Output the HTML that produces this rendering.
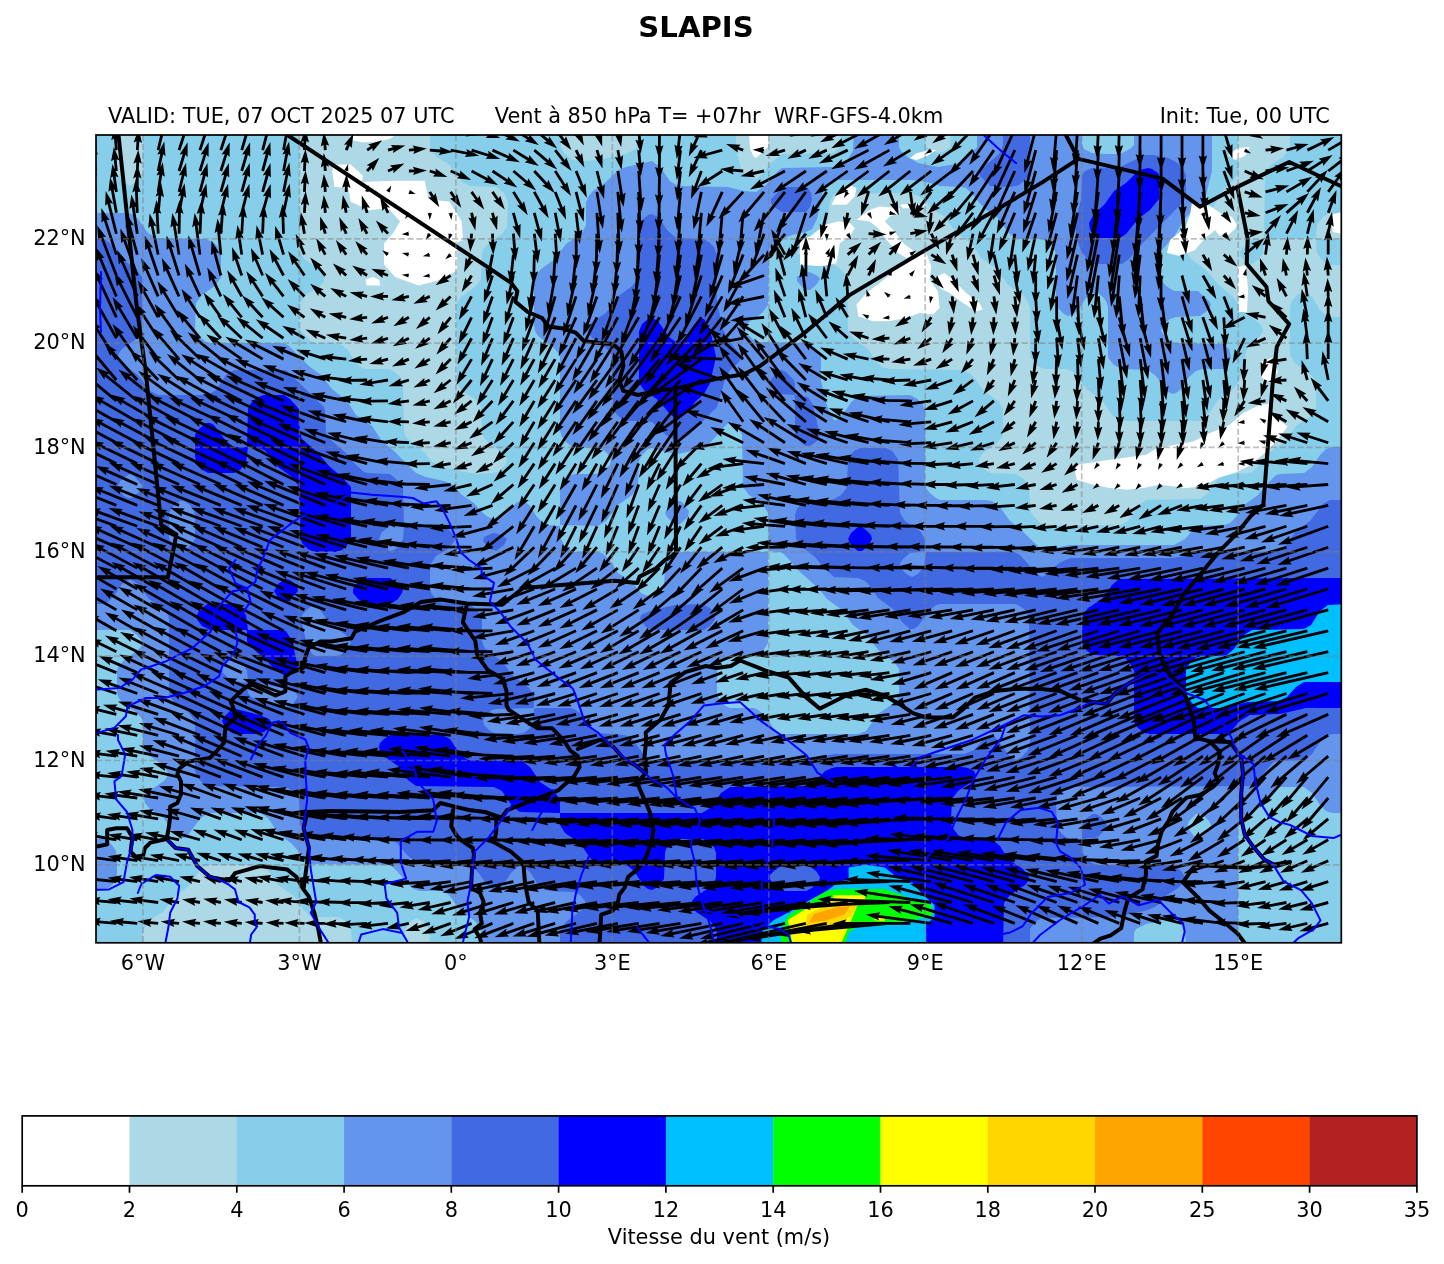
<!DOCTYPE html>
<html><head><meta charset="utf-8"><title>SLAPIS</title>
<style>html,body{margin:0;padding:0;background:#fff;}body{width:1444px;height:1264px;overflow:hidden;}svg{display:block;}</style>
</head><body>
<svg width="1444" height="1264" viewBox="0 0 1444 1264">
<defs><clipPath id="m"><rect x="96.0" y="135.0" width="1245.3" height="807.8"/></clipPath></defs>
<rect width="1444" height="1264" fill="#fff"/>
<g clip-path="url(#m)">
<rect x="96.0" y="135.0" width="1245.3" height="807.8" fill="#fff"/>
<path fill="#add8e6" d="M94 131l655 0 1 18 4 8 2 1 12-11 1-16 577 0 0 816-1254 0 0-816zM1224 215l-10 10-1 2 6 8 5 3 2-1 9-8 2-4-5-8-6-3z"/><path fill="#87ceeb" d="M94 131l23 0 0 42 5 8 8 5 8-5 5-8 0-42 156 0 1 120 4 8 15 10 6 8-1 4-3 4-15 10-6 8-1 22 2 6 9 10 4 2 22 0 6 2 6 5 8 13 8 6 26 0 6 4 4 4 3 6 1 48 2 6 18 15 7 9 5 3 6 3 28 6 8 1 14-1 6-1 7-7 2-6-5-7-12-8-6-6-2-5-1-26-6-8-13-8-5-8-1-78 5-8 14-10 6-8 1-26 2-5 6-6 12-8 5-7 1-26-4-8-8-6-26-1-8-4-12-17-13-8-5-6-2-6 0-14 130 0 1 16 3 6 8 7 10 1 16-1 28-6 6-3 4-2 2-4 0-14 98 0 0 18 5 20 4 6 9 4 4-1 14-16 10-8 52-1 6-6 1-16 84 0 1 16 5 4 7 2 7-2 5-4 1-16 287 0 0 38-1 6-4 6-9 8-11 18-19 18-7 28 5 7 13 9 15 17 13 11 11 15 15 11 3 4 1 4-3 5-10 9-3 4-6 26-5 11-6 6-12 8-10 15-8 6-80 0-8-6-10-15-16-11-8-12-6-6-6-2-22 0-6-3-5-5-3-6 0-48-4-8-4-5-14-9-11-16-15-10-10-15-16-11-11-16-13-8-8-10-8-4-8-2-74 1-4 7-3 24-3 10-8 7-16 7-2 2-1 2 7 4 28 7 6 3 6 6 3 8 1 50 6 8 14 10 8 12 6 6 8 2 74 1 8 5 12 16 14 10 5 8 0 26-6 8-15 11-3 5 0 4 5 6 6 4 26 1 8 5 5 8 2 26 9 10 6 3 74-1 8-4 10-15 8-6 54-1 8-6 8-12 7-6 5-1 20-1 4-1 10-9 8-11 16-11 10-15 16-11 4-7 0-27-6-7-15-11-5-8 0-48 2-6 6-7 6-2 8 5 8 13 6 5 6 2 14 0 0 630-916 0-1-18-6-8-7-3-6 4-5 7-1 18-52 0-1-18-7-9-6-3-24 0-4-1-7-7-9-13-16-11-11-16-7-4-8 0-42 0-6 2-6 6-8 12-16 12-10 14-12 8-6 6-3 6 0 16-51 0 0-816zM1292 131l54 0 0 82-16 0-7 4-6 8-1 14-52 0-1 14-5 7-6 4-4-1-5-4-3-4 0-4 12-12 12 0 1-66 5-7 13-9 5-6 2-6 0-14zM1318 239l28 0 0 26-16 0-7-4-6-8-1-14z"/><path fill="#6495ed" d="M854 131l45 0 0 16 2 4 5 5 12 7 20 4 18-3 10-5 11-12 0-16 105 0 0 14 2 4 8 4 12 1 16 0 10-5 4-4 0-14 78 0 0 40-7 28-3 4-12 10-7 8-9 16-13 14-1 6 0 20 2 4 4 5 8 5 24 0 11 10 2 4-4 6-7 5-24 1-6 2-7 6-2 6 5 7 8 5 50 1 5 5 2 8-3 7-4 5-22 0-6 2-7 6-8 12-5 4-4 1-5-3-11-15-8-6-26-1-8-4-5-6-1-4 0-48-1-4-3-5-6-5-6 0-6 5-7 11-5 5-6 2-4-2-5-5-3-6 0-48-1-4-3-5-6-5-4-2-24 0-6-3-5-5-9-13-14-10-14-16-4-4-4-1-22-1-14-4-14-2-76 0-6 2-4 4-3 5-6 28-5 10-6 3-14 3-10 4-7 4-5 6-1 6-1 50-6 8-14 10-4 6 2 4 10 9 50 1 4 1 6 5 5 8 0 24 7 28 6 11 2 0 5-3 11-16 8-5 50-1 6 3 6 5 3 6 0 74 1 5 4 5 6 5 4 2 46 0 6 1 8 6 10 14 8 6 24 23 28-5 104 0 11-6 7-8 6-5 26-1 6-2 6-6 8-12 14-10 8-10 10-10 4-1 24-1 8-6 8-12 6-6 6-2 14 0 0 366-14 0-6-2-6-6-8-12-8-6-24 0-6 3-16 18-16 12-3 5-1 4 0 118-52 0-1-18-6-8-7-3-26 6-10 5-2 4 0 14-652 0 0-14-2-6-5-6-14-10-12-16-7-4-22 0-6-2-5-4-13-15-6-5-78-1-6-4-14-16-14-11-10-15-6-4-4-1-50 0-8 6-12 16-4 3-4-1-8-6-8-13-14-9-5-6-1-4 2-4 6-6 12-8 3-4 1-4-5-8-12-8-6-6-2-6 0-22-1-4-6-7-10-6-5-5-3-4-1-6 0-20 1-4 6-7 14-10 4-5 0-4-5-6-7-5-38 0 0-417 34 0 6 1 6 5 10 14 8 5 50 1 8 4 4 4 3 6 0 24-5 8-14 10-6 8-1 26 5 8 6 5 4 1 72 0 6 2 22 22 10 7 12 15 15 12 9 14 16 11 10 15 12 10 22 22 10 4 18 4 9 4 9 10 12 8 9 10 5 4 6 2 8-2 5-4 9-10 4-2 4 0 6 5 7 11 6 6 5 2 12 1 1 13 3 6 4 3 6 4 22 0 6 1 7 6 9 14 14 9 9 11 9 4 6-1 7-5 1-4 1-22 3-6 8-6 6-1 86 0 0 91-5 8-7 5-26 0-8 6-4 5-1 4 0 22 1 4 6 8 6 3 24 0 4 2 7 5 9 14 8 5 76 0 8-3 12-17 13-9 6-6 2-6 0-24-5-7-15-11-11-15-15-11-11-15-15-11-8-10-19-17-16-18-4-2-11-1-1-38-5-8-14-10-6-8-1-52-3-6-5-5-4-1-2 0-18 20-6 4-8 3-18 4-12-2-14-4-4 1-6 6-3 6-1 24-1 4-5 6-14 10-12 16-8 5-38-1 0-36 4-8 4-4 6-3 22 0 6-2 8-7 1-6-4-6-7-5-27-1-6-4-5-6-2-6 0-74-2-4-4-5-16-12-3-5-1-6 0-44 2-6 5-6 14-10 11-15 12-8 5-5 3-6 0-22 2-6 5-6 12-8 12-12 9-4 26-6 8 6 10 14 8 5 50 1 16 4 12 1 10-7 12-14 4-3 50-1 6-1 6-3 4-4 5-8 1-20zM1195 815l-6 6-2 6 7 9 4 2 4-1 7-6 2-6-2-4-5-5-4-2-4 0zM804 273l4-1 4 1 7 4 1 2-4 6-6 5-2 0-4-1-7-8 0-4 6-4zM676 501l4 0 3 2 6 8-1 6-8 7-4 1-4-3-5-5-2-4 3-6 7-6zM94 839l10 0 8 6 4 6 1 10 0 16-3 6-4 4-6 3-10 1-2 0 0-52z"/><path fill="#4169e1" d="M1004 131l26 0 0 38-1 6-5 6-5 4-3 1-8 1-18-1-9-9-2-4 7-8 12-10 3-4 2-6 0-14zM1146 155l8 0 14 3 8 4 6 5 4 8 0 22-2 4-47 48-8 10-7 5-28 0-7-5-6-8-4-12-2-14 3-14 3-12 1-24 3-4 7-3 28-1 25-12zM784 187l20 0 4 1 3 5 1 6-2 8-4 5-24 0-8-5-3-4 0-4 12-12zM648 215l4-1 6 3 10 14 8 7 28 1 6 4 4 4 3 8 0 48 6 26 5 11 11 13 3 4-4 6-8 7-4 6-9 31-28 28-9 5-4 0-10-5-14-13-4-1-22 0-8-5-4-5-1-4-1-52-7-8-13-9-5-7 1-4 4-5 14-9 11-16 14-10 6-6 1-6 1-48 2-6 7-6zM94 239l10 0 6 4 12 16 14 10 6 8 0 54-6 8-14 10-3 4-1 4 6 8 14 10 12 16 8 4 50 0 8-5 10-15 8-5 52 0 38 37 1 4 1 22 6 8 14 12 8 10 10 9 4 1 22 1 6 5 7 8 1 38-14 1-8 6-3 7 5 8 6 4 4-1 4-3 5-8 1-13 38 0 6 3 4 4 3 6-2 4-5 6-12 7-6 9 0 22 1 6 5 6 6 4 26 1 8 5 6 8 0 24 2 6 6 6 12 8 10 14 16 12 6 8 0 13-38 1-4 1-6 5-3 6 1 4 6 6 6 3 22 0 6-1 5-4 4-6 1-14 2-1 34 0 4 1 6 4 10 14 8 6 26 2 4 1 6 5 10 14 6 5 4 0 150 0 30-6 130 0 10-4 10-11 6-4 4 1 4 4 9 13 5 5 4 2 6-3 6-7 2-7-1-124-1-4-4-6-6-4-4-1-74 0-4 1-5 4-13 17-4 3-4 0-7-6-10-14-15-11-8-12-5-5-7-3-24-1-11-10-8-10-9-7-10-11-1-24 2-6 5-6 6-3 24 0 4-2 5-3 5-6 1-4 1-26 6-8 6-3 26 0 6 3 6 8 2 54 5 8 15 10 4 6 1 4 0 10-15 2-6 5-4 5 1 4 2 4 5 4 4 2 6-3 6-7 2-15 88 0 6 3 16 18 6 4 6-3 11-11 11-5 102 0 14-2 16-4 74 0 4-2 6-5 10-14 14-10 14-18 6-3 16 0 0 234-14 0-6 2-6 6-8 12-8 6-24 1-6 1-5 5-13 15-6 4-178 1-8 2-7 8-1 6 1 24 4 6 5 4 4 2 12 0 1 14 4 6 5 4 6 2 72 0 6 2 5 4 4 6-2 6-5 5-11 7-7 8-5 4-7 3-30 7-76 1-6 3-6 8 0 18-470 0 0-14 2-6 5-6 15-11 3-5 0-4-5-6-6-3-24-1-6-2-7-6-7-11-6-5-4-1-4 2-5 5-8 12-5 4-4 1-7-5-9-13-8-6-52-2-11-9-10-12-7-4-72 0-6-1-12-13-1-26-4-6-7-5-6-1-72-1-6-2-7-7-2-6 0-50-6-8-15-11-5-7 0-76-2-6-6-6-12-8-11-15-8-5-8 5-8 12-6 6-6 2-10 0 0-365zM128 475l-8 6-2 6 2 4 4 5 4 2 4 0 8-7 2-4 0-2-8-9-4-2-2 1zM180 501l-7 6-4 6 0 24 1 4 5 6 5 3 4 1 6-5 5-7 0-24-1-4-4-6-6-4-4 0zM310 607l-8 8-1 4 6 26 5 9 4 2 20 0 4-1 6-4 5-8-3-6-5-4-12-8-13-18-4-2-4 2zM230 659l-7 8-1 2 1 4 9 8 15 2 1 10 3 4 9 4 26 6 6-2 6-8-2-4-8-4-16-3-12-3-12-1-1-11-2-4-9-9-2-1-4 2zM780 370l2 0 4 2 7 7 2 4 0 12 13 2 5 8 7 30-3 6-7 5-4 0-4-2-7-9 0-38-1-2-14-1-6-4-4-5 1-6 8-8zM494 533l8 2 5 4-3 6-8 6-6-2-7-8 1-4 9-4zM676 605l26-1 8 4 5 7 0 4-4 6-7 5-50 0-8-3-6-8 1-4 9-4 25-6zM1092 814l4 0 4 2 5 5 2 4-3 6-6 6-4 1-12 1 0-14 4-6 5-4z"/><path fill="#0000ff" d="M1144 169l4-1 4 1 6 4 1 2 0 24-9 11-12 9-12 15-6 4-24 0-6-8-1-7 5-9 10-9 10-14 12-8 10-10 7-4zM650 318l4 1 4 2 11 16 7 5 4 0 4-3 10-14 6-6 4 0 6 10 6 28-6 26-6 11-8 7-8 10-10 9-2-1-7-6-11-13-14-10-5-7 0-52 3-7 6-5zM258 397l6-2 20 0 6 4 9 10 1 24 2 6 14 12 14 16 12 10 9 10 0 50-2 6-7 7-6 2-22 0-6-3-6-6-2-6-1-46-1-6-6-8-14-10-8-12-6-5-6-2-10-1-2 16-6 7-6 3-26 0-7-4-4-6-2-6 0-22 4-6 7-6 4 0 4 2 12 16 6 5 4 1 11 0 1-38 3-6 6-6zM858 527l4 0 4 3 5 5 1 4-3 6-7 6-4 0-4-3-4-5-2-4 3-6 7-6zM286 579l4 1 4 3 3 4 1 4-8 9-4 3-7-4-5-8 4-7 7-5zM364 578l26 0 8 5 5 6-1 4-4 6-6 4-26 1-8-5-5-6 0-4 4-6 6-4zM1120 579l226-1 0 130-40 0-26 6-30 1-10 6-8 9-8 4-74 0-6-1-7-6-3-6 0-50-3-6-5-6-6-3-26-1-7-4-5-8 0-22 1-6 5-7 14-9 10-14 7-6zM208 604l24 0 6 2 8 9 2 15 34 0 4 1 6 10 6 26-1 4-5 3-4 1-4 0-10-6-6-7-19-17-2-4 0-10-1-1-36 0-8-4-4-5-2-4 3-6 7-6zM230 711l6-2 24 6 9 4 3 4-2 4-6 5-8 2-20 0-4-1-7-6-3-6 2-4 6-6zM392 735l50 0 8 4 10 15 8 6 54 1 8 6 10 15 12 8 5 5 3 6 0 12-40-1-8-6-10-15-8-4-78-1-8-6-10-14-13-9-5-6-1-4 1-4 4-4 6-4zM838 767l124 0 6 1 6 3 2 4-2 4-4 4-12 8-6 8-1 22 1 6 6 8 6 3 24 1 6 2 6 5 8 13 15 10 6 8-1 4-3 4-15 10-6 8-1 44-286 0 0-14-2-6-5-6-14-9-4-7 0-4 3-4 15-10 5-6 1-4 0-24-2-6-6-6-6-2-22 0-4 1-5 3-5 6-1 4-1 26-6 8-6 3-4-1-4-3-10-15-6-5-6-1-20 0-6-2-6-5-10-15-15-10-5-8 0-12 142 0 8-5 11-15 9-6 78-1 6-3 11-12 7-3 5-1zM783 865l-7 4-6 6 0 4 4 6 8 6 24 0 6-3 7-7 1-4-4-6-8-6-24 0z"/><path fill="#00bfff" d="M1328 605l18-1 0 78-42 0-8 5-9 10-9 4-30 1-26 6-24 0-6-5-6-8 0-26 4-6 6-5 6-2 20 0 5-1 7-6 10-14 8-5 52-1 7-4 9-14 8-6z"/>
<path fill="#fff" d="M349.5 135.0L395.1 135.0L390.2 138.7L377.9 141.8L363.0 142.4L350.7 139.9ZM332.2 172.0L333.4 164.6L350.7 164.6L363.0 175.7L361.8 181.9L392.7 180.7L424.8 180.7L428.5 199.2L449.5 201.7L461.8 221.4L463.0 239.9L456.9 242.4L456.9 270.8L437.1 280.7L418.6 285.6L395.1 277.0L384.0 264.6L384.0 243.6L392.7 233.8L400.1 221.4L390.2 210.3L380.3 209.1L369.2 210.3L350.7 201.7L348.2 188.1L334.6 186.9ZM365.5 279.4L372.9 277.0L379.1 279.4L380.3 285.6L366.7 285.6ZM800.0 239.7L810.0 236.4L824.9 224.8L838.2 221.5L849.9 223.1L854.8 228.1L849.9 236.4L839.9 243.1L838.2 253.0L836.6 263.0L821.6 266.3L800.0 264.7ZM831.6 204.8L838.2 191.5L849.9 184.9L856.5 188.2L854.8 196.5L846.5 204.8ZM856.5 219.8L869.8 209.8L879.8 206.5L899.7 208.2L899.7 213.2L889.7 216.5L884.8 221.5L893.1 229.8L903.0 243.1L916.3 253.0L906.4 258.0L898.1 253.0L886.4 239.7L878.1 228.1L869.8 221.5ZM856.5 304.6L866.5 292.9L879.8 283.0L899.7 266.3L916.3 256.4L926.3 253.0L931.3 266.3L929.6 279.6L937.9 291.3L939.6 307.9L933.0 314.5L919.7 312.9L906.4 317.9L888.1 321.2L873.1 321.2L858.2 316.2ZM937.9 276.3L944.6 273.0L956.2 283.0L966.2 292.9L979.5 302.9L982.8 309.5L976.2 311.2L962.9 302.9L949.6 292.9L939.6 287.9ZM909.7 158.3L916.3 153.3L929.6 150.0L936.3 150.0L926.3 156.6L916.3 160.0ZM899.7 204.8L913.0 203.2L926.3 204.8L916.3 208.2L903.0 208.2ZM1192.0 202.0L1210.0 206.0L1222.0 214.0L1218.0 228.0L1205.0 238.0L1195.0 250.0L1180.0 256.0L1167.0 253.0L1170.0 240.0L1185.0 228.0L1190.0 215.0ZM1238.0 267.0L1246.0 265.0L1248.0 290.0L1247.0 312.0L1239.0 312.0L1238.0 290.0ZM1228.0 155.0L1238.0 148.0L1250.0 147.0L1245.0 156.0L1235.0 160.0ZM1260.0 362.0L1272.0 358.0L1278.0 372.0L1270.0 382.0L1262.0 378.0ZM1330.0 215.0L1342.0 212.0L1342.0 234.0L1333.0 232.0ZM1076.6 464.8L1109.9 459.8L1146.4 454.8L1156.4 448.2L1193.0 441.5L1209.6 433.2L1229.5 424.9L1242.8 413.3L1259.4 405.0L1272.7 403.3L1269.4 413.3L1287.7 426.6L1276.1 441.5L1262.8 454.8L1247.8 466.5L1234.5 473.1L1217.9 478.1L1202.9 486.4L1186.3 488.1L1159.7 484.8L1143.1 488.1L1126.5 489.7L1109.9 488.1L1093.2 484.8L1076.6 479.8L1075.0 471.5Z"/>
<path fill="#00bfff" d="M760.0 952.0L762.8 929.8L773.9 920.1L791.9 910.4L808.5 900.7L826.5 891.0L837.6 882.7L848.6 878.5L848.6 867.5L865.3 864.7L884.7 867.5L898.5 878.5L912.4 882.7L923.4 895.2L934.5 904.9L934.5 917.3L926.2 924.3L926.2 940.9L924.8 952.0 Z"/><path fill="#00ff00" d="M780.8 952.0L780.8 932.6L787.7 915.9L801.6 906.2L826.5 891.0L837.6 888.9L884.7 888.9L905.4 896.6L931.7 904.9L931.7 915.9L912.4 920.1L893.0 924.3L857.0 927.0L848.6 932.6L843.1 952.0 Z"/><path fill="#ffff00" d="M793.2 952.0L790.5 932.6L787.7 920.1L805.7 909.0L822.3 901.4L833.4 899.3L833.4 895.2L865.3 895.2L865.3 900.7L857.0 906.2L851.4 920.1L845.9 932.6L837.6 952.0 Z"/><path fill="#ffff00" d="M873.6 920.1L876.3 915.9L884.7 915.9L884.7 921.5 Z"/><path fill="#ffd700" d="M805.7 925.6L807.1 914.6L822.3 907.6L843.1 904.2L858.3 903.5L851.4 915.9L843.1 920.1L826.5 925.6L815.4 929.8 Z"/><path fill="#ffa500" d="M808.5 922.9L814.0 913.9L837.6 906.9L850.0 906.2L844.5 914.6L825.1 920.8 Z"/>
<path fill="#000" d="M96.9 129.1l-1.5-17.4 2.9 1.2-5.4-13.6-3.0 14.3 2.7-1.6 1.5 17.3zM117.8 129.1l-1.0-11.6 2.9 1.1-5.4-13.6-3.0 14.4 2.7-1.7 1.0 11.6zM138.7 129.3l0.6-8.7 2.7 1.5-3.3-14.2-5.1 13.7 2.9-1.2-0.6 8.7zM159.5 129.5l4.0-16.9 2.4 2.0-0.9-14.6-7.2 12.7 3.0-0.8-4.0 17.0zM180.4 129.6l5.4-16.5 2.2 2.2 0.3-14.6-8.3 12.0 3.1-0.5-5.4 16.6zM201.3 129.6l5.4-16.5 2.2 2.2 0.3-14.6-8.3 12.0 3.1-0.5-5.4 16.6zM222.2 129.6l5.4-16.5 2.2 2.2 0.3-14.6-8.3 12.0 3.1-0.5-5.4 16.6zM243.1 129.6l4.9-16.7 2.3 2.1-0.1-14.6-8.0 12.3 3.1-0.6-4.9 16.7zM264.0 129.6l4.4-16.9 2.4 2.1-0.5-14.6-7.6 12.5 3.0-0.7-4.4 16.8zM284.9 129.5l3.1-17.2 2.5 1.9-1.6-14.5-6.6 13.0 3.0-0.9-3.1 17.1zM305.8 129.3l0.5-9.1 2.7 1.5-3.6-14.2-4.8 13.8 2.9-1.3-0.5 9.1zM326.7 129.1l-0.4-5.4 2.9 1.2-5.4-13.6-3.0 14.3 2.7-1.7 0.4 5.4zM347.5 129.8l2.2-5.0 2.0 2.4 1.7-14.5-9.4 11.2 3.1-0.2-2.2 4.9zM367.9 130.4l4.5-3.0 0.4 3.1 9.4-11.1-14.0 4.1 2.7 1.6-4.5 2.9zM388.4 130.6l5.2-1.5-0.6 3.1 12.4-7.7-14.6-0.4 2.1 2.3-5.3 1.4zM409.0 130.6l5.4-0.5-1.1 2.9 13.5-5.4-14.3-2.9 1.7 2.6-5.4 0.5zM429.7 130.6l11.3 1.0-1.6 2.7 14.3-3.0-13.6-5.4 1.2 2.9-11.4-1.0zM450.4 130.6l17.1 3.3-1.9 2.5 14.5-1.5-12.9-6.8 0.8 3.0-17.0-3.3zM471.2 130.5l16.6 5.1-2.1 2.3 14.6 0.1-12.2-8.1 0.5 3.1-16.6-5.1zM491.9 130.5l15.9 7.1-2.4 1.9 14.5 1.9-11.1-9.5 0.1 3.1-15.9-7.1zM512.6 130.4l14.8 9.2-2.7 1.7 14.1 3.8-9.6-11.0-0.3 3.1-14.8-9.2zM533.4 130.3l13.3 11.2-2.9 1.2 13.4 5.8-8.0-12.2-0.7 3.0-13.3-11.2zM554.1 130.1l8.4 10.8-3.1 0.6 12.0 8.5-5.4-13.7-1.3 2.9-8.4-10.9zM574.8 129.8l2.3 4.9-3.1-0.1 9.9 10.8-2.3-14.4-1.9 2.5-2.4-4.9zM595.6 129.6l1.6 5.2-3.1-0.5 8.1 12.1-0.1-14.6-2.2 2.2-1.6-5.2zM616.5 129.5l1.0 5.3-3.0-0.9 6.7 13.0 1.5-14.6-2.5 1.9-1.0-5.3zM637.3 129.3l1.0 11.5-2.9-1.1 5.4 13.6 3.0-14.4-2.7 1.7-1.0-11.5zM658.2 129.2l-0.3 17.4-2.8-1.5 4.0 14.1 4.4-13.9-2.8 1.3 0.3-17.4zM679.1 129.0l-2.1 17.3-2.6-1.7 2.4 14.4 5.9-13.4-2.9 1.0 2.1-17.2zM700.1 128.6l-7.3 15.8-2.0-2.5-2.1 14.5 9.7-10.9-3.1 0.0 7.4-15.7zM721.9 127.9l-16.7 4.6 0.6-3.1-12.4 7.8 14.6 0.3-2.1-2.3 16.8-4.7zM743.7 127.9l-4.7-1.7 2.3-2.2-14.6-0.7 11.7 8.7-0.3-3.1 4.6 1.6zM764.1 128.2l-1.0 0.0 1.1-1.9-9.9 2.6 9.7 3.2-0.9-1.9 1.0 0.0zM784.6 127.9l-5.2 1.5 0.5-3.1-12.1 8.1 14.6 0.0-2.2-2.3 5.2-1.6zM805.3 127.9l-4.9 2.3 0.1-3.1-10.9 9.7 14.4-2.1-2.4-1.9 4.9-2.3zM826.2 127.9l-4.9 2.3 0.1-3.1-10.9 9.7 14.4-2.1-2.4-1.9 4.9-2.3zM847.1 127.9l-16.3 7.7 0.1-3.2-10.9 9.8 14.4-2.2-2.4-1.9 16.3-7.6zM867.9 128.0l-26.1 13.3-0.1-3.1-10.5 10.1 14.3-2.6-2.5-1.9 26.2-13.4zM888.8 128.0l-24.4 13.5-0.1-3.1-10.2 10.5 14.3-3.2-2.6-1.7 24.3-13.6zM909.6 128.0l-15.6 9.4-0.2-3.1-9.9 10.8 14.2-3.6-2.7-1.7 15.7-9.4zM930.5 128.0l-7.3 4.7-0.3-3.1-9.4 11.2 14.0-4.1-2.7-1.6 7.2-4.7zM951.3 128.1l-9.6 6.8-0.4-3.1-9.0 11.5 13.8-4.7-2.7-1.4 9.6-6.9zM972.0 128.2l-15.0 15.2-1.0-2.9-6.8 12.9 12.8-7.0-3.0-1.0 15.0-15.2zM992.8 128.4l-17.6 25.6-1.5-2.8-4.5 13.9 11.4-9.1-3.1-0.5 17.6-25.5zM1013.6 128.6l-17.0 36.9-1.9-2.4-2.1 14.5 9.7-11.0-3.1 0.1 16.9-36.9zM1034.4 128.8l-8.2 31.6-2.3-2.1 0.5 14.6 7.6-12.5-3.1 0.7 8.2-31.5zM1055.2 129.1l-2.5 29.3-2.7-1.7 3.0 14.3 5.4-13.5-2.9 1.1 2.5-29.3zM1076.1 129.1l-1.6 25.3-2.7-1.6 3.2 14.2 5.1-13.6-2.8 1.2 1.6-25.3zM1097.0 129.1l-0.8 17.4-2.7-1.5 3.6 14.2 4.8-13.8-2.9 1.2 0.8-17.3zM1117.9 129.2l-0.5 17.4-2.7-1.5 3.8 14.1 4.6-13.9-2.9 1.3 0.5-17.4zM1138.8 129.2l-0.4 26.3-2.7-1.4 4.0 14.0 4.4-13.9-2.9 1.3 0.4-26.3zM1159.7 129.2l0.0 29.4-2.8-1.4 4.2 14.0 4.2-14.0-2.8 1.4 0.0-29.4zM1180.6 129.2l0.0 29.4-2.8-1.4 4.2 14.0 4.2-14.0-2.8 1.4 0.0-29.4zM1201.5 129.2l0.0 27.6-2.8-1.4 4.2 14.0 4.2-14.0-2.8 1.4 0.0-27.6zM1222.4 129.6l5.1 17.3-3.1-0.6 8.0 12.3 0.1-14.7-2.3 2.2-5.1-17.3zM1244.0 130.4l7.5 3.9-2.5 1.8 14.3 2.7-10.5-10.1 0.0 3.1-7.5-3.8zM1265.7 130.6l5.4-0.5-1.2 2.9 13.6-5.6-14.4-2.8 1.7 2.7-5.4 0.5zM1286.8 130.5l9.3-2.5-0.6 3.0 12.4-7.8-14.7-0.3 2.1 2.4-9.2 2.6zM1308.0 130.5l15.6-7.6 0.0 3.1 10.8-9.8-14.5 2.3 2.5 1.9-15.7 7.5zM1328.9 130.4l15.1-8.7 0.2 3.1 10.0-10.6-14.2 3.4 2.6 1.7-15.1 8.7zM96.9 150.0l-1.5-17.4 2.9 1.2-5.4-13.6-3.0 14.3 2.7-1.6 1.5 17.3zM117.8 150.0l-1.0-11.6 2.9 1.1-5.4-13.6-3.0 14.4 2.7-1.7 1.0 11.6zM138.7 150.2l0.6-8.7 2.7 1.5-3.3-14.2-5.1 13.7 2.9-1.2-0.6 8.7zM159.5 150.4l4.0-16.9 2.4 2.0-0.9-14.6-7.2 12.7 3.0-0.8-4.0 17.0zM180.4 150.5l5.4-16.5 2.2 2.2 0.3-14.6-8.3 12.0 3.1-0.5-5.4 16.6zM201.3 150.5l5.4-16.5 2.2 2.2 0.3-14.6-8.3 12.0 3.1-0.5-5.4 16.6zM222.2 150.5l5.4-16.5 2.2 2.2 0.3-14.6-8.3 12.0 3.1-0.5-5.4 16.6zM243.1 150.5l4.9-16.7 2.3 2.1-0.1-14.6-8.0 12.3 3.1-0.6-4.9 16.7zM264.0 150.5l4.4-16.9 2.4 2.1-0.5-14.6-7.6 12.5 3.0-0.7-4.4 16.8zM284.9 150.4l3.1-17.2 2.5 1.9-1.6-14.5-6.6 13.0 3.0-0.9-3.1 17.1zM305.8 150.2l0.5-9.1 2.7 1.5-3.6-14.2-4.8 13.8 2.9-1.3-0.5 9.1zM326.7 150.0l-0.4-5.4 2.9 1.2-5.4-13.6-3.0 14.3 2.7-1.7 0.4 5.4zM347.5 150.7l2.2-5.0 2.0 2.4 1.7-14.5-9.4 11.2 3.1-0.2-2.2 4.9zM367.9 151.3l4.5-3.0 0.4 3.1 9.4-11.1-14.0 4.1 2.7 1.6-4.5 2.9zM388.4 151.5l5.2-1.5-0.6 3.1 12.4-7.7-14.6-0.4 2.1 2.3-5.3 1.4zM409.0 151.5l5.4-0.5-1.1 2.9 13.5-5.4-14.3-2.9 1.7 2.6-5.4 0.5zM429.7 151.5l10.7 0.9-1.6 2.7 14.3-3.0-13.6-5.4 1.2 2.9-10.8-0.9zM450.4 151.5l16.3 3.1-1.9 2.5 14.5-1.4-12.9-6.8 0.8 3.0-16.2-3.2zM471.2 151.4l16.6 5.1-2.1 2.3 14.6 0.1-12.2-8.1 0.5 3.1-16.6-5.1zM491.9 151.4l15.9 7.1-2.4 1.9 14.5 1.9-11.1-9.5 0.1 3.1-15.9-7.1zM512.6 151.3l14.8 9.2-2.7 1.7 14.1 3.8-9.6-11.0-0.3 3.1-14.8-9.2zM533.4 151.2l13.3 11.2-2.9 1.2 13.4 5.8-8.0-12.2-0.7 3.0-13.3-11.2zM554.1 151.0l8.6 11.1-3.0 0.6 11.9 8.4-5.3-13.6-1.4 2.8-8.6-11.1zM574.8 150.7l2.9 6.0-3.2-0.1 9.9 10.8-2.3-14.4-1.9 2.4-2.9-5.9zM595.6 150.5l1.9 6.3-3.1-0.5 8.1 12.2 0.0-14.6-2.3 2.1-1.9-6.3zM616.5 150.4l1.4 7.3-3.0-0.8 6.7 12.9 1.5-14.5-2.5 1.9-1.4-7.4zM637.3 150.2l1.2 13.3-2.9-1.1 5.4 13.6 2.9-14.4-2.6 1.7-1.2-13.3zM658.2 150.1l-0.3 18.2-2.8-1.4 3.9 14.0 4.5-13.9-2.8 1.4 0.3-18.3zM679.1 149.9l-2.1 17.3-2.6-1.7 2.4 14.4 5.9-13.4-2.9 1.0 2.1-17.2zM700.1 149.5l-7.3 15.8-2.0-2.5-2.1 14.5 9.7-10.9-3.1 0.0 7.4-15.7zM721.9 148.8l-16.7 4.6 0.6-3.1-12.4 7.8 14.6 0.3-2.1-2.3 16.8-4.7zM743.7 148.8l-5.3-1.9 2.3-2.2-14.6-0.7 11.7 8.6-0.3-3.1 5.2 1.9zM764.1 149.0l-1.1-0.1 1.2-2.2-11.5 3.0 11.3 3.8-1.1-2.3 1.2 0.0zM784.6 148.8l-7.5 2.2 0.5-3.0-12.1 8.0 14.6 0.0-2.2-2.3 7.5-2.3zM805.3 148.8l-7.1 3.3 0.1-3.1-10.9 9.7 14.4-2.1-2.4-1.9 7.1-3.3zM826.2 148.8l-7.1 3.3 0.1-3.1-10.9 9.7 14.4-2.1-2.4-1.9 7.1-3.3zM847.1 148.8l-17.4 8.1 0.1-3.1-10.9 9.7 14.5-2.1-2.5-1.9 17.4-8.1zM867.9 148.9l-26.1 13.3-0.1-3.1-10.5 10.1 14.3-2.6-2.5-1.9 26.2-13.4zM888.8 148.9l-24.5 13.6-0.1-3.1-10.2 10.4 14.2-3.1-2.6-1.8 24.5-13.6zM909.6 148.9l-16.6 10.0-0.2-3.1-9.8 10.8 14.1-3.6-2.6-1.7 16.6-10.0zM930.9 149.5l-0.6 0.4-0.2-1.6-4.9 5.7 7.2-2.1-1.4-0.8 0.6-0.4zM951.3 149.0l-11.0 7.8-0.5-3.1-9.0 11.5 13.9-4.6-2.8-1.5 11.1-7.9zM972.0 149.1l-15.8 16.1-1.0-3.0-6.9 13.0 12.8-7.1-2.9-0.9 15.8-16.1zM992.8 149.3l-18.2 26.4-1.5-2.7-4.5 13.9 11.4-9.2-3.1-0.4 18.2-26.4zM1013.6 149.5l-17.0 37.0-2.0-2.4-2.0 14.5 9.7-11.0-3.2 0.1 17.0-37.0zM1034.4 149.7l-8.2 31.6-2.3-2.1 0.5 14.6 7.6-12.5-3.1 0.7 8.2-31.5zM1055.2 150.0l-2.5 29.3-2.7-1.7 3.0 14.3 5.4-13.5-2.9 1.1 2.5-29.3zM1076.1 150.0l-1.7 26.1-2.7-1.6 3.3 14.3 5.1-13.7-2.9 1.2 1.7-26.1zM1097.0 150.0l-0.9 19.8-2.7-1.5 3.6 14.2 4.8-13.8-2.9 1.3 0.9-19.8zM1117.9 150.1l-0.5 19.8-2.8-1.5 3.8 14.1 4.6-13.9-2.8 1.4 0.5-19.9zM1138.8 150.1l-0.4 28.7-2.8-1.4 4.0 14.0 4.4-13.9-2.8 1.4 0.4-28.8zM1159.7 150.1l0.0 31.2-2.8-1.4 4.2 14.0 4.2-14.0-2.8 1.4 0.0-31.2zM1180.6 150.1l0.0 30.2-2.8-1.4 4.2 14.0 4.2-14.0-2.8 1.4 0.0-30.2zM1201.5 150.1l0.0 27.6-2.8-1.4 4.2 14.0 4.2-14.0-2.8 1.4 0.0-27.6zM1222.4 150.5l5.1 17.3-3.1-0.6 8.0 12.3 0.1-14.7-2.3 2.2-5.1-17.3zM1244.3 150.7l0.7 0.4-1.3 0.9 7.4 1.4-5.5-5.2 0.0 1.6-0.6-0.3zM1265.7 151.5l6.0-0.6-1.1 2.9 13.5-5.5-14.3-2.8 1.7 2.6-6.1 0.6zM1286.8 151.4l10.1-2.8-0.6 3.1 12.3-7.8-14.6-0.3 2.1 2.3-10.0 2.9zM1308.0 151.4l15.6-7.6 0.0 3.1 10.8-9.8-14.5 2.3 2.5 1.9-15.7 7.5zM1328.9 151.3l15.1-8.7 0.2 3.1 10.0-10.6-14.2 3.4 2.6 1.7-15.1 8.7zM96.9 170.9l-1.8-17.4 2.9 1.1-5.6-13.4-2.8 14.3 2.7-1.7 1.8 17.3zM117.8 170.9l-1.2-11.6 2.9 1.1-5.7-13.5-2.7 14.3 2.7-1.6 1.2 11.5zM138.7 171.1l0.4-8.8 2.7 1.5-3.5-14.1-4.9 13.7 2.9-1.2-0.4 8.7zM159.5 171.3l3.6-17.0 2.4 1.9-1.2-14.6-7.0 12.9 3.0-0.8-3.5 17.0zM180.4 171.4l5.0-16.7 2.2 2.2 0.0-14.7-8.0 12.3 3.1-0.6-5.0 16.7zM201.3 171.4l5.0-16.6 2.3 2.1 0.1-14.6-8.1 12.2 3.1-0.6-5.1 16.7zM222.2 171.4l5.1-16.6 2.3 2.2 0.1-14.7-8.1 12.2 3.1-0.5-5.2 16.6zM243.1 171.4l4.8-16.7 2.3 2.1-0.1-14.6-8.0 12.3 3.1-0.6-4.8 16.7zM264.0 171.4l4.5-16.8 2.3 2.0-0.4-14.6-7.7 12.5 3.1-0.7-4.5 16.8zM284.9 171.3l3.2-17.1 2.5 1.9-1.5-14.6-6.7 13.0 3.0-0.9-3.2 17.1zM305.8 171.1l0.5-9.1 2.7 1.5-3.5-14.2-4.9 13.8 2.9-1.3-0.5 9.1zM326.7 170.9l-0.4-5.4 2.9 1.2-5.4-13.6-3.0 14.3 2.7-1.7 0.4 5.4zM346.9 171.2l0.2-0.7 1.2 1.1-0.2-7.5-4.0 6.3 1.6-0.3-0.2 0.7zM368.1 171.9l3.7-3.9 1.1 2.9 6.4-13.1-12.6 7.4 3.0 0.9-3.6 4.0zM388.6 172.3l4.9-2.2-0.1 3.1 11.0-9.6-14.5 1.9 2.5 2.0-5.0 2.2zM408.9 172.4l5.4-0.2-1.3 2.9 13.9-4.7-14.1-3.7 1.5 2.7-5.4 0.2zM429.3 172.3l5.7 2.0-2.2 2.2 14.6 0.5-11.9-8.5 0.4 3.1-5.7-1.9zM450.1 172.3l9.0 3.9-2.4 2.0 14.5 1.8-11.1-9.5 0.1 3.2-9.0-4.0zM470.9 172.2l15.4 8.2-2.6 1.8 14.3 2.9-10.3-10.3-0.1 3.2-15.4-8.2zM491.7 172.2l14.5 9.6-2.7 1.6 13.9 4.2-9.3-11.2-0.4 3.1-14.4-9.7zM512.5 172.1l13.2 11.2-2.9 1.3 13.4 5.8-7.9-12.2-0.8 3.0-13.2-11.3zM533.2 172.0l11.9 12.7-3.0 0.9 12.7 7.3-6.5-13.1-1.1 2.9-11.9-12.7zM554.0 171.8l9.1 14.3-3.1 0.3 11.1 9.6-4.0-14.1-1.6 2.7-9.2-14.4zM574.8 171.5l6.0 15.1-3.1-0.3 9.1 11.4-1.3-14.5-2.1 2.3-6.0-15.0zM595.6 171.3l4.0 15.8-3.1-0.7 7.6 12.5 0.6-14.6-2.4 2.1-4.0-15.7zM616.5 171.2l3.7 23.6-2.9-0.9 6.3 13.2 2.0-14.5-2.6 1.8-3.8-23.6zM637.3 171.1l1.9 27.6-2.9-1.2 5.2 13.7 3.2-14.3-2.7 1.6-1.9-27.6zM658.2 171.0l-0.5 24.8-2.8-1.5 3.9 14.1 4.5-13.9-2.8 1.4 0.5-24.9zM679.1 170.8l-1.9 17.3-2.7-1.7 2.6 14.4 5.8-13.4-3.0 1.0 2.0-17.2zM700.1 170.5l-6.0 16.3-2.2-2.2-0.9 14.5 8.8-11.6-3.1 0.3 6.0-16.3zM721.5 169.8l-14.6 9.5-0.3-3.1-9.5 11.1 14.1-4.1-2.7-1.6 14.6-9.4zM743.3 169.6l-10.5-0.9 1.6-2.7-14.3 3.0 13.6 5.4-1.1-2.9 10.5 0.9zM763.8 169.6l-11.3 2.5 0.8-3.0-12.8 7.1 14.6 1.1-1.9-2.4 11.2-2.5zM784.3 169.8l-23.9 12.5-0.1-3.1-10.4 10.2 14.3-2.8-2.5-1.8 23.9-12.6zM805.1 169.8l-22.4 15.1-0.4-3.1-9.3 11.3 13.9-4.3-2.7-1.5 22.5-15.1zM826.0 169.8l-22.3 15.4-0.4-3.1-9.2 11.4 13.9-4.5-2.7-1.5 22.3-15.3zM846.9 169.9l-23.1 16.3-0.5-3.1-9.0 11.5 13.8-4.7-2.7-1.4 23.1-16.4zM867.7 169.9l-23.6 17.5-0.5-3.1-8.8 11.7 13.8-5.0-2.8-1.4 23.6-17.5zM888.6 169.9l-23.0 18.1-0.6-3.1-8.4 12.0 13.6-5.4-2.9-1.3 23.0-18.1zM909.5 169.9l-22.2 17.6-0.6-3.0-8.4 12.0 13.6-5.5-2.8-1.3 22.1-17.6zM930.4 169.9l-21.7 16.7-0.6-3.1-8.5 11.9 13.6-5.2-2.8-1.4 21.7-16.7zM951.3 169.9l-22.0 16.8-0.6-3.1-8.6 11.8 13.7-5.1-2.8-1.4 22.0-16.8zM972.0 170.0l-22.0 23.6-1.1-2.9-6.4 13.1 12.6-7.4-3.0-0.9 22.0-23.5zM992.8 170.2l-22.2 33.8-1.6-2.7-4.2 14.0 11.2-9.4-3.1-0.4 22.2-33.7zM1013.5 170.4l-16.9 37.7-2.0-2.4-1.9 14.5 9.5-11.1-3.1 0.1 17.0-37.6zM1034.4 170.6l-8.7 31.4-2.3-2.1 0.3 14.6 7.8-12.3-3.1 0.6 8.7-31.4zM1055.2 170.8l-3.5 29.2-2.6-1.7 2.4 14.4 5.9-13.4-2.9 1.1 3.5-29.2zM1076.1 170.9l-3.2 32.5-2.6-1.7 2.8 14.4 5.5-13.6-2.9 1.2 3.2-32.6zM1097.0 170.9l-2.9 38.9-2.7-1.6 3.2 14.3 5.2-13.6-2.9 1.2 2.9-39.0zM1117.9 170.9l-2.1 39.0-2.7-1.5 3.5 14.2 4.9-13.8-2.9 1.3 2.1-39.0zM1138.8 171.0l-1.7 47.9-2.7-1.5 3.7 14.1 4.7-13.8-2.9 1.3 1.7-48.0zM1159.7 171.0l-0.7 45.1-2.8-1.4 4.0 14.1 4.4-14.0-2.8 1.4 0.7-45.2zM1180.6 171.0l0.7 36.5-2.9-1.3 4.5 13.9 3.9-14.1-2.7 1.5-0.7-36.5zM1201.5 171.1l1.5 27.6-2.9-1.3 4.9 13.8 3.5-14.2-2.7 1.5-1.5-27.6zM1222.5 171.5l6.2 16.9-3.1-0.4 8.9 11.7-1.0-14.6-2.1 2.3-6.3-16.9zM1244.1 172.3l7.7 3.4-2.4 2.0 14.5 1.8-11.1-9.5 0.1 3.1-7.7-3.4zM1265.8 172.4l11.2-1.7-1.0 2.9 13.2-6.2-14.4-2.1 1.8 2.6-11.3 1.7zM1286.9 172.3l15.6-5.8-0.3 3.1 11.7-8.8-14.6 1.0 2.3 2.1-15.6 5.8zM1308.1 172.2l14.7-9.4 0.3 3.1 9.5-11.0-14.0 3.9 2.7 1.7-14.7 9.3zM1329.1 172.1l13.8-10.6 0.6 3.0 8.5-11.9-13.7 5.3 2.8 1.3-13.7 10.7zM96.9 191.7l-2.4-17.2 2.9 1.0-6.1-13.3-2.2 14.4 2.6-1.7 2.4 17.2zM117.8 191.7l-2.2-15.5 3.0 1.0-6.2-13.3-2.2 14.4 2.6-1.7 2.2 15.5zM138.7 191.9l0.0-14.8 2.8 1.4-4.1-14.0-4.3 13.9 2.8-1.3 0.0 14.8zM159.6 192.1l2.6-17.2 2.6 1.8-2.0-14.4-6.3 13.1 2.9-0.9-2.6 17.2zM180.4 192.2l4.1-16.9 2.4 2.0-0.8-14.6-7.3 12.7 3.0-0.7-4.1 16.9zM201.3 192.3l4.4-16.9 2.4 2.1-0.6-14.6-7.6 12.5 3.1-0.7-4.4 16.8zM222.2 192.3l4.7-16.8 2.3 2.1-0.3-14.6-7.8 12.4 3.1-0.6-4.7 16.7zM243.1 192.3l4.6-16.8 2.4 2.1-0.4-14.6-7.7 12.4 3.0-0.6-4.6 16.7zM264.0 192.3l4.6-16.8 2.3 2.1-0.4-14.6-7.7 12.4 3.1-0.7-4.6 16.8zM284.9 192.2l3.4-17.1 2.5 1.9-1.4-14.5-6.8 12.9 3.0-0.8-3.4 17.0zM305.8 192.0l0.5-9.1 2.7 1.5-3.4-14.2-4.9 13.8 2.8-1.3-0.5 9.1zM326.7 191.8l-0.4-5.4 2.9 1.2-5.4-13.6-3.0 14.3 2.7-1.7 0.4 5.4zM347.6 191.9l0.1-5.4 2.8 1.5-4.0-14.1-4.4 13.9 2.8-1.3-0.1 5.4zM367.8 192.0l0.1-0.7 1.3 0.9-1.0-7.4-3.2 6.8 1.5-0.5-0.1 0.7zM388.7 192.2l0.3-0.6 0.9 1.2 1.3-7.4-5.1 5.6 1.6-0.1-0.3 0.7zM408.7 192.6l0.7 0.2-1.2 1.2 7.5 0.1-6.1-4.3 0.2 1.6-0.7-0.2zM428.6 192.6l2.9 4.6-3.2 0.3 11.0 9.7-3.8-14.1-1.7 2.6-2.8-4.5zM449.5 192.7l3.6 5.3-3.1 0.4 11.3 9.3-4.3-13.9-1.5 2.7-3.7-5.4zM470.4 192.7l5.3 7.3-3.1 0.5 11.6 8.9-4.8-13.8-1.5 2.8-5.2-7.3zM491.3 192.7l5.1 7.4-3.1 0.4 11.5 9.1-4.6-13.9-1.5 2.8-5.1-7.4zM512.2 192.6l7.8 12.7-3.1 0.3 10.9 9.7-3.8-14.1-1.6 2.6-7.8-12.6zM533.0 192.6l8.4 15.2-3.1 0.1 10.4 10.3-3.1-14.3-1.7 2.6-8.4-15.3zM553.9 192.4l6.3 16.2-3.1-0.3 9.0 11.5-1.2-14.5-2.1 2.3-6.3-16.2zM574.7 192.2l4.5 17.8-3.0-0.7 7.5 12.5 0.6-14.6-2.4 2.1-4.5-17.7zM595.6 192.1l3.9 24.8-2.9-1.0 6.3 13.2 1.9-14.5-2.5 1.8-4.0-24.7zM616.4 192.0l2.8 28.3-2.9-1.2 5.5 13.6 2.8-14.4-2.6 1.7-2.8-28.2zM637.3 191.9l1.0 29.4-2.8-1.3 4.7 13.9 3.7-14.2-2.8 1.5-1.0-29.3zM658.2 191.9l-0.8 28.2-2.7-1.4 3.7 14.1 4.6-13.9-2.8 1.3 0.8-28.3zM679.1 191.8l-2.3 25.7-2.7-1.6 2.9 14.3 5.5-13.6-3.0 1.2 2.4-25.8zM700.0 191.6l-5.3 25.3-2.4-1.9 1.2 14.5 7.0-12.8-3.0 0.8 5.3-25.3zM721.0 191.3l-10.7 23.5-2.0-2.4-2.0 14.4 9.6-10.9-3.1 0.1 10.8-23.5zM742.2 191.0l-16.3 17.6-1.1-2.9-6.4 13.2 12.6-7.5-3.0-0.9 16.2-17.7zM763.0 191.0l-17.5 20.8-1.3-2.8-5.8 13.4 12.2-8.0-3.0-0.8 17.6-20.8zM783.9 191.0l-23.5 29.7-1.3-2.8-5.4 13.6 12.0-8.4-3.1-0.7 23.5-29.6zM804.8 191.1l-22.5 30.4-1.4-2.8-5.0 13.8 11.7-8.8-3.0-0.5 22.4-30.5zM825.6 191.1l-10.9 16.2-1.5-2.7-4.3 13.9 11.3-9.2-3.2-0.4 10.9-16.2zM847.1 191.5l-0.4 0.6-0.9-1.3-1.9 7.3 5.6-5.1-1.6-0.1 0.4-0.6zM867.2 191.5l-3.7 11.9-2.3-2.2-0.2 14.6 8.2-12.0-3.1 0.5 3.8-12.0zM888.2 192.4l4.6 11.6-3.1-0.2 9.1 11.4-1.3-14.6-2.1 2.4-4.6-11.6zM909.0 192.1l1.7 12.4-3.0-1.0 6.1 13.3 2.2-14.5-2.6 1.8-1.7-12.4zM930.1 191.1l-11.3 14.8-1.3-2.8-5.2 13.7 11.8-8.6-3.0-0.6 11.3-14.9zM951.2 190.8l-15.7 13.9-0.8-3.0-7.7 12.4 13.2-6.1-2.9-1.2 15.8-13.8zM972.0 191.0l-16.0 19.2-1.3-2.9-5.7 13.4 12.2-8.0-3.1-0.7 16.0-19.2zM992.7 191.2l-16.9 28.2-1.7-2.6-3.6 14.2 10.8-9.9-3.1-0.2 16.9-28.3zM1013.5 191.3l-13.1 30.3-2.0-2.4-1.8 14.5 9.5-11.2-3.2 0.2 13.2-30.2zM1034.4 191.5l-8.9 29.0-2.3-2.2-0.1 14.6 8.1-12.1-3.1 0.5 9.0-29.0zM1055.2 191.6l-5.5 28.9-2.5-1.9 1.4 14.5 6.8-12.9-3.0 0.8 5.6-28.8zM1076.1 191.7l-5.4 33.0-2.5-1.8 1.9 14.5 6.4-13.2-3.0 1.0 5.4-33.1zM1097.0 191.7l-5.6 42.2-2.6-1.7 2.3 14.4 6.0-13.3-2.9 1.0 5.6-42.2zM1117.9 191.8l-5.1 49.0-2.7-1.6 2.7 14.3 5.7-13.5-2.9 1.1 5.1-49.1zM1138.8 191.8l-4.1 52.3-2.7-1.6 3.1 14.3 5.3-13.6-2.9 1.1 4.1-52.3zM1159.7 191.8l-2.2 46.8-2.7-1.5 3.5 14.2 4.9-13.8-2.9 1.3 2.2-46.8zM1180.6 192.0l2.1 37.2-2.8-1.3 5.0 13.8 3.3-14.3-2.7 1.6-2.1-37.2zM1201.5 192.1l4.3 26.1-3.0-1.0 6.4 13.2 1.9-14.5-2.5 1.8-4.3-26.0zM1222.5 192.6l4.8 8.8-3.1 0.1 10.3 10.3-2.9-14.3-1.8 2.5-4.8-8.8zM1244.2 193.2l6.0 1.9-2.1 2.3 14.6 0.1-12.1-8.2 0.5 3.1-6.0-1.8zM1265.9 193.3l11.6-3.1-0.6 3.0 12.4-7.6-14.6-0.5 2.1 2.4-11.6 3.0zM1287.2 193.1l14.9-8.8 0.3 3.1 9.9-10.7-14.2 3.5 2.6 1.7-15.0 8.8zM1308.4 192.8l11.8-12.7 1.1 2.9 6.4-13.1-12.6 7.4 3.0 0.9-11.8 12.8zM1329.4 192.7l10.1-14.1 1.5 2.8 4.8-13.8-11.6 8.9 3.1 0.5-10.2 14.1zM96.9 212.6l-4.1-23.1 3.0 0.8-6.6-13.0-1.7 14.5 2.5-1.9 4.1 23.1zM117.8 212.6l-4.1-23.1 3.0 0.8-6.6-13.0-1.7 14.5 2.5-1.9 4.1 23.1zM138.7 212.7l-0.9-21.7 2.9 1.3-4.8-13.8-3.6 14.1 2.7-1.5 0.9 21.8zM159.6 212.9l1.7-17.3 2.7 1.7-2.8-14.3-5.6 13.5 2.9-1.2-1.7 17.4zM180.4 213.1l3.3-17.1 2.5 1.9-1.6-14.6-6.7 13.0 3.0-0.9-3.2 17.1zM201.3 213.1l3.7-17.0 2.5 2.0-1.1-14.6-7.1 12.8 3.0-0.8-3.7 17.0zM222.2 213.1l4.2-16.9 2.4 2.1-0.7-14.6-7.5 12.6 3.1-0.7-4.2 16.9zM243.1 213.2l4.4-16.9 2.4 2.1-0.5-14.6-7.6 12.5 3.0-0.7-4.4 16.8zM264.0 213.2l4.6-16.8 2.4 2.1-0.3-14.6-7.8 12.4 3.0-0.6-4.6 16.7zM284.9 213.1l3.6-17.0 2.4 1.9-1.2-14.6-7.0 12.9 3.0-0.8-3.5 17.0zM305.8 212.9l0.6-9.1 2.7 1.6-3.4-14.3-5.0 13.8 2.9-1.3-0.6 9.1zM326.7 212.7l-0.5-5.4 3.0 1.1-5.4-13.5-3.0 14.3 2.7-1.7 0.4 5.4zM347.6 212.5l-1.0-5.3 3.0 0.9-6.8-13.0-1.5 14.6 2.5-1.9 1.0 5.3zM368.5 212.4l-1.6-5.2 3.1 0.5-8.2-12.1 0.1 14.6 2.3-2.2 1.6 5.2zM389.3 212.2l-2.4-4.9 3.1 0.1-10.0-10.7 2.5 14.4 1.9-2.5 2.4 4.8zM408.3 212.4l-0.4 0.6-0.8-1.4-2.0 7.3 5.6-4.9-1.6-0.2 0.4-0.6zM429.1 212.8l0.0 0.7-1.5-0.7 2.2 7.2 2.2-7.2-1.5 0.7 0.0-0.7zM450.0 212.9l0.0 0.7-1.5-0.6 2.9 7.0 1.4-7.4-1.3 0.8-0.1-0.7zM470.2 213.1l1.1 5.3-3.0-0.8 7.0 12.8 1.2-14.6-2.4 2.0-1.1-5.3zM491.1 213.2l1.4 5.2-3.1-0.7 7.7 12.5 0.5-14.6-2.4 2.1-1.4-5.3zM512.0 213.2l3.6 13.3-3.1-0.6 7.7 12.5 0.4-14.7-2.3 2.1-3.6-13.4zM532.9 213.2l4.5 16.8-3.1-0.7 7.7 12.5 0.4-14.6-2.3 2.1-4.5-16.9zM553.8 213.1l3.3 17.0-3.0-0.8 6.7 13.0 1.5-14.6-2.5 1.9-3.3-17.1zM574.7 213.0l2.2 18.5-2.9-1.0 5.8 13.4 2.5-14.4-2.6 1.7-2.3-18.6zM595.5 212.9l2.0 28.2-2.9-1.2 5.2 13.7 3.2-14.2-2.7 1.5-2.0-28.2zM616.4 212.8l1.0 29.4-2.8-1.3 4.7 13.9 3.7-14.2-2.8 1.5-1.0-29.3zM637.3 212.8l0.0 32.5-2.8-1.4 4.2 14.0 4.2-14.0-2.8 1.4 0.0-32.5zM658.2 212.8l-1.2 33.5-2.7-1.5 3.7 14.1 4.7-13.8-2.9 1.3 1.2-33.6zM679.1 212.7l-2.1 29.3-2.6-1.6 3.2 14.3 5.1-13.7-2.9 1.2 2.1-29.3zM700.0 212.7l-2.6 29.3-2.6-1.7 2.9 14.3 5.5-13.5-3.0 1.1 2.6-29.3zM720.9 212.7l-2.6 29.3-2.6-1.7 2.9 14.3 5.4-13.5-2.9 1.1 2.6-29.3zM741.8 212.7l-2.6 29.3-2.7-1.7 2.9 14.3 5.5-13.5-3.0 1.1 2.7-29.3zM762.7 212.5l-6.0 30.7-2.5-1.9 1.4 14.6 6.8-13.0-3.0 0.9 6.1-30.7zM783.7 212.4l-10.5 33.7-2.3-2.1-0.1 14.6 8.2-12.1-3.1 0.5 10.4-33.8zM804.6 212.4l-10.9 33.6-2.3-2.2-0.3 14.6 8.3-12.0-3.1 0.5 10.9-33.7zM825.4 212.5l-3.3 13.2-2.3-2.0 0.7 14.6 7.4-12.6-3.0 0.7 3.2-13.3zM846.3 212.6l-0.9 5.3-2.5-1.8 1.9 14.5 6.4-13.2-3.0 1.0 0.9-5.4zM867.9 213.1l0.4 0.7-1.6 0.0 5.3 5.3-1.5-7.3-1.0 1.3-0.3-0.6zM889.3 213.5l0.7 0.2-1.0 1.2 7.5-0.5-6.6-3.7 0.4 1.6-0.7-0.2zM910.0 214.2l5.3 1.2-2.0 2.4 14.6-0.9-12.7-7.3 0.7 3.1-5.2-1.3zM929.9 212.6l-1.1 9.7-2.7-1.7 2.7 14.4 5.7-13.4-2.9 1.0 1.0-9.6zM951.1 211.8l-10.2 10.4-1.0-3.0-6.8 13.0 12.8-7.1-3.0-0.9 10.2-10.4zM971.9 212.0l-11.5 15.5-1.4-2.8-5.0 13.8 11.7-8.8-3.1-0.5 11.6-15.6zM992.7 212.1l-11.5 21.3-1.8-2.6-3.0 14.3 10.4-10.3-3.2-0.1 11.6-21.2zM1013.5 212.3l-11.2 26.7-2.0-2.4-1.6 14.6 9.3-11.3-3.1 0.2 11.2-26.8zM1034.4 212.3l-9.5 27.9-2.2-2.2-0.5 14.6 8.5-11.9-3.1 0.4 9.4-27.8zM1055.3 212.4l-7.6 28.5-2.3-2.1 0.4 14.6 7.7-12.5-3.1 0.7 7.6-28.4zM1076.1 212.5l-7.9 34.6-2.4-2.0 1.0 14.6 7.2-12.7-3.1 0.7 8.0-34.6zM1097.0 212.5l-9.1 47.5-2.5-1.9 1.5 14.5 6.8-13.0-3.1 0.9 9.2-47.4zM1117.9 212.6l-8.2 52.4-2.5-1.8 1.9 14.5 6.4-13.2-3.0 0.9 8.2-52.4zM1138.8 212.6l-5.9 48.6-2.6-1.7 2.5 14.4 5.9-13.4-3.0 1.0 5.9-48.5zM1159.7 212.7l-3.2 40.7-2.7-1.6 3.1 14.2 5.3-13.6-2.9 1.2 3.2-40.7zM1180.6 212.9l2.8 29.0-2.9-1.1 5.5 13.5 2.8-14.3-2.6 1.6-2.8-28.9zM1202.2 213.0l0.2 0.7-1.6-0.3 4.0 6.3 0.2-7.5-1.2 1.1-0.2-0.7zM1222.7 213.6l0.8 1.0-2.9 0.5 10.8 8.1-4.5-12.7-1.3 2.6-0.8-1.1zM1244.4 214.2l3.8 0.7-1.9 2.5 14.5-1.5-12.9-6.8 0.8 3.1-3.8-0.8zM1266.1 214.1l11.2-4.4-0.3 3.2 11.5-9.0-14.6 1.1 2.3 2.1-11.2 4.4zM1287.4 213.9l13.1-11.5 0.8 3.0 7.7-12.4-13.3 6.1 2.9 1.2-13.1 11.4zM1308.6 213.5l7.7-14.6 1.8 2.6 2.9-14.4-10.3 10.4 3.1 0.1-7.7 14.5zM1329.6 213.3l3.9-10.9 2.2 2.2 0.8-14.6-8.7 11.8 3.1-0.4-4.0 10.9zM96.8 233.4l-8.0-32.1 3.1 0.7-7.5-12.6-0.7 14.6 2.4-2.0 8.0 32.0zM117.7 233.4l-7.5-30.4 3.0 0.7-7.5-12.6-0.6 14.6 2.3-2.0 7.6 30.3zM138.7 233.5l-4.1-26.8 3.0 1.0-6.3-13.2-2.0 14.5 2.5-1.8 4.1 26.7zM159.6 233.6l-1.1-21.0 2.8 1.2-4.9-13.7-3.4 14.2 2.7-1.6 1.1 21.1zM180.5 233.7l0.3-21.1 2.7 1.5-4.0-14.1-4.4 14.0 2.9-1.4-0.3 21.1zM201.4 233.8l0.9-21.1 2.7 1.5-3.5-14.1-4.9 13.8 2.9-1.3-0.9 21.0zM222.3 233.8l1.4-19.2 2.7 1.6-3.1-14.3-5.3 13.6 2.9-1.1-1.4 19.2zM243.1 233.8l1.0-17.4 2.8 1.6-3.4-14.3-5.0 13.8 2.9-1.3-1.0 17.4zM264.0 233.8l0.7-17.4 2.7 1.5-3.6-14.2-4.7 13.9 2.8-1.3-0.7 17.3zM284.9 233.7l-0.6-17.4 2.9 1.3-4.7-13.9-3.7 14.2 2.7-1.5 0.6 17.3zM305.8 233.5l-1.5-9.0 3.0 0.9-6.5-13.1-1.8 14.5 2.5-1.8 1.5 8.9zM326.7 233.3l-1.6-5.2 3.1 0.5-8.1-12.1 0.0 14.6 2.3-2.2 1.6 5.2zM347.5 233.2l-2.1-5.0 3.1 0.2-9.3-11.3 1.6 14.6 2.0-2.4 2.1 4.9zM368.3 233.0l-2.6-4.7 3.1-0.1-10.4-10.2 3.1 14.2 1.8-2.5 2.6 4.7zM389.0 232.8l-3.6-4.0 3.0-0.9-12.5-7.5 6.3 13.2 1.1-2.9 3.7 3.9zM408.9 233.0l-0.8 0.0 0.7-1.5-7.1 2.7 7.3 1.7-0.8-1.4 0.7-0.1zM429.2 233.3l-0.4 0.6-0.8-1.4-2.2 7.2 5.8-4.8-1.6-0.2 0.4-0.6zM450.0 233.5l-0.2 0.7-1.2-1.2-0.1 7.6 4.2-6.2-1.5 0.2 0.2-0.7zM470.2 233.6l-0.5 5.8-2.6-1.7 3.1 14.3 5.2-13.6-2.9 1.2 0.5-5.8zM491.1 233.8l0.3 8.7-2.8-1.3 4.7 13.8 3.7-14.2-2.8 1.6-0.3-8.8zM512.0 233.8l1.2 14.9-2.9-1.2 5.3 13.6 3.0-14.2-2.6 1.6-1.2-14.9zM532.9 233.9l2.1 17.2-3.0-1.0 5.9 13.4 2.5-14.4-2.6 1.7-2.1-17.3zM553.8 233.8l1.2 18.5-2.9-1.2 5.1 13.7 3.3-14.3-2.7 1.6-1.2-18.5zM574.7 233.7l0.2 22.0-2.9-1.4 4.4 14.0 4.0-14.1-2.7 1.5-0.2-22.0zM595.5 233.7l-0.6 28.6-2.7-1.5 3.9 14.1 4.5-13.9-2.9 1.4 0.6-28.7zM616.4 233.7l-0.8 29.3-2.8-1.4 3.8 14.1 4.6-13.9-2.8 1.3 0.8-29.4zM637.3 233.7l-1.2 35.5-2.8-1.5 3.7 14.1 4.7-13.8-2.8 1.3 1.2-35.6zM658.2 233.6l-2.7 38.7-2.7-1.6 3.2 14.3 5.2-13.7-2.9 1.2 2.7-38.7zM679.1 233.6l-3.5 32.8-2.6-1.6 2.7 14.3 5.7-13.5-3.0 1.1 3.5-32.9zM700.0 233.5l-4.7 32.7-2.6-1.8 2.2 14.5 6.1-13.3-2.9 1.0 4.7-32.7zM720.9 233.4l-5.6 30.0-2.5-1.9 1.5 14.5 6.8-13.0-3.0 0.9 5.6-29.9zM741.8 233.4l-6.6 28.6-2.5-2.0 1.0 14.6 7.2-12.7-3.0 0.7 6.7-28.6zM762.8 233.2l-9.6 26.6-2.2-2.3-0.8 14.6 8.7-11.8-3.1 0.4 9.6-26.5zM783.9 232.9l-15.3 20.1-1.4-2.8-5.1 13.7 11.8-8.6-3.1-0.6 15.3-20.2zM804.8 232.8l-14.4 17.1-1.2-2.9-5.9 13.4 12.3-8.0-3.1-0.7 14.5-17.1zM826.1 233.7l0.0 0.7-1.5-0.7 2.2 7.2 2.1-7.2-1.4 0.7 0.0-0.7zM847.1 234.1l0.3 0.6-1.6 0.1 5.6 5.1-1.9-7.3-0.8 1.3-0.4-0.6zM868.5 235.1l5.4 0.3-1.5 2.7 14.1-3.6-13.7-4.8 1.2 2.9-5.4-0.3zM889.7 234.4l0.7-0.3-0.2 1.6 6.1-4.3-7.5 0.3 1.1 1.1-0.7 0.2zM910.6 235.1l5.3-1.0-0.8 3.0 12.9-6.7-14.5-1.6 1.9 2.5-5.3 1.0zM930.0 234.3l2.4 4.9-3.1 0.0 10.1 10.6-2.6-14.4-1.9 2.5-2.4-4.8zM950.8 233.3l-2.7 9.5-2.3-2.1 0.2 14.6 7.9-12.3-3.1 0.5 2.7-9.4zM971.7 233.4l-3.1 14.6-2.5-1.9 1.2 14.6 7.0-12.9-3.0 0.8 3.1-14.6zM992.5 233.5l-2.7 18.3-2.6-1.8 2.1 14.5 6.2-13.3-2.9 1.0 2.7-18.3zM1013.4 233.5l-3.9 24.9-2.5-1.8 2.0 14.4 6.3-13.1-3.0 0.9 3.9-24.9zM1034.4 233.4l-5.5 25.2-2.4-2.0 1.2 14.6 7.0-12.8-3.0 0.7 5.4-25.1zM1055.3 233.3l-7.2 26.8-2.3-2.1 0.4 14.6 7.7-12.4-3.1 0.6 7.2-26.7zM1076.1 233.4l-8.1 35.4-2.4-2.0 1.0 14.6 7.2-12.7-3.0 0.7 8.1-35.4zM1097.0 233.4l-9.4 48.9-2.5-1.9 1.5 14.5 6.8-12.9-3.0 0.8 9.4-48.8zM1117.9 233.5l-7.7 49.1-2.5-1.8 2.0 14.5 6.3-13.2-3.0 0.9 7.7-49.1zM1138.8 233.5l-4.9 40.5-2.6-1.7 2.5 14.4 5.8-13.4-2.9 1.1 4.9-40.5zM1159.7 233.6l-2.4 31.1-2.6-1.6 3.1 14.3 5.2-13.7-2.9 1.2 2.4-31.1zM1181.3 233.8l0.1 0.7-1.6-0.5 3.3 6.8 1.0-7.4-1.3 0.9-0.1-0.7zM1202.2 234.0l0.3 0.6-1.6-0.1 4.7 5.9-0.7-7.5-1.1 1.2-0.3-0.7zM1223.0 234.4l0.7 0.7-2.2 0.6 9.0 5.6-4.5-9.6-0.8 2.1-0.7-0.8zM1244.8 235.1l6.0-0.6-1.1 2.9 13.5-5.6-14.3-2.8 1.7 2.7-6.1 0.6zM1266.6 234.6l7.5-8.9 1.3 2.9 5.7-13.5-12.2 8.1 3.1 0.7-7.5 8.9zM1287.7 234.3l6.1-12.3 1.9 2.5 2.4-14.4-10.0 10.7 3.2 0.0-6.1 12.3zM1308.7 234.0l3.2-12.6 2.4 2.1-0.6-14.6-7.5 12.5 3.0-0.7-3.2 12.7zM1329.6 233.9l1.6-9.1 2.5 1.9-1.7-14.6-6.5 13.1 3.0-0.9-1.6 9.2zM96.8 254.2l-12.8-39.4 3.1 0.5-8.3-12.0 0.3 14.6 2.2-2.2 12.9 39.3zM117.7 254.2l-11.2-34.5 3.1 0.4-8.3-12.0 0.3 14.6 2.2-2.1 11.3 34.4zM138.6 254.2l-7.8-29.3 3.1 0.7-7.7-12.5-0.5 14.6 2.4-2.0 7.8 29.3zM159.5 254.3l-6.0-28.8 3.0 0.8-6.9-12.8-1.3 14.6 2.5-2.0 6.0 28.8zM180.4 254.4l-4.7-29.0 3.0 0.9-6.4-13.2-1.9 14.5 2.6-1.8 4.7 29.0zM201.3 254.4l-3.7-29.1 3.0 1.0-6.0-13.4-2.4 14.5 2.6-1.8 3.8 29.2zM222.2 254.5l-2.2-23.5 3.0 1.1-5.5-13.5-2.9 14.3 2.6-1.6 2.3 23.4zM243.1 254.4l-2.5-17.2 3.0 1.0-6.2-13.3-2.1 14.5 2.5-1.8 2.6 17.2zM264.0 254.3l-3.5-17.0 3.1 0.8-7.0-12.9-1.3 14.6 2.5-2.0 3.5 17.1zM284.9 254.2l-4.9-16.7 3.1 0.6-8.0-12.3-0.1 14.6 2.3-2.1 4.9 16.7zM305.7 254.1l-3.9-9.3 3.2 0.2-9.3-11.2 1.5 14.5 2.1-2.4 3.8 9.2zM326.5 253.9l-2.9-5.3 3.1-0.1-10.5-10.2 3.2 14.3 1.8-2.6 2.9 5.3zM347.4 253.8l-3.1-4.4 3.0-0.5-11.5-9.0 4.7 13.9 1.5-2.8 3.1 4.4zM368.2 253.7l-3.6-4.1 3.0-0.8-12.3-7.7 6.0 13.3 1.2-2.9 3.6 4.0zM388.4 254.0l-0.5-0.4 1.4-0.7-7.1-2.6 4.5 6.0 0.3-1.5 0.6 0.4zM409.1 253.9l-0.8-0.2 1.1-1.2-7.5 0.6 6.5 3.6-0.4-1.5 0.7 0.1zM429.6 253.9l-0.7 0.2 0.4-1.6-6.5 3.8 7.5 0.4-1.0-1.2 0.7-0.2zM450.2 254.1l-0.5 0.4-0.4-1.5-4.1 6.3 6.9-3.1-1.5-0.6 0.6-0.5zM470.3 254.1l-2.6 6.0-2.0-2.4-1.7 14.6 9.4-11.3-3.1 0.2 2.6-6.1zM491.1 254.3l-3.1 16.0-2.4-1.9 1.5 14.5 6.7-12.9-3.0 0.8 3.1-15.9zM512.0 254.5l-1.8 17.3-2.7-1.7 2.8 14.3 5.6-13.5-2.9 1.2 1.8-17.4zM532.9 254.6l-0.4 18.0-2.8-1.4 4.0 14.0 4.4-13.9-2.8 1.4 0.4-18.1zM553.8 254.5l-1.4 21.9-2.7-1.5 3.3 14.2 5.1-13.7-2.9 1.2 1.4-21.9zM574.7 254.5l-3.1 29.2-2.6-1.7 2.7 14.4 5.6-13.5-2.9 1.1 3.0-29.3zM595.6 254.4l-3.3 29.3-2.7-1.7 2.6 14.3 5.8-13.4-3.0 1.1 3.3-29.2zM616.4 254.5l-2.6 29.3-2.7-1.7 2.9 14.3 5.5-13.5-2.9 1.1 2.6-29.3zM637.3 254.5l-2.5 35.5-2.7-1.6 3.2 14.2 5.2-13.6-2.9 1.2 2.5-35.5zM658.2 254.5l-4.3 41.1-2.7-1.7 2.7 14.4 5.7-13.5-2.9 1.1 4.3-41.2zM679.1 254.4l-5.8 41.0-2.5-1.8 2.2 14.5 6.1-13.3-3.0 1.0 5.8-41.0zM700.0 254.3l-8.2 40.6-2.5-1.9 1.3 14.5 7.0-12.9-3.1 0.8 8.3-40.5zM721.0 254.2l-9.3 31.5-2.3-2.2 0.1 14.7 8.0-12.3-3.1 0.6 9.3-31.5zM741.9 254.1l-10.7 27.4-2.1-2.3-1.2 14.5 9.0-11.5-3.1 0.3 10.7-27.4zM763.1 253.7l-17.3 18.9-1.1-3.0-6.3 13.2 12.5-7.5-3.0-0.9 17.2-18.9zM786.2 253.9l-7.8-14.2 3.1-0.1-10.4-10.3 3.0 14.3 1.8-2.6 7.9 14.3zM806.6 254.6l0.0-0.7 1.4 0.7-2.2-7.2-2.1 7.2 1.5-0.7 0.0 0.7zM827.4 254.9l0.3-0.6 1.0 1.2 1.2-7.4-5.1 5.6 1.6-0.1-0.3 0.7zM848.6 255.7l4.5-4.0 0.8 3.0 7.7-12.4-13.2 6.1 2.9 1.2-4.6 3.9zM869.6 255.6l3.8-3.9 1.0 3.0 6.8-12.9-12.8 7.0 3.0 1.0-3.8 3.8zM890.5 255.5l3.6-4.0 1.2 2.9 6.2-13.2-12.5 7.6 3.0 0.8-3.6 4.1zM910.8 255.2l0.6-0.4 0.2 1.6 4.7-5.9-7.2 2.3 1.4 0.8-0.6 0.4zM930.5 255.8l4.6 2.9-2.7 1.6 14.1 3.9-9.6-11.0-0.3 3.1-4.6-2.9zM950.8 255.0l1.6 5.2-3.1-0.5 8.2 12.1-0.2-14.6-2.2 2.1-1.6-5.1zM971.7 255.0l2.3 8.6-3.1-0.6 7.7 12.4 0.4-14.6-2.3 2.1-2.3-8.7zM992.6 254.9l3.5 15.9-3.0-0.8 7.1 12.8 1.1-14.6-2.4 2.0-3.6-15.9zM1013.4 254.7l1.8 17.3-3.0-1.1 5.6 13.5 2.8-14.4-2.7 1.7-1.7-17.2zM1034.3 254.5l-1.6 17.3-2.6-1.6 2.9 14.3 5.5-13.6-3.0 1.2 1.6-17.4zM1055.3 254.2l-6.2 23.1-2.3-2.1 0.4 14.6 7.7-12.4-3.1 0.6 6.2-23.0zM1076.1 254.3l-7.3 32.2-2.4-2.0 0.9 14.6 7.2-12.7-3.0 0.7 7.4-32.2zM1097.0 254.3l-7.6 39.4-2.4-1.9 1.4 14.6 6.8-13.0-3.0 0.9 7.6-39.4zM1117.9 254.4l-6.2 39.6-2.5-1.8 1.9 14.5 6.4-13.2-3.0 0.9 6.2-39.6zM1138.8 254.4l-3.9 32.0-2.6-1.8 2.5 14.4 5.9-13.4-3.0 1.1 3.9-31.9zM1159.7 254.5l-1.7 22.8-2.7-1.6 3.2 14.3 5.2-13.7-2.9 1.2 1.7-22.8zM1181.3 254.8l0.1 0.7-1.5-0.4 3.6 6.5 0.6-7.5-1.3 1.1-0.1-0.8zM1201.6 255.3l3.2 5.7-3.1 0.1 10.5 10.2-3.2-14.3-1.7 2.6-3.2-5.7zM1222.8 255.6l4.1 3.7-2.9 1.1 13.3 6.2-7.7-12.4-0.8 3.0-4.1-3.6zM1245.6 255.7l10.3-8.6 0.7 3.0 8.1-12.2-13.5 5.8 2.9 1.2-10.3 8.6zM1266.9 254.8l1.3-10.1 2.6 1.7-2.3-14.4-6.0 13.3 3.0-1.0-1.3 10.1zM1287.8 254.7l0.4-5.4 2.7 1.6-3.2-14.3-5.2 13.7 2.9-1.2-0.3 5.4zM1308.7 254.6l0.2-7.0 2.7 1.4-3.9-14.0-4.5 13.9 2.9-1.4-0.2 7.1zM1329.6 254.6l0.0-15.6 2.8 1.4-4.2-14.0-4.2 14.0 2.8-1.4 0.0 15.6zM96.8 275.0l-14.9-38.6 3.2 0.3-9.0-11.6 1.1 14.6 2.1-2.3 14.9 38.6zM117.7 275.0l-14.7-38.2 3.1 0.3-8.9-11.5 1.1 14.6 2.1-2.4 14.7 38.2zM138.6 275.0l-12.7-35.0 3.1 0.4-8.7-11.8 0.8 14.6 2.2-2.3 12.7 35.1zM159.5 275.1l-9.4-27.9 3.1 0.4-8.5-11.9 0.5 14.6 2.2-2.2 9.4 27.8zM180.4 275.1l-8.8-28.1 3.1 0.5-8.2-12.1 0.2 14.7 2.2-2.2 8.8 28.0zM201.3 275.1l-8.2-28.2 3.0 0.5-7.9-12.2-0.1 14.6 2.3-2.1 8.2 28.2zM222.2 275.1l-6.1-22.7 3.1 0.6-7.7-12.4-0.5 14.6 2.4-2.1 6.1 22.8zM243.1 275.0l-5.7-16.4 3.1 0.4-8.5-11.9 0.6 14.6 2.2-2.2 5.6 16.5zM263.9 275.0l-6.8-16.1 3.2 0.2-9.4-11.2 1.6 14.5 2.1-2.4 6.8 16.0zM284.8 274.8l-8.2-15.3 3.2-0.1-10.3-10.4 2.8 14.3 1.8-2.5 8.2 15.4zM305.6 274.7l-9.3-13.8 3.1-0.4-11.3-9.3 4.3 14.0 1.6-2.7 9.3 13.8zM326.4 274.6l-7.0-8.4 3.0-0.7-12.2-8.0 5.8 13.4 1.2-2.9 7.1 8.4zM347.2 274.5l-4.0-3.7 2.9-1.1-13.2-6.3 7.5 12.5 0.9-3.0 4.0 3.6zM367.9 274.3l-4.5-3.0 2.7-1.5-13.9-4.3 9.2 11.3 0.4-3.1 4.5 3.0zM388.5 274.2l-5.0-2.0 2.4-2.1-14.6-1.4 11.4 9.2-0.2-3.1 5.0 2.0zM409.0 274.8l-0.7-0.1 0.9-1.3-7.5 1.3 6.9 2.9-0.5-1.5 0.7 0.1zM429.7 274.8l-0.7 0.1 0.5-1.5-6.8 3.1 7.4 1.1-0.9-1.3 0.7-0.1zM449.9 274.3l-4.5 2.9-0.3-3.1-9.6 11.1 14.1-4.0-2.7-1.6 4.5-2.9zM470.4 274.8l-3.4 5.7-1.7-2.7-3.6 14.2 10.8-9.9-3.1-0.2 3.4-5.7zM491.1 275.1l-4.9 15.4-2.2-2.1-0.2 14.6 8.2-12.1-3.1 0.5 4.9-15.5zM512.0 275.2l-3.9 17.0-2.4-2.0 1.0 14.6 7.2-12.8-3.0 0.8 3.8-17.0zM532.9 275.3l-3.2 22.7-2.6-1.8 2.2 14.5 6.1-13.3-3.0 1.0 3.3-22.7zM553.8 275.3l-5.0 28.2-2.5-1.9 1.7 14.5 6.5-13.0-3.0 0.8 5.0-28.2zM574.7 275.2l-6.2 28.8-2.4-2.0 1.2 14.6 7.0-12.8-3.0 0.7 6.1-28.7zM595.6 275.2l-6.4 28.7-2.4-2.0 1.1 14.6 7.1-12.8-3.0 0.8 6.3-28.7zM616.5 275.2l-5.8 28.9-2.4-2.0 1.4 14.6 6.8-12.9-3.0 0.8 5.7-28.8zM637.4 275.3l-6.3 35.0-2.5-1.9 1.7 14.5 6.6-13.0-3.0 0.8 6.2-35.0zM658.3 275.2l-8.7 40.5-2.4-2.0 1.1 14.6 7.1-12.8-3.1 0.8 8.7-40.5zM679.2 275.2l-10.1 40.1-2.4-2.0 0.7 14.6 7.5-12.6-3.1 0.7 10.1-40.2zM700.1 275.1l-12.6 39.4-2.3-2.2-0.2 14.6 8.2-12.0-3.1 0.5 12.6-39.5zM721.0 275.0l-12.8 30.1-2.0-2.3-1.6 14.5 9.3-11.3-3.1 0.2 12.8-30.2zM742.0 274.8l-14.0 25.9-1.8-2.6-2.9 14.4 10.3-10.4-3.1-0.1 13.9-25.8zM763.6 274.2l-24.1 8.4 0.4-3.1-11.9 8.5 14.6-0.6-2.2-2.2 24.2-8.4zM786.3 275.1l-4.8-17.9 3.0 0.6-7.7-12.4-0.4 14.6 2.4-2.1 4.8 18.0zM807.3 275.5l0.1-26.4 2.8 1.4-4.2-14.0-4.2 13.9 2.8-1.3-0.1 26.4zM828.1 275.8l4.6-18.7 2.4 2.0-0.8-14.6-7.4 12.6 3.1-0.7-4.6 18.8zM848.9 276.1l4.9-9.3 1.8 2.5 2.7-14.4-10.1 10.5 3.1 0.1-4.9 9.4zM869.8 276.1l2.3-4.9 1.9 2.4 2.0-14.5-9.6 11.0 3.1-0.1-2.2 4.9zM890.1 275.8l0.3-0.7 1.1 1.2 0.5-7.5-4.6 5.9 1.6-0.1-0.2 0.6zM910.9 276.0l0.5-0.6 0.6 1.5 2.9-7.0-6.2 4.2 1.5 0.4-0.4 0.5zM930.2 276.5l3.8 3.8-3.0 1.0 12.8 7.1-6.8-13.0-1.0 3.0-3.7-3.9zM950.8 276.0l2.1 5.0-3.1-0.2 9.1 11.4-1.4-14.6-2.0 2.4-2.1-5.0zM971.7 276.0l1.9 5.4-3.1-0.4 8.7 11.8-0.7-14.6-2.2 2.3-1.9-5.5zM992.6 275.9l2.3 7.6-3.1-0.5 8.2 12.2-0.1-14.7-2.3 2.2-2.3-7.6zM1013.4 275.8l3.1 16.4-3.0-0.9 6.6 13.0 1.6-14.5-2.5 1.9-3.0-16.5zM1034.3 275.5l0.0 17.4-2.8-1.4 4.2 14.0 4.2-14.0-2.8 1.4 0.0-17.4zM1055.2 275.3l-4.1 23.5-2.5-1.9 1.8 14.5 6.5-13.1-3.0 0.9 4.1-23.5zM1076.1 275.3l-4.1 29.5-2.5-1.8 2.2 14.5 6.1-13.3-3.0 1.0 4.1-29.5zM1097.0 275.4l-3.1 30.3-2.7-1.7 2.8 14.4 5.6-13.5-2.9 1.1 3.1-30.4zM1117.9 275.4l-2.2 30.4-2.7-1.6 3.2 14.3 5.2-13.7-2.9 1.2 2.2-30.4zM1138.8 275.4l-1.3 29.7-2.7-1.5 3.6 14.1 4.8-13.8-2.9 1.3 1.3-29.6zM1159.7 275.5l-0.1 22.9-2.8-1.4 4.2 14.0 4.2-14.0-2.8 1.4 0.1-22.9zM1180.6 275.9l4.3 16.4-3.1-0.6 7.6 12.5 0.6-14.6-2.4 2.0-4.3-16.5zM1201.7 276.2l7.2 12.8-3.1 0.1 10.6 10.1-3.3-14.2-1.7 2.6-7.3-12.8zM1222.7 276.4l4.0 4.5-3.0 0.8 12.4 7.6-6.2-13.2-1.1 2.9-4.0-4.4zM1245.4 275.7l0.1-0.7 1.3 1.0-0.5-7.5-3.7 6.5 1.5-0.4-0.1 0.7zM1266.9 275.1l-1.8-5.6 3.1 0.4-8.3-12.0 0.3 14.6 2.2-2.2 1.8 5.6zM1287.8 275.2l-1.1-5.3 3.1 0.8-7.0-12.8-1.3 14.5 2.5-1.9 1.1 5.3zM1308.7 275.4l-0.6-5.6 3.0 1.1-5.7-13.5-2.7 14.4 2.7-1.7 0.6 5.5zM1329.6 275.4l-0.4-6.4 2.9 1.2-5.2-13.7-3.2 14.3 2.7-1.6 0.4 6.4zM96.8 295.9l-16.2-38.1 3.1 0.1-9.3-11.2 1.6 14.5 2.0-2.4 16.2 38.1zM117.7 295.9l-16.2-38.1 3.1 0.1-9.3-11.2 1.6 14.5 2.0-2.4 16.2 38.1zM138.6 295.8l-15.2-34.9 3.2 0.2-9.5-11.2 1.8 14.6 2.0-2.4 15.1 34.9zM159.5 295.8l-11.9-26.9 3.1 0.2-9.5-11.1 1.8 14.5 2.0-2.4 11.9 26.9zM180.3 295.8l-12.0-26.8 3.1 0.2-9.6-11.1 1.9 14.5 2.0-2.4 12.1 26.8zM201.2 295.8l-9.8-21.4 3.1 0.1-9.7-11.0 2.1 14.5 1.9-2.4 9.9 21.4zM222.1 295.8l-8.1-17.4 3.1 0.1-9.8-10.9 2.2 14.5 1.9-2.5 8.2 17.4zM243.0 295.7l-8.5-15.2 3.1-0.1-10.4-10.2 3.1 14.3 1.8-2.6 8.4 15.2zM263.8 295.6l-9.5-14.5 3.1-0.4-11.1-9.4 4.1 14.0 1.6-2.7 9.5 14.6zM284.6 295.5l-10.7-13.7 3.1-0.6-12.0-8.4 5.4 13.6 1.3-2.8 10.7 13.7zM305.4 295.4l-8.0-8.2 3.0-1.0-12.8-7.1 6.8 13.0 1.0-3.0 8.0 8.3zM326.2 295.3l-5.5-4.6 2.9-1.2-13.4-5.8 8.0 12.2 0.7-3.0 5.5 4.6zM346.9 295.2l-4.8-2.5 2.5-1.9-14.4-2.7 10.5 10.2 0.1-3.1 4.8 2.4zM367.4 295.0l-5.2-1.2 2.0-2.4-14.6 0.8 12.6 7.4-0.7-3.1 5.3 1.3zM388.0 295.0l-5.4 0.0 1.4-2.8-14.0 4.2 14.0 4.2-1.4-2.8 5.4 0.0zM408.6 295.0l-5.3 1.2 0.8-3.0-12.8 7.1 14.6 1.1-2.0-2.5 5.3-1.1zM429.2 295.1l-4.9 2.3 0.1-3.2-11.0 9.6 14.5-1.9-2.4-2.0 4.9-2.2zM449.7 295.4l-5.8 5.4-0.9-3.0-7.3 12.6 13.1-6.5-3.0-1.0 5.8-5.5zM470.3 295.7l-6.7 12.6-1.8-2.5-2.9 14.3 10.3-10.4-3.1-0.1 6.7-12.5zM491.2 295.9l-5.6 16.2-2.2-2.2-0.5 14.6 8.5-11.9-3.1 0.4 5.5-16.1zM512.0 296.0l-4.9 16.7-2.3-2.1 0.1 14.6 8.0-12.3-3.1 0.6 4.9-16.7zM532.9 296.1l-5.7 22.7-2.4-2.0 0.7 14.6 7.5-12.6-3.1 0.7 5.7-22.8zM553.8 296.0l-8.1 28.3-2.3-2.2 0.1 14.7 7.9-12.3-3.0 0.5 8.1-28.2zM574.7 296.0l-9.1 27.9-2.2-2.2-0.4 14.6 8.3-12.0-3.1 0.5 9.2-28.0zM595.6 295.9l-9.7 27.8-2.2-2.3-0.6 14.6 8.6-11.8-3.1 0.4 9.7-27.7zM616.5 295.9l-11.9 33.4-2.2-2.3-0.8 14.6 8.7-11.7-3.1 0.3 12.0-33.3zM637.4 295.9l-13.7 37.3-2.1-2.3-0.9 14.6 8.8-11.7-3.2 0.3 13.7-37.2zM658.3 295.9l-15.6 38.3-2.1-2.4-1.4 14.6 9.2-11.4-3.1 0.3 15.6-38.4zM679.2 295.8l-16.9 37.8-2.0-2.4-1.9 14.5 9.6-11.1-3.2 0.1 17.0-37.7zM700.2 295.8l-18.8 36.8-1.9-2.5-2.6 14.4 10.1-10.6-3.2 0.0 18.9-36.9zM721.1 295.7l-16.7 28.2-1.7-2.6-3.5 14.2 10.7-9.9-3.1-0.3 16.7-28.2zM742.0 295.6l-16.6 24.3-1.5-2.8-4.5 13.9 11.4-9.1-3.1-0.5 16.7-24.2zM763.8 295.0l-25.0 5.2 0.8-3.0-12.9 6.9 14.6 1.3-2.0-2.5 25.1-5.1zM786.3 296.0l-5.7-16.9 3.1 0.4-8.4-11.9 0.5 14.6 2.2-2.2 5.7 16.8zM807.3 296.2l-2.6-20.4 3.0 1.0-6.0-13.4-2.4 14.5 2.6-1.8 2.6 20.5zM828.2 296.3l-1.7-18.3 2.9 1.1-5.5-13.5-2.9 14.3 2.7-1.7 1.7 18.3zM849.1 296.3l-0.7-11.1 2.8 1.2-5.0-13.7-3.3 14.3 2.7-1.6 0.7 11.1zM869.3 296.2l-0.3-0.7 1.6 0.2-4.3-6.1 0.2 7.5 1.2-1.2 0.2 0.7zM889.9 295.9l-0.5-0.5 1.5-0.6-6.9-3.1 4.1 6.3 0.3-1.5 0.6 0.4zM910.1 295.7l-0.7 0.3 0.2-1.6-6.0 4.4 7.5-0.4-1.2-1.1 0.7-0.2zM930.5 296.3l-0.1 0.7-1.3-0.9 1.0 7.4 3.3-6.8-1.6 0.5 0.2-0.7zM950.8 296.5l0.5 5.4-2.9-1.1 5.5 13.5 2.8-14.3-2.6 1.6-0.6-5.3zM971.6 296.6l0.7 5.3-3.0-1.0 5.8 13.4 2.6-14.4-2.7 1.7-0.6-5.4zM992.5 296.6l0.8 5.8-3.0-1.0 6.0 13.3 2.4-14.4-2.6 1.7-0.8-5.8zM1013.4 296.6l1.0 8.6-3.0-1.1 5.7 13.4 2.7-14.3-2.6 1.7-1.0-8.7zM1034.3 296.5l0.8 15.1-2.8-1.2 4.9 13.7 3.5-14.2-2.8 1.6-0.8-15.2zM1055.2 296.4l0.1 23.9-2.8-1.4 4.3 14.0 4.1-14.1-2.8 1.4-0.1-23.8zM1076.1 296.5l1.1 26.4-2.9-1.2 4.8 13.8 3.6-14.2-2.7 1.5-1.1-26.5zM1097.0 296.5l1.6 22.0-2.8-1.2 5.2 13.7 3.1-14.3-2.7 1.6-1.6-22.0zM1117.9 296.5l2.8 28.8-2.9-1.1 5.5 13.5 2.9-14.3-2.7 1.6-2.8-28.7zM1138.8 296.6l3.3 29.2-3.0-1.1 5.8 13.4 2.6-14.3-2.7 1.7-3.2-29.3zM1159.7 296.6l3.6 27.2-2.9-1.0 6.0 13.4 2.3-14.5-2.6 1.8-3.6-27.3zM1180.6 296.8l7.1 24.9-3.1-0.6 7.9 12.3 0.2-14.6-2.3 2.1-7.1-24.9zM1201.6 297.0l9.9 22.0-3.1-0.1 9.6 11.0-2.0-14.5-1.9 2.4-10.0-22.0zM1222.5 296.9l5.2 13.6-3.2-0.3 9.0 11.5-1.1-14.5-2.1 2.3-5.2-13.6zM1244.6 295.7l-0.7 0.0 0.6-1.5-7.0 2.7 7.3 1.7-0.8-1.4 0.7-0.1zM1266.4 295.3l-4.1-3.4 2.9-1.3-13.5-5.7 8.1 12.2 0.7-3.1 4.2 3.5zM1287.7 295.7l-3.9-7.4 3.1-0.1-10.3-10.4 2.9 14.4 1.8-2.6 3.9 7.5zM1308.7 296.2l-1.9-12.5 3.0 1.0-6.2-13.2-2.1 14.4 2.6-1.8 1.9 12.5zM1329.6 296.4l-0.2-5.8 2.9 1.3-4.7-13.9-3.7 14.2 2.7-1.5 0.2 5.7zM96.8 316.7l-17.6-37.5 3.2 0.1-9.8-10.9 2.1 14.4 2.0-2.4 17.5 37.5zM117.7 316.7l-17.6-37.5 3.1 0.1-9.7-10.9 2.1 14.4 2.0-2.4 17.5 37.5zM138.5 316.7l-17.2-33.9 3.1 0.0-10.1-10.6 2.6 14.4 1.9-2.6 17.2 33.9zM159.4 316.6l-14.3-25.7 3.2-0.1-10.5-10.2 3.1 14.2 1.8-2.5 14.2 25.7zM180.3 316.6l-15.2-25.2 3.1-0.3-10.8-9.8 3.6 14.2 1.7-2.7 15.2 25.2zM201.1 316.5l-11.5-17.7 3.1-0.4-11.2-9.4 4.1 14.0 1.6-2.7 11.6 17.8zM222.0 316.5l-10.0-14.2 3.1-0.5-11.5-9.1 4.6 13.9 1.5-2.7 10.0 14.2zM242.8 316.4l-10.9-13.5 3.0-0.7-12.0-8.2 5.5 13.5 1.3-2.8 11.0 13.5zM263.7 316.3l-11.9-12.7 3.0-0.9-12.6-7.3 6.5 13.1 1.0-3.0 11.9 12.8zM284.5 316.3l-13.0-11.7 3.0-1.1-13.3-6.3 7.6 12.5 0.9-3.0 12.9 11.6zM305.3 316.2l-7.4-5.4 2.8-1.4-13.8-4.8 8.8 11.6 0.5-3.1 7.4 5.3zM326.0 316.1l-4.7-2.7 2.7-1.7-14.3-3.4 10.1 10.6 0.1-3.1 4.7 2.7zM346.5 315.9l-5.3-1.1 2.0-2.5-14.6 1.2 12.8 7.0-0.8-3.0 5.3 1.2zM367.0 315.9l-5.4 0.6 1.1-2.9-13.5 5.7 14.4 2.6-1.7-2.6 5.4-0.6zM387.5 316.0l-5.0 1.8 0.3-3.1-11.7 8.7 14.6-0.8-2.3-2.2 5.1-1.8zM408.2 316.1l-4.7 2.7-0.2-3.1-10.0 10.6 14.2-3.4-2.6-1.7 4.7-2.7zM428.9 316.2l-4.1 3.5-0.8-3.1-8.0 12.3 13.4-5.8-2.8-1.3 4.1-3.4zM449.6 316.4l-5.6 7.1-1.3-2.8-5.3 13.6 11.9-8.4-3.1-0.7 5.6-7.0zM470.3 316.7l-7.6 15.6-1.9-2.4-2.3 14.4 9.9-10.8-3.2 0.1 7.6-15.7zM491.2 316.8l-6.0 16.4-2.2-2.3-0.8 14.6 8.7-11.7-3.1 0.3 6.0-16.3zM512.1 316.8l-6.0 16.4-2.2-2.3-0.8 14.6 8.7-11.7-3.1 0.3 6.0-16.3zM532.9 316.8l-8.0 22.1-2.2-2.3-0.8 14.6 8.7-11.7-3.1 0.3 8.1-22.0zM553.9 316.8l-11.1 27.2-2.1-2.3-1.3 14.5 9.1-11.4-3.1 0.3 11.1-27.3zM574.8 316.7l-12.3 27.5-2.0-2.4-1.9 14.5 9.6-11.1-3.1 0.1 12.2-27.4zM595.7 316.7l-15.4 31.4-1.9-2.5-2.4 14.4 10.0-10.7-3.2 0.0 15.4-31.4zM616.6 316.6l-18.7 35.1-1.8-2.6-2.9 14.3 10.3-10.3-3.1-0.1 18.7-35.0zM637.5 316.6l-22.3 38.5-1.7-2.6-3.4 14.2 10.6-10.0-3.1-0.2 22.3-38.5zM658.4 316.6l-24.2 38.6-1.6-2.7-3.9 14.1 11.0-9.6-3.1-0.3 24.2-38.7zM679.4 316.5l-23.6 34.9-1.6-2.7-4.3 13.9 11.3-9.2-3.1-0.4 23.6-34.9zM700.3 316.5l-27.7 37.9-1.5-2.7-4.8 13.7 11.6-8.8-3.1-0.5 27.7-38.0zM721.2 316.4l-21.4 27.2-1.3-2.9-5.4 13.6 12.0-8.4-3.1-0.6 21.4-27.1zM742.1 316.4l-17.1 19.9-1.2-2.9-5.9 13.3 12.3-7.8-3.0-0.8 17.1-19.9zM764.0 315.9l-21.3 2.1 1.1-3.0-13.5 5.6 14.3 2.8-1.7-2.6 21.3-2.1zM786.3 316.8l-6.5-16.2 3.1 0.3-9.1-11.4 1.3 14.5 2.1-2.3 6.5 16.1zM807.2 317.0l-4.3-16.9 3.1 0.7-7.5-12.6-0.6 14.6 2.3-2.0 4.3 16.8zM828.1 316.8l-6.7-16.1 3.2 0.2-9.3-11.3 1.5 14.5 2.0-2.3 6.7 16.0zM848.9 316.6l-5.7-9.5 3.1-0.3-10.8-9.8 3.6 14.1 1.7-2.6 5.7 9.5zM868.9 316.7l-0.6-0.4 1.3-0.9-7.4-1.5 5.3 5.3 0.1-1.6 0.6 0.3zM889.4 316.6l-0.7 0.1 0.5-1.5-6.9 3.1 7.5 1.1-1.0-1.3 0.8-0.1zM909.6 316.1l-4.6 2.8-0.3-3.1-9.7 10.9 14.1-3.7-2.6-1.7 4.6-2.8zM930.1 316.5l-2.9 4.6-1.6-2.7-4.1 14.0 11.1-9.5-3.1-0.3 2.9-4.5zM950.8 317.1l-1.0 5.3-2.5-1.9 1.7 14.5 6.6-13.0-3.0 0.9 0.9-5.4zM971.6 317.2l-0.5 5.3-2.7-1.7 2.7 14.4 5.7-13.5-2.9 1.1 0.5-5.4zM992.5 317.3l-0.2 5.3-2.7-1.4 3.7 14.1 4.7-13.9-2.9 1.3 0.2-5.4zM1013.4 317.4l0.2 5.3-2.8-1.3 4.7 13.9 3.7-14.2-2.8 1.5-0.2-5.4zM1034.3 317.4l1.5 14.2-2.9-1.1 5.7 13.5 2.7-14.4-2.7 1.7-1.5-14.1zM1055.2 317.5l3.6 20.3-3.0-0.9 6.6 13.1 1.7-14.6-2.5 1.9-3.6-20.2zM1076.1 317.6l4.5 20.8-3.1-0.8 7.1 12.8 1.2-14.5-2.5 1.9-4.4-20.8zM1097.0 317.6l4.7 18.6-3.1-0.7 7.5 12.5 0.7-14.6-2.4 2.1-4.6-18.5zM1117.9 317.7l7.4 27.7-3.0-0.6 7.6 12.4 0.5-14.6-2.3 2.1-7.5-27.8zM1138.8 317.7l7.6 28.4-3.0-0.7 7.6 12.5 0.5-14.6-2.4 2.0-7.6-28.4zM1159.7 317.7l6.8 25.1-3.1-0.6 7.7 12.4 0.4-14.6-2.3 2.1-6.8-25.2zM1180.6 317.7l6.9 22.3-3.1-0.6 8.1 12.2-0.1-14.6-2.3 2.1-6.8-22.2zM1201.5 317.8l7.4 21.1-3.1-0.4 8.5 11.9-0.6-14.6-2.2 2.2-7.3-21.2zM1222.4 317.4l1.1 17.7-2.9-1.3 5.1 13.7 3.3-14.2-2.7 1.6-1.1-17.7zM1244.0 316.1l-11.5 5.9-0.1-3.1-10.5 10.1 14.4-2.7-2.6-1.8 11.6-6.0zM1265.8 315.9l-8.0-1.6 1.9-2.4-14.5 1.4 12.9 6.8-0.8-3.0 8.0 1.6zM1287.4 316.3l-7.1-6.6 3.0-1.1-13.1-6.4 7.4 12.6 0.8-3.0 7.1 6.5zM1308.7 317.0l-3.2-16.2 3.0 0.9-6.8-12.9-1.4 14.5 2.5-1.9 3.2 16.2zM1329.6 317.3l0.0-11.8 2.8 1.4-4.2-14.0-4.2 14.0 2.8-1.4 0.0 11.8zM96.7 337.5l-20.1-36.2 3.1-0.1-10.4-10.2 3.1 14.3 1.8-2.6 20.1 36.2zM117.6 337.5l-19.2-34.6 3.1-0.1-10.5-10.2 3.2 14.2 1.7-2.5 19.3 34.6zM138.5 337.5l-18.2-30.3 3.1-0.3-10.8-9.8 3.6 14.2 1.7-2.7 18.2 30.3zM159.3 337.4l-16.0-24.6 3.1-0.4-11.1-9.4 4.1 14.0 1.6-2.7 16.0 24.7zM180.2 337.4l-17.2-23.9 3.1-0.5-11.6-8.9 4.8 13.8 1.4-2.7 17.2 23.8zM201.0 337.3l-15.0-18.3 3.0-0.7-12.1-8.2 5.6 13.5 1.3-2.9 15.1 18.4zM221.9 337.2l-14.5-15.4 3.0-0.9-12.6-7.4 6.5 13.1 1.1-2.9 14.4 15.5zM242.7 337.2l-15.5-14.4 3.0-1.1-13.1-6.5 7.3 12.6 0.9-3.0 15.5 14.4zM263.5 337.1l-16.4-13.3 2.8-1.3-13.5-5.5 8.2 12.1 0.7-3.1 16.5 13.3zM284.3 337.0l-17.4-11.9 2.7-1.5-13.9-4.4 9.2 11.3 0.4-3.1 17.4 12.0zM305.1 337.0l-11.2-6.3 2.6-1.7-14.3-3.2 10.2 10.5 0.1-3.1 11.2 6.2zM325.9 336.9l-8.4-3.7 2.5-2.0-14.5-1.8 11.0 9.5-0.1-3.1 8.4 3.7zM346.4 336.8l-7.9-1.3 1.8-2.5-14.5 1.8 13.2 6.5-0.9-3.0 7.9 1.3zM367.0 336.8l-5.4 0.6 1.1-3.0-13.5 5.6 14.4 2.8-1.7-2.7 5.4-0.5zM387.6 336.9l-5.2 1.6 0.5-3.1-12.1 8.2 14.6-0.2-2.1-2.2 5.1-1.7zM408.3 336.9l-4.9 2.5 0.0-3.2-10.6 10.1 14.4-2.5-2.5-1.9 4.8-2.4zM429.0 337.1l-4.4 3.1-0.5-3.1-8.9 11.7 13.8-4.9-2.8-1.4 4.4-3.2zM449.6 337.3l-5.9 6.7-1.2-2.9-6.1 13.3 12.4-7.7-3.0-0.8 5.9-6.8zM470.3 337.5l-8.2 15.4-1.8-2.6-2.9 14.3 10.3-10.3-3.1-0.1 8.2-15.3zM491.2 337.7l-6.7 16.0-2.0-2.3-1.5 14.5 9.3-11.3-3.2 0.2 6.7-16.1zM512.1 337.6l-6.9 16.0-2.0-2.4-1.7 14.6 9.4-11.2-3.1 0.1 6.9-15.9zM533.0 337.6l-8.8 19.7-2.0-2.4-1.9 14.5 9.6-11.1-3.2 0.2 8.8-19.7zM553.9 337.6l-11.8 24.1-1.9-2.5-2.4 14.4 10.0-10.7-3.2 0.0 11.8-24.1zM574.8 337.5l-14.2 26.8-1.9-2.6-2.8 14.3 10.3-10.3-3.2-0.1 14.3-26.7zM595.7 337.5l-18.5 31.9-1.7-2.6-3.4 14.2 10.7-10.0-3.1-0.2 18.5-31.9zM616.7 337.5l-21.5 34.1-1.6-2.7-3.9 14.1 11.0-9.6-3.1-0.3 21.4-34.2zM637.6 337.4l-26.7 39.4-1.5-2.7-4.4 13.9 11.4-9.2-3.2-0.4 26.7-39.4zM658.5 337.4l-29.9 41.0-1.5-2.7-4.8 13.7 11.6-8.8-3.1-0.5 30.0-41.1zM679.4 337.3l-28.4 36.3-1.4-2.8-5.3 13.6 12.0-8.4-3.1-0.7 28.4-36.2zM700.4 337.2l-36.9 37.7-1.0-3.0-6.8 13.0 12.8-7.1-3.0-1.0 36.9-37.6zM721.6 337.0l-33.2 20.2-0.3-3.1-9.8 10.9 14.2-3.7-2.7-1.7 33.2-20.2zM743.0 336.8l-26.5 4.9 0.8-3.0-13.0 6.7 14.6 1.6-1.9-2.5 26.5-4.9zM764.8 337.0l-18.1-11.0 2.7-1.6-14.1-3.7 9.7 10.8 0.3-3.1 18.1 11.0zM786.2 337.5l-10.0-18.6 3.1-0.1-10.3-10.3 2.9 14.3 1.8-2.5 10.1 18.6zM807.1 337.6l-9.1-19.1 3.1 0.1-9.8-10.8 2.2 14.4 2.0-2.5 9.1 19.1zM827.9 337.4l-11.1-14.8 3.1-0.5-11.8-8.7 5.1 13.7 1.4-2.8 11.1 14.7zM848.6 337.1l-9.8-8.6 2.9-1.2-13.3-6.1 7.7 12.4 0.8-3.0 9.8 8.7zM869.0 336.9l-7.5-2.6 2.3-2.2-14.6-0.7 11.8 8.6-0.4-3.1 7.5 2.6zM889.4 336.8l-5.4 0.3 1.2-2.9-13.7 5.0 14.2 3.4-1.6-2.7 5.4-0.3zM909.9 336.9l-5.1 1.8 0.4-3.1-11.8 8.8 14.6-0.9-2.2-2.1 5.0-1.9zM930.4 337.1l-4.3 3.3-0.6-3.0-8.4 11.9 13.6-5.3-2.8-1.4 4.2-3.3zM951.0 337.4l-3.0 4.5-1.6-2.7-4.2 14.0 11.3-9.3-3.2-0.4 3.0-4.5zM971.7 337.7l-2.0 5.0-2.1-2.4-1.4 14.5 9.2-11.3-3.1 0.2 2.0-5.0zM992.6 337.9l-1.2 5.3-2.4-2.0 1.1 14.6 7.1-12.8-3.0 0.8 1.1-5.3zM1013.4 338.1l-0.5 5.3-2.6-1.6 2.8 14.3 5.5-13.5-2.9 1.1 0.5-5.4zM1034.3 338.2l-0.1 14.2-2.8-1.4 4.0 14.0 4.4-13.9-2.8 1.4 0.1-14.3zM1055.2 338.3l1.2 17.4-2.8-1.2 5.1 13.6 3.2-14.2-2.7 1.6-1.2-17.4zM1076.1 338.4l2.1 17.2-2.9-1.0 5.8 13.4 2.5-14.4-2.6 1.7-2.1-17.3zM1097.0 338.4l3.2 18.8-3.0-0.9 6.5 13.1 1.8-14.5-2.5 1.9-3.2-18.8zM1117.9 338.5l5.5 28.1-3.0-0.8 6.7 13.0 1.5-14.6-2.5 1.9-5.4-28.2zM1138.8 338.5l5.6 28.8-3.0-0.8 6.8 12.9 1.4-14.5-2.5 1.9-5.5-28.9zM1159.7 338.5l4.8 24.4-3.0-0.8 6.8 12.9 1.4-14.5-2.5 1.9-4.7-24.5zM1180.6 338.5l4.8 20.6-3.1-0.7 7.3 12.7 0.9-14.6-2.4 2.0-4.8-20.6zM1201.5 338.6l5.5 20.4-3.1-0.6 7.7 12.4 0.5-14.6-2.4 2.1-5.5-20.5zM1222.4 338.3l2.1 21.1-2.9-1.1 5.5 13.5 2.8-14.4-2.6 1.7-2.1-21.0zM1243.4 337.6l-6.7 14.0-1.9-2.5-2.3 14.5 9.8-10.8-3.1 0.0 6.7-14.0zM1265.0 336.9l-8.3 3.9 0.1-3.1-10.9 9.8 14.5-2.2-2.5-1.9 8.3-3.9zM1287.3 337.1l-7.7-5.8 2.8-1.4-13.7-5.1 8.6 11.8 0.6-3.1 7.7 5.8zM1308.7 338.0l-2.2-17.2 2.9 1.0-6.0-13.3-2.3 14.4 2.6-1.8 2.3 17.3zM1329.6 338.2l0.0-17.4 2.8 1.4-4.2-14.0-4.2 14.0 2.8-1.4 0.0 17.4zM96.7 358.3l-22.6-34.7 3.1-0.3-11.2-9.5 4.1 14.1 1.6-2.7 22.6 34.7zM117.6 358.3l-19.9-30.4 3.2-0.3-11.2-9.5 4.1 14.0 1.6-2.7 19.8 30.5zM138.4 358.3l-17.4-24.9 3.1-0.4-11.5-9.1 4.6 13.9 1.5-2.8 17.4 24.9zM159.3 358.3l-17.7-23.5 3.1-0.6-11.8-8.6 5.1 13.7 1.3-2.8 17.8 23.4zM180.1 358.2l-19.1-22.3 3.1-0.8-12.3-7.9 5.9 13.4 1.2-2.9 19.1 22.3zM200.9 358.1l-21.0-20.5 2.9-1.0-13.0-6.8 7.2 12.8 0.9-3.0 21.1 20.5zM221.7 358.0l-23.4-18.9 2.9-1.3-13.5-5.5 8.2 12.1 0.7-3.1 23.4 18.9zM242.5 358.0l-25.2-17.6 2.8-1.5-13.9-4.6 9.1 11.4 0.4-3.0 25.2 17.5zM263.4 357.9l-26.4-15.8 2.6-1.7-14.2-3.6 9.9 10.8 0.2-3.1 26.4 15.8zM284.2 357.8l-27.5-13.8 2.5-1.8-14.4-2.6 10.6 10.1 0.0-3.2 27.5 13.9zM305.0 357.8l-20.8-8.5 2.3-2.1-14.5-1.4 11.3 9.2-0.2-3.1 20.8 8.5zM325.8 357.8l-17.3-5.6 2.2-2.2-14.6-0.3 12.1 8.3-0.5-3.1 17.2 5.5zM346.4 357.7l-14.2-1.6 1.7-2.6-14.4 2.6 13.5 5.7-1.1-2.9 14.2 1.6zM367.0 357.7l-6.7 0.6 1.1-2.9-13.6 5.5 14.4 2.9-1.7-2.7 6.7-0.6zM387.6 357.7l-6.5 1.8 0.6-3.1-12.4 7.7 14.6 0.4-2.1-2.3 6.6-1.7zM408.3 357.8l-5.3 2.3 0.2-3.1-11.2 9.5 14.5-1.8-2.4-2.0 5.4-2.3zM429.1 357.9l-4.6 2.9-0.3-3.2-9.7 11.0 14.1-3.8-2.6-1.7 4.5-2.8zM449.7 358.1l-6.3 6.4-1.0-2.9-6.9 12.9 12.9-7.0-3.0-1.0 6.3-6.4zM470.4 358.4l-8.9 15.0-1.7-2.7-3.5 14.2 10.7-9.9-3.1-0.2 8.9-15.0zM491.2 358.5l-7.3 15.8-2.0-2.4-2.0 14.4 9.7-10.9-3.2 0.1 7.3-15.8zM512.1 358.5l-7.7 15.6-1.9-2.5-2.5 14.4 10.0-10.7-3.1 0.0 7.7-15.6zM533.0 358.4l-8.2 15.4-1.8-2.6-2.9 14.4 10.3-10.4-3.1-0.1 8.2-15.3zM553.9 358.4l-10.5 18.2-1.7-2.6-3.4 14.2 10.6-10.0-3.1-0.2 10.6-18.2zM574.9 358.4l-15.7 24.9-1.6-2.7-3.9 14.1 11.0-9.6-3.1-0.3 15.6-25.0zM595.8 358.3l-16.5 24.4-1.5-2.8-4.4 14.0 11.3-9.3-3.1-0.4 16.5-24.3zM616.7 358.3l-22.3 30.6-1.5-2.8-4.8 13.8 11.6-8.8-3.1-0.5 22.4-30.7zM637.6 358.2l-29.3 37.4-1.3-2.8-5.4 13.6 12.0-8.4-3.1-0.6 29.3-37.4zM658.6 358.2l-34.4 40.8-1.3-2.8-5.8 13.4 12.2-8.0-3.0-0.8 34.4-40.8zM679.5 358.2l-35.8 39.6-1.2-2.9-6.2 13.2 12.5-7.6-3.0-0.8 35.8-39.7zM700.6 358.0l-43.5 30.9-0.5-3.1-9.0 11.6 13.9-4.7-2.8-1.5 43.5-31.0zM722.4 357.7l-43.8-1.9 1.5-2.7-14.2 3.6 13.8 4.8-1.2-2.9 43.8 1.9zM744.1 358.0l-25.9-22.8 2.9-1.1-13.3-6.1 7.8 12.4 0.8-3.1 25.9 22.9zM765.2 358.2l-19.3-22.8 3.1-0.7-12.3-8.0 5.8 13.4 1.3-2.9 19.2 22.8zM786.2 358.3l-16.8-25.6 3.2-0.3-11.2-9.5 4.1 14.0 1.6-2.7 16.7 25.7zM807.0 358.2l-18.0-23.4 3.1-0.6-11.9-8.5 5.2 13.7 1.4-2.9 18.0 23.5zM827.6 358.0l-16.4-12.6 2.8-1.4-13.6-5.2 8.5 11.8 0.6-3.0 16.4 12.6zM848.2 357.8l-16.0-6.8 2.4-2.0-14.6-1.6 11.3 9.3-0.2-3.1 16.0 6.8zM868.9 357.7l-13.7-2.8 2.0-2.5-14.6 1.3 12.8 6.9-0.8-3.0 13.7 2.9zM889.5 357.7l-6.8-0.1 1.5-2.8-14.1 4.0 13.9 4.4-1.3-2.8 6.7 0.1zM910.1 357.7l-6.6 1.1 0.9-3.0-13.2 6.4 14.5 1.9-1.8-2.5 6.7-1.1zM930.8 357.8l-6.4 2.3 0.4-3.1-11.8 8.7 14.6-0.8-2.2-2.2 6.3-2.3zM951.4 357.9l-5.8 3.5-0.2-3.1-9.8 10.8 14.1-3.6-2.6-1.7 5.8-3.5zM972.0 358.2l-4.1 4.8-1.2-2.9-6.0 13.3 12.3-7.8-3.0-0.8 4.1-4.8zM992.6 358.5l-2.1 5.0-2.0-2.4-1.7 14.5 9.4-11.2-3.1 0.2 2.1-4.9zM1013.5 358.8l-1.3 5.2-2.4-2.0 0.9 14.6 7.3-12.7-3.0 0.8 1.2-5.3zM1034.3 358.9l-1.7 13.1-2.6-1.7 2.4 14.4 5.9-13.3-2.9 1.0 1.7-13.1zM1055.2 359.1l-0.5 16.0-2.8-1.5 3.7 14.1 4.7-13.8-2.8 1.3 0.5-16.1zM1076.1 359.1l0.5 16.5-2.8-1.3 4.6 13.9 3.7-14.1-2.7 1.5-0.5-16.5zM1097.0 359.2l1.8 18.8-3.0-1.1 5.5 13.6 2.9-14.4-2.7 1.7-1.7-18.8zM1117.9 359.3l3.3 27.2-2.9-1.1 5.8 13.4 2.5-14.4-2.6 1.8-3.3-27.3zM1138.8 359.3l3.4 27.8-3.0-1.0 5.9 13.3 2.5-14.4-2.6 1.8-3.4-27.9zM1159.7 359.3l3.5 28.5-2.9-1.0 5.9 13.4 2.4-14.4-2.6 1.7-3.5-28.6zM1180.6 359.3l4.5 28.6-2.9-1.0 6.3 13.2 2.0-14.5-2.6 1.9-4.5-28.6zM1201.5 359.4l5.4 27.5-3.0-0.8 6.8 12.9 1.4-14.6-2.5 2.0-5.4-27.6zM1222.4 359.3l3.5 27.8-3.0-1.0 5.9 13.3 2.5-14.4-2.6 1.7-3.5-27.8zM1243.3 359.0l-0.6 11.1-2.7-1.5 3.5 14.1 4.9-13.7-2.9 1.2 0.6-11.0zM1264.2 358.8l-1.3 5.2-2.4-2.1 0.6 14.6 7.5-12.5-3.0 0.7 1.3-5.3zM1286.2 357.7l-9.0 1.5 0.9-3.0-13.1 6.3 14.5 2.0-1.9-2.6 9.1-1.4zM1308.7 359.0l-0.7-16.2 2.8 1.3-4.8-13.8-3.6 14.2 2.8-1.6 0.7 16.3zM1329.6 359.1l0.0-17.3 2.8 1.4-4.2-14.0-4.2 14.0 2.8-1.4 0.0 17.3zM96.6 379.1l-26.7-31.7 3.0-0.7-12.2-8.0 5.8 13.4 1.2-2.9 26.7 31.7zM117.5 379.1l-26.4-31.3 3.0-0.7-12.2-8.0 5.8 13.4 1.3-2.9 26.3 31.3zM138.3 379.1l-24.8-27.9 3.0-0.8-12.4-7.7 6.2 13.3 1.1-2.9 24.8 27.8zM159.2 379.0l-20.2-21.4 3.0-0.9-12.6-7.3 6.5 13.1 1.1-2.9 20.2 21.4zM180.0 379.0l-21.3-20.2 2.9-1.1-13.0-6.6 7.2 12.7 0.9-3.0 21.4 20.2zM200.8 378.9l-23.1-18.2 2.8-1.3-13.6-5.4 8.5 12.0 0.6-3.1 23.1 18.2zM221.6 378.8l-29.1-18.9 2.7-1.6-14.0-4.1 9.4 11.2 0.4-3.2 29.1 19.0zM242.4 378.8l-35.0-20.1 2.6-1.7-14.2-3.3 10.0 10.6 0.2-3.2 35.1 20.1zM263.3 378.7l-36.1-18.0 2.5-1.9-14.4-2.5 10.6 10.0 0.0-3.1 36.1 18.1zM284.1 378.7l-37.1-15.9 2.4-2.0-14.5-1.7 11.2 9.4-0.2-3.2 37.1 16.0zM304.9 378.7l-30.2-10.8 2.2-2.2-14.5-0.7 11.7 8.6-0.4-3.1 30.3 10.8zM325.7 378.7l-22.1-6.4 2.2-2.3-14.7 0.2 12.3 7.9-0.5-3.1 22.0 6.3zM346.4 378.6l-17.0-2.2 1.8-2.6-14.4 2.4 13.3 5.9-1.0-2.9 16.9 2.2zM367.1 378.6l-16.4 0.4 1.3-2.8-13.9 4.5 14.1 3.9-1.4-2.8 16.3-0.4zM387.8 378.6l-16.2 2.8 0.9-3.0-13.1 6.4 14.5 1.8-1.8-2.5 16.1-2.7zM408.5 378.7l-8.3 2.6 0.5-3.1-12.2 8.1 14.7-0.1-2.2-2.3 8.3-2.6zM429.2 378.7l-4.9 2.3 0.1-3.1-10.9 9.7 14.4-2.1-2.4-2.0 4.9-2.2zM449.8 378.9l-7.1 5.5-0.6-3.0-8.5 11.9 13.7-5.3-2.9-1.4 7.1-5.5zM470.5 379.1l-10.9 13.6-1.3-2.8-5.4 13.6 12.0-8.4-3.1-0.6 10.9-13.6zM491.3 379.3l-9.1 14.8-1.7-2.7-3.8 14.1 11.0-9.7-3.2-0.2 9.2-14.9zM512.2 379.3l-8.9 14.9-1.7-2.6-3.6 14.2 10.8-9.9-3.1-0.2 8.9-15.0zM533.1 379.3l-8.8 15.1-1.7-2.6-3.3 14.2 10.6-10.0-3.1-0.2 8.7-15.1zM554.0 379.3l-11.2 17.8-1.6-2.6-3.9 14.1 11.0-9.7-3.1-0.3 11.1-17.9zM574.9 379.2l-16.5 24.4-1.5-2.7-4.3 13.9 11.3-9.2-3.1-0.4 16.4-24.4zM595.8 379.2l-17.2 23.8-1.4-2.8-4.8 13.9 11.6-8.9-3.1-0.5 17.2-23.9zM616.7 379.1l-23.0 30.2-1.4-2.8-5.1 13.6 11.8-8.5-3.1-0.6 23.1-30.1zM637.6 379.1l-29.9 37.0-1.3-2.9-5.5 13.5 12.1-8.2-3.1-0.7 29.9-36.9zM658.6 379.1l-34.8 40.5-1.2-2.8-5.9 13.3 12.3-7.9-3.0-0.7 34.7-40.6zM679.5 379.1l-35.9 39.5-1.1-2.9-6.3 13.2 12.5-7.5-3.0-0.9 35.9-39.6zM700.7 378.8l-45.4 28.2-0.3-3.1-9.7 10.9 14.2-3.8-2.7-1.6 45.4-28.2zM722.8 378.7l-34.9-12.1 2.2-2.2-14.6-0.6 11.9 8.6-0.4-3.1 34.9 12.0zM744.4 379.2l-17.2-24.5 3.1-0.4-11.5-9.1 4.6 13.9 1.5-2.8 17.2 24.5zM765.2 379.2l-19.2-26.7 3.1-0.5-11.7-8.9 4.8 13.8 1.5-2.8 19.3 26.7zM786.1 379.2l-23.3-31.4 3.1-0.5-11.8-8.7 5.0 13.7 1.4-2.8 23.4 31.3zM806.9 379.0l-21.2-21.6 3.0-1.0-12.8-7.0 6.8 12.9 1.0-2.9 21.2 21.6zM827.5 378.8l-17.8-10.6 2.7-1.7-14.2-3.6 9.8 10.8 0.3-3.1 17.8 10.6zM848.1 378.7l-16.7-5.1 2.2-2.3-14.6 0.0 12.1 8.1-0.5-3.1 16.7 5.0zM868.8 378.6l-16.7-3.2 1.9-2.5-14.6 1.5 13.0 6.8-0.9-3.0 16.8 3.2zM889.6 378.6l-16.3-1.4 1.6-2.6-14.3 3.0 13.6 5.3-1.2-2.9 16.3 1.4zM910.3 378.6l-16.4 0.7 1.3-2.9-13.8 4.8 14.2 3.6-1.5-2.7 16.3-0.7zM931.0 378.6l-16.1 3.1 0.9-3.0-13.0 6.8 14.5 1.5-1.9-2.5 16.1-3.1zM951.7 378.7l-15.5 5.5 0.4-3.1-11.8 8.6 14.6-0.7-2.2-2.2 15.4-5.5zM972.2 378.9l-10.2 7.5-0.6-3.1-8.8 11.7 13.8-4.9-2.8-1.4 10.3-7.6zM992.8 379.2l-3.2 4.4-1.4-2.8-4.8 13.8 11.6-8.9-3.1-0.5 3.2-4.4zM1013.5 379.5l-2.1 4.9-2.0-2.4-1.6 14.6 9.3-11.3-3.1 0.2 2.1-5.0zM1034.4 379.7l-1.5 5.9-2.4-2.0 0.6 14.6 7.5-12.6-3.0 0.7 1.5-6.0zM1055.2 379.9l-0.6 6.3-2.7-1.6 2.8 14.3 5.6-13.5-2.9 1.1 0.6-6.4zM1076.1 380.0l-0.3 10.1-2.8-1.5 3.8 14.1 4.6-13.8-2.8 1.3 0.3-10.2zM1097.0 380.1l0.7 17.5-2.9-1.3 4.7 13.8 3.7-14.1-2.7 1.5-0.7-17.6zM1117.9 380.1l1.3 18.3-2.9-1.2 5.2 13.7 3.2-14.3-2.7 1.6-1.3-18.3zM1138.8 380.1l1.4 18.4-2.9-1.2 5.2 13.6 3.1-14.2-2.7 1.6-1.3-18.4zM1159.7 380.1l1.9 24.3-2.9-1.1 5.3 13.6 3.1-14.3-2.7 1.6-1.9-24.3zM1180.6 380.2l2.8 25.4-2.9-1.1 5.7 13.5 2.6-14.4-2.6 1.7-2.8-25.5zM1201.5 380.2l2.6 18.2-3.0-1.0 6.2 13.3 2.1-14.4-2.5 1.7-2.6-18.2zM1222.4 380.1l1.6 18.4-2.9-1.2 5.4 13.6 2.9-14.3-2.6 1.6-1.6-18.3zM1243.3 379.9l-0.6 8.6-2.7-1.5 3.2 14.2 5.2-13.7-2.9 1.2 0.6-8.6zM1264.2 379.6l-1.4 5.2-2.4-2.1 0.4 14.6 7.7-12.3-3.0 0.6 1.4-5.2zM1286.3 378.6l-5.7 0.4 1.2-2.9-13.7 5.3 14.3 3.1-1.6-2.7 5.8-0.4zM1308.7 379.6l-2.3-7.8 3.1 0.6-7.9-12.3-0.2 14.6 2.3-2.1 2.3 7.8zM1329.6 379.7l-3.3-16.6 3.0 0.9-6.9-12.9-1.3 14.5 2.4-1.9 3.4 16.6zM96.4 399.8l-31.8-26.5 2.8-1.2-13.4-5.7 8.1 12.1 0.7-3.0 31.8 26.5zM117.3 399.8l-31.8-26.5 2.8-1.2-13.4-5.7 8.0 12.1 0.8-3.0 31.8 26.5zM138.2 399.8l-31.5-25.4 2.9-1.3-13.5-5.6 8.2 12.1 0.7-3.1 31.4 25.5zM159.0 399.8l-29.8-23.5 2.8-1.3-13.6-5.4 8.4 12.0 0.7-3.1 29.8 23.5zM179.9 399.8l-30.7-22.4 2.8-1.5-13.8-4.8 8.8 11.6 0.5-3.1 30.7 22.4zM200.7 399.7l-32.0-20.4 2.7-1.6-14.1-4.0 9.6 11.1 0.3-3.1 32.0 20.4zM221.5 399.7l-34.6-19.2 2.5-1.8-14.3-3.1 10.3 10.4 0.1-3.1 34.7 19.2zM242.4 399.7l-39.0-20.2 2.6-1.9-14.4-2.7 10.5 10.2 0.0-3.1 39.0 20.1zM263.3 399.6l-45.1-21.7 2.5-1.9-14.4-2.3 10.8 9.8-0.1-3.1 45.0 21.8zM284.1 399.6l-45.8-20.0 2.4-2.0-14.5-1.8 11.1 9.5-0.1-3.2 45.8 20.1zM304.9 399.6l-38.9-14.9 2.3-2.1-14.6-1.0 11.6 8.9-0.3-3.1 38.9 14.8zM325.8 399.6l-30.5-10.0 2.2-2.2-14.7-0.4 12.1 8.4-0.5-3.1 30.5 9.9zM346.5 399.5l-23.0-4.8 2.0-2.4-14.6 1.2 12.9 7.0-0.8-3.0 22.9 4.8zM367.2 399.5l-17.3-1.6 1.7-2.7-14.4 2.9 13.6 5.5-1.1-2.9 17.3 1.6zM388.0 399.5l-17.4 0.3 1.3-2.8-13.9 4.5 14.1 3.9-1.5-2.8 17.4-0.3zM408.7 399.5l-8.9 1.3 1.0-3.0-13.3 6.1 14.4 2.2-1.7-2.6 8.9-1.2zM429.4 399.5l-5.2 1.4 0.7-3.0-12.5 7.6 14.6 0.5-2.1-2.4 5.3-1.3zM450.1 399.6l-5.8 2.9 0.0-3.2-10.7 10.0 14.4-2.4-2.5-1.9 5.8-2.8zM470.7 399.8l-7.6 5.9-0.6-3.0-8.5 11.9 13.6-5.3-2.8-1.4 7.6-5.9zM491.5 399.9l-11.3 12.2-1.1-3.0-6.5 13.1 12.6-7.3-3.0-0.9 11.3-12.1zM512.2 400.1l-10.3 14.0-1.4-2.8-4.9 13.8 11.7-8.8-3.1-0.6 10.3-14.0zM533.1 400.2l-8.8 15.1-1.7-2.6-3.3 14.2 10.6-10.0-3.1-0.2 8.7-15.1zM554.0 400.2l-11.2 17.8-1.6-2.6-3.9 14.1 11.0-9.7-3.1-0.3 11.1-17.9zM574.9 400.1l-16.5 24.4-1.5-2.7-4.3 13.9 11.3-9.2-3.1-0.4 16.4-24.4zM595.8 400.1l-17.0 24.0-1.5-2.8-4.7 13.8 11.5-8.9-3.0-0.5 17.0-24.0zM616.7 400.1l-22.4 30.6-1.4-2.8-4.9 13.8 11.7-8.8-3.1-0.6 22.4-30.6zM637.6 400.1l-25.9 34.4-1.4-2.8-5.1 13.7 11.8-8.6-3.1-0.6 26.0-34.5zM658.5 400.0l-29.1 37.6-1.3-2.8-5.3 13.6 11.9-8.5-3.0-0.6 29.0-37.5zM679.4 400.0l-32.6 41.0-1.3-2.8-5.5 13.6 12.0-8.4-3.0-0.6 32.6-41.0zM700.6 399.8l-36.9 26.6-0.5-3.1-8.9 11.6 13.8-4.8-2.8-1.4 36.9-26.7zM722.7 399.6l-32.0-10.6 2.2-2.2-14.6-0.4 12.0 8.4-0.5-3.1 32.1 10.5zM744.4 400.1l-16.9-24.1 3.1-0.4-11.5-9.1 4.6 13.9 1.5-2.8 16.9 24.1zM765.2 400.0l-18.5-24.1 3.0-0.6-11.8-8.6 5.2 13.7 1.3-2.8 18.6 24.2zM786.1 400.0l-21.5-25.6 3.1-0.8-12.3-8.0 5.8 13.4 1.3-2.8 21.4 25.6zM806.8 399.9l-27.4-25.7 3.0-1.1-13.1-6.5 7.3 12.6 0.9-3.0 27.4 25.7zM827.5 399.7l-19.6-12.2 2.7-1.6-14.1-3.8 9.6 10.9 0.3-3.1 19.6 12.2zM848.2 399.6l-20.5-7.8 2.3-2.1-14.6-1.1 11.6 8.9-0.3-3.1 20.5 7.8zM868.9 399.5l-25.1-6.6 2.1-2.4-14.6 0.5 12.4 7.6-0.6-3.0 25.1 6.7zM889.7 399.5l-25.7-4.0 1.8-2.5-14.5 2.0 13.2 6.3-0.9-3.0 25.6 4.0zM910.4 399.5l-26.0-0.5 1.5-2.8-14.1 3.9 13.9 4.5-1.4-2.8 26.0 0.5zM931.1 399.5l-19.6 2.8 1.0-3.0-13.2 6.2 14.4 2.2-1.8-2.6 19.5-2.8zM951.7 399.6l-16.6 5.2 0.5-3.1-12.1 8.2 14.6-0.2-2.1-2.3 16.6-5.2zM972.4 399.7l-14.3 7.7-0.1-3.1-10.4 10.3 14.4-2.9-2.6-1.8 14.3-7.8zM993.0 399.8l-9.8 8.3-0.7-3.0-8.0 12.2 13.4-5.8-2.9-1.3 9.8-8.2zM1013.7 400.1l-3.5 4.8-1.5-2.8-4.9 13.7 11.7-8.7-3.1-0.6 3.6-4.8zM1034.4 400.4l-1.9 5.0-2.1-2.3-1.2 14.6 9.0-11.5-3.1 0.2 1.9-5.0zM1055.2 400.7l-0.7 5.4-2.6-1.8 2.3 14.4 6.0-13.3-2.9 1.0 0.7-5.3zM1076.1 400.8l-0.4 6.5-2.7-1.5 3.2 14.2 5.2-13.7-2.9 1.2 0.4-6.5zM1097.0 400.9l0.0 10.0-2.8-1.4 4.3 14.0 4.1-14.0-2.8 1.4 0.0-10.0zM1117.9 401.0l0.7 16.8-2.9-1.2 4.7 13.8 3.7-14.2-2.7 1.5-0.7-16.9zM1138.8 401.0l0.8 17.3-2.8-1.2 4.8 13.8 3.5-14.2-2.7 1.5-0.8-17.4zM1159.7 401.0l1.1 19.2-2.9-1.2 5.0 13.7 3.4-14.2-2.7 1.5-1.1-19.2zM1180.6 401.0l1.6 19.6-2.9-1.2 5.4 13.6 3.0-14.3-2.7 1.6-1.6-19.5zM1201.5 401.1l1.7 16.0-2.9-1.1 5.7 13.5 2.7-14.4-2.7 1.7-1.7-16.1zM1222.4 400.9l-0.3 9.2-2.8-1.5 3.8 14.1 4.6-13.8-2.8 1.3 0.3-9.3zM1243.5 400.1l-3.5 5.2-1.5-2.7-4.3 14.0 11.3-9.3-3.1-0.4 3.4-5.2zM1265.4 399.5l-5.4 0.7 1.0-3.0-13.3 6.0 14.4 2.4-1.7-2.6 5.3-0.7zM1287.0 399.6l-4.9-2.3 2.5-1.9-14.5-2.1 10.9 9.7 0.0-3.1 4.9 2.3zM1308.4 399.9l-5.0-5.2 3.0-0.9-12.6-7.4 6.5 13.1 1.1-2.9 4.9 5.3zM1329.4 400.1l-10.2-13.5 3.1-0.6-11.8-8.6 5.1 13.7 1.3-2.8 10.2 13.4zM96.2 420.6l-35.9-20.7 2.6-1.7-14.2-3.4 10.0 10.7 0.2-3.2 35.9 20.7zM117.1 420.6l-35.9-20.7 2.6-1.7-14.2-3.4 10.0 10.7 0.2-3.2 35.9 20.7zM138.0 420.6l-35.9-20.7 2.6-1.7-14.2-3.4 10.0 10.7 0.2-3.2 35.9 20.7zM158.9 420.6l-35.9-20.7 2.6-1.7-14.2-3.4 10.0 10.7 0.2-3.2 35.9 20.7zM179.7 420.6l-36.2-20.1 2.6-1.8-14.3-3.1 10.2 10.5 0.2-3.2 36.2 20.1zM200.6 420.6l-40.7-20.8 2.6-1.8-14.4-2.7 10.5 10.1 0.1-3.1 40.6 20.7zM221.4 420.5l-40.4-18.8 2.5-2.0-14.5-2.1 10.9 9.7 0.0-3.1 40.4 18.9zM242.3 420.5l-40.6-18.9 2.5-2.0-14.5-2.1 10.9 9.7-0.1-3.1 40.7 19.0zM263.2 420.5l-48.3-22.6 2.4-1.9-14.5-2.1 10.9 9.7 0.0-3.1 48.3 22.6zM284.1 420.5l-48.8-21.8 2.5-1.9-14.5-1.9 11.0 9.5-0.1-3.1 48.8 21.8zM305.0 420.5l-41.8-16.9 2.3-2.1-14.6-1.4 11.4 9.2-0.2-3.1 41.8 16.9zM325.8 420.5l-33.3-12.2 2.2-2.1-14.6-0.9 11.8 8.8-0.4-3.2 33.3 12.2zM346.6 420.5l-26.6-7.7 2.1-2.3-14.6 0.1 12.3 8.0-0.6-3.1 26.6 7.6zM367.4 420.4l-22.5-4.8 2.0-2.4-14.6 1.2 12.8 7.0-0.8-3.0 22.5 4.8zM388.2 420.4l-17.9-2.2 1.7-2.6-14.4 2.4 13.4 5.9-1.1-2.9 17.9 2.2zM408.9 420.4l-9.0-0.2 1.4-2.7-14.0 3.9 13.9 4.5-1.4-2.9 9.1 0.2zM429.7 420.4l-5.4 0.5 1.1-2.9-13.5 5.4 14.3 2.9-1.7-2.6 5.4-0.5zM450.3 420.4l-5.2 1.4 0.6-3.0-12.4 7.6 14.6 0.5-2.1-2.4 5.2-1.3zM471.0 420.5l-6.0 2.8 0.1-3.1-10.9 9.7 14.4-2.1-2.4-1.9 6.0-2.8zM491.7 420.7l-13.2 9.5-0.5-3.1-8.9 11.6 13.8-4.8-2.8-1.5 13.2-9.5zM512.3 420.9l-11.6 12.9-1.1-2.9-6.3 13.2 12.5-7.6-3.0-0.8 11.6-13.0zM533.1 421.1l-8.8 15.1-1.7-2.7-3.4 14.3 10.7-10.0-3.1-0.2 8.7-15.1zM554.0 421.1l-11.2 17.8-1.6-2.6-3.9 14.1 11.0-9.7-3.1-0.3 11.1-17.9zM574.9 421.0l-16.4 24.4-1.6-2.7-4.3 13.9 11.3-9.2-3.1-0.4 16.4-24.4zM595.8 421.0l-16.8 24.1-1.5-2.8-4.6 13.9 11.5-9.0-3.1-0.5 16.8-24.1zM616.7 421.0l-19.2 27.5-1.5-2.8-4.6 13.9 11.5-9.1-3.1-0.4 19.2-27.5zM637.6 421.0l-20.1 28.9-1.5-2.8-4.6 13.9 11.5-9.1-3.1-0.4 20.1-28.9zM658.5 421.0l-22.3 31.9-1.5-2.7-4.6 13.9 11.5-9.1-3.1-0.5 22.3-31.9zM679.4 421.0l-26.3 37.6-1.5-2.8-4.5 13.9 11.4-9.1-3.1-0.4 26.3-37.6zM700.5 420.7l-27.7 23.3-0.8-3.1-8.0 12.3 13.4-5.8-2.8-1.3 27.7-23.2zM722.7 420.5l-25.5-7.6 2.2-2.3-14.6 0.0 12.2 8.0-0.6-3.1 25.5 7.6zM744.3 421.0l-15.3-21.5 3.1-0.5-11.6-8.9 4.7 13.8 1.5-2.8 15.4 21.5zM765.2 420.9l-18.7-22.7 3.0-0.7-12.1-8.1 5.7 13.5 1.2-2.9 18.7 22.7zM786.0 420.8l-21.2-22.4 3.0-0.9-12.6-7.3 6.5 13.1 1.1-3.0 21.2 22.5zM806.8 420.7l-30.7-26.3 2.9-1.2-13.4-6.0 7.9 12.4 0.8-3.1 30.7 26.4zM827.5 420.6l-24.0-15.3 2.7-1.6-14.1-4.0 9.6 11.0 0.3-3.1 24.0 15.4zM848.3 420.5l-24.3-11.1 2.5-2.0-14.5-2.0 11.0 9.7-0.1-3.2 24.2 11.2zM869.0 420.5l-27.8-9.5 2.2-2.2-14.6-0.5 11.9 8.5-0.4-3.1 27.8 9.4zM889.8 420.4l-28.7-6.4 2.0-2.5-14.6 1.1 12.7 7.1-0.7-3.0 28.7 6.5zM910.5 420.4l-29.3-2.4 1.6-2.7-14.3 3.1 13.6 5.3-1.2-2.9 29.3 2.4zM931.1 420.4l-20.5 1.9 1.1-2.9-13.5 5.5 14.3 2.9-1.7-2.7 20.6-1.9zM951.8 420.4l-16.8 4.6 0.6-3.1-12.4 7.7 14.6 0.4-2.1-2.3 16.8-4.5zM972.5 420.5l-16.2 6.3 0.3-3.2-11.6 9.0 14.6-1.1-2.3-2.1 16.2-6.3zM993.3 420.6l-14.1 7.1 0.0-3.1-10.5 10.1 14.3-2.6-2.5-1.9 14.1-7.2zM1013.9 420.7l-4.7 4.0-0.7-3.1-8.1 12.3 13.5-5.8-2.9-1.3 4.7-3.9zM1034.5 421.1l-2.6 4.7-1.8-2.5-3.1 14.2 10.4-10.2-3.1-0.1 2.6-4.7zM1055.2 421.6l-0.9 5.3-2.5-1.9 1.6 14.5 6.6-13.0-3.0 0.9 1.0-5.4zM1076.1 421.6l-0.6 5.4-2.6-1.7 2.7 14.4 5.7-13.5-3.0 1.1 0.6-5.3zM1097.0 421.7l-0.2 6.3-2.8-1.5 3.7 14.1 4.7-13.8-2.8 1.3 0.2-6.2zM1117.9 421.8l0.0 10.9-2.8-1.4 4.3 14.0 4.1-14.1-2.8 1.5 0.0-10.9zM1138.8 421.8l0.2 11.2-2.8-1.3 4.4 13.9 4.0-14.1-2.8 1.5-0.2-11.2zM1159.7 421.8l0.3 11.2-2.8-1.3 4.6 13.9 3.8-14.1-2.8 1.4-0.3-11.1zM1180.6 421.9l0.5 11.2-2.8-1.3 4.9 13.8 3.5-14.2-2.8 1.5-0.5-11.2zM1201.5 421.9l0.7 10.3-2.9-1.2 5.2 13.7 3.2-14.3-2.7 1.6-0.7-10.3zM1222.4 421.5l-1.1 5.6-2.5-1.9 1.3 14.5 6.9-12.8-3.0 0.8 1.1-5.6zM1244.6 421.1l-0.7 0.1 0.5-1.5-6.9 3.0 7.4 1.2-0.9-1.3 0.7-0.1zM1265.9 421.2l-0.6-0.4 1.3-0.9-7.3-1.7 5.2 5.5 0.1-1.6 0.6 0.3zM1287.1 420.6l-6.5-3.8 2.6-1.7-14.3-3.3 10.1 10.6 0.2-3.1 6.6 3.7zM1308.0 420.6l-10.8-6.2 2.6-1.8-14.2-3.3 10.0 10.6 0.2-3.1 10.8 6.2zM1328.9 420.6l-14.8-8.5 2.6-1.8-14.3-3.3 10.1 10.6 0.2-3.1 14.8 8.5zM96.1 441.5l-36.5-19.4 2.5-1.9-14.3-2.8 10.4 10.3 0.1-3.2 36.5 19.4zM117.0 441.5l-36.5-19.4 2.5-1.9-14.3-2.8 10.4 10.3 0.1-3.2 36.5 19.4zM137.9 441.5l-36.5-19.4 2.5-1.9-14.3-2.8 10.4 10.3 0.1-3.2 36.5 19.4zM158.8 441.5l-36.5-19.4 2.5-1.9-14.3-2.8 10.4 10.3 0.0-3.2 36.6 19.4zM179.7 441.5l-36.7-19.1 2.5-1.8-14.4-2.7 10.5 10.1 0.1-3.1 36.7 19.0zM200.6 441.4l-44.5-21.9 2.5-1.9-14.5-2.4 10.7 10.0 0.0-3.2 44.5 22.0zM221.4 441.4l-44.7-20.9 2.4-1.9-14.5-2.1 11.0 9.7-0.1-3.1 44.8 20.9zM242.4 441.4l-41.9-20.2 2.5-1.9-14.4-2.3 10.7 9.9 0.0-3.2 41.8 20.3zM263.3 441.4l-44.7-22.3 2.6-1.9-14.4-2.5 10.6 10.0 0.0-3.1 44.6 22.4zM284.2 441.4l-47.6-23.2 2.5-1.9-14.5-2.4 10.8 9.9-0.1-3.1 47.6 23.3zM305.0 441.4l-43.6-19.5 2.4-1.9-14.5-1.9 11.1 9.5-0.1-3.1 43.6 19.5zM325.8 441.4l-36.4-14.8 2.4-2.0-14.6-1.4 11.4 9.2-0.2-3.2 36.4 14.8zM346.7 441.4l-30.6-10.0 2.2-2.2-14.6-0.4 12.0 8.4-0.4-3.1 30.5 9.9zM367.5 441.3l-27.8-6.9 2.0-2.4-14.6 0.7 12.6 7.5-0.7-3.1 27.8 7.0zM388.2 441.3l-21.8-3.5 1.9-2.5-14.5 1.9 13.1 6.4-0.9-3.0 21.8 3.5zM409.0 441.3l-12.9-0.7 1.6-2.7-14.2 3.4 13.7 5.0-1.2-2.9 12.8 0.7zM429.7 441.3l-7.3 0.4 1.3-2.9-13.8 4.9 14.2 3.5-1.5-2.7 7.3-0.4zM450.4 441.3l-5.3 1.2 0.8-3.1-12.8 7.1 14.6 1.1-2.0-2.4 5.3-1.1zM471.1 441.4l-5.8 2.3 0.3-3.1-11.6 9.0 14.6-1.2-2.3-2.1 5.8-2.3zM491.7 441.5l-10.8 6.8-0.3-3.1-9.6 11.0 14.1-3.9-2.7-1.6 10.8-6.8zM512.4 441.7l-11.5 11.6-1.0-3.0-6.8 12.9 12.8-7.0-3.0-0.9 11.5-11.6zM533.1 442.0l-9.3 14.7-1.6-2.7-3.9 14.1 11.0-9.6-3.1-0.3 9.3-14.8zM554.0 441.9l-10.7 16.9-1.6-2.7-4.0 14.0 11.1-9.5-3.1-0.3 10.6-16.8zM574.9 441.9l-13.9 21.5-1.6-2.6-4.0 14.0 11.1-9.5-3.1-0.3 13.8-21.5zM595.8 442.0l-13.6 21.6-1.7-2.7-3.9 14.1 11.0-9.6-3.1-0.3 13.6-21.7zM616.6 442.0l-14.3 24.4-1.7-2.7-3.5 14.2 10.7-9.9-3.1-0.2 14.3-24.4zM637.5 442.0l-13.3 24.1-1.7-2.6-3.1 14.3 10.4-10.3-3.1-0.1 13.3-24.0zM658.4 442.0l-14.3 24.2-1.7-2.6-3.5 14.2 10.8-9.9-3.2-0.2 14.3-24.3zM679.3 442.0l-17.4 27.7-1.7-2.6-3.9 14.0 11.0-9.6-3.1-0.3 17.5-27.8zM700.4 441.7l-18.4 18.8-1.0-3.0-6.8 13.0 12.8-7.1-3.0-1.0 18.4-18.7zM722.1 441.3l-19.4 3.6 0.8-3.1-13.0 6.7 14.5 1.6-1.8-2.5 19.4-3.5zM743.8 441.4l-21.3-10.1 2.5-2.0-14.5-2.2 10.8 9.8 0.0-3.1 21.3 10.2zM764.8 441.5l-25.5-14.6 2.6-1.7-14.3-3.3 10.1 10.6 0.2-3.2 25.5 14.6zM785.8 441.5l-25.4-16.7 2.7-1.5-14.0-4.2 9.4 11.2 0.3-3.1 25.4 16.7zM806.6 441.5l-31.5-19.3 2.6-1.6-14.1-3.7 9.8 10.9 0.2-3.2 31.6 19.3zM827.4 441.4l-28.7-13.3 2.4-2.0-14.4-2.1 10.9 9.7-0.1-3.1 28.7 13.4zM848.1 441.4l-29.7-10.1 2.2-2.2-14.6-0.5 11.9 8.4-0.4-3.1 29.7 10.1zM868.9 441.3l-32.2-8.2 2.1-2.4-14.6 0.6 12.5 7.6-0.7-3.1 32.2 8.3zM889.7 441.3l-32.2-5.6 1.8-2.6-14.5 1.8 13.1 6.5-0.9-3.0 32.2 5.7zM910.5 441.3l-29.6-2.3 1.6-2.7-14.3 3.2 13.6 5.2-1.1-2.9 29.5 2.3zM931.2 441.3l-20.6 0.9 1.3-2.9-13.9 4.8 14.2 3.6-1.5-2.7 20.6-0.9zM951.9 441.3l-17.2 2.8 1.0-3.0-13.2 6.3 14.5 2.0-1.8-2.6 17.2-2.7zM972.7 441.3l-15.7 3.8 0.7-3.1-12.6 7.3 14.6 0.9-2.0-2.4 15.7-3.7zM993.5 441.4l-11.9 3.8 0.5-3.1-12.1 8.3 14.7-0.3-2.2-2.3 11.9-3.8zM1014.2 441.4l-5.3 2.7 0.0-3.1-10.6 10.0 14.4-2.5-2.5-1.9 5.3-2.6zM1034.8 441.6l-4.1 3.6-0.8-3.0-7.7 12.4 13.3-6.1-2.9-1.2 4.0-3.5zM1055.4 441.9l-2.9 4.5-1.6-2.7-4.3 14.0 11.3-9.3-3.1-0.4 3.0-4.5zM1076.3 442.1l-2.4 4.8-1.9-2.5-2.4 14.4 9.9-10.7-3.1 0.1 2.4-4.9zM1097.1 442.2l-1.8 5.1-2.2-2.2-0.6 14.6 8.6-11.8-3.2 0.4 1.8-5.1zM1117.9 442.3l-1.4 5.3-2.3-2.1 0.4 14.6 7.7-12.4-3.1 0.6 1.4-5.2zM1138.8 442.4l-1.2 5.2-2.4-1.9 1.0 14.5 7.2-12.7-3.1 0.8 1.3-5.3zM1159.7 442.4l-1.0 5.3-2.5-1.9 1.4 14.6 6.8-13.0-3.0 0.9 1.1-5.3zM1180.6 442.3l-1.6 5.1-2.2-2.1-0.1 14.6 8.1-12.1-3.1 0.5 1.6-5.2zM1202.2 442.4l-0.3 0.7-1.0-1.3-1.0 7.5 4.9-5.7-1.6 0.1 0.3-0.7zM1223.3 442.2l-0.6 0.5-0.4-1.6-3.8 6.5 6.7-3.3-1.5-0.6 0.6-0.5zM1244.6 442.0l-0.7 0.0 0.6-1.5-7.0 2.8 7.4 1.6-0.9-1.4 0.7-0.1zM1265.8 442.0l-0.7-0.2 1.1-1.2-7.5-0.1 6.2 4.3-0.3-1.6 0.7 0.2zM1286.9 441.4l-11.5-3.7 2.1-2.3-14.6-0.2 12.1 8.2-0.5-3.1 11.5 3.7zM1307.8 441.4l-17.2-5.5 2.2-2.3-14.6-0.2 12.1 8.2-0.5-3.1 17.1 5.5zM1328.7 441.4l-20.1-6.5 2.2-2.2-14.6-0.3 12.0 8.3-0.4-3.1 20.0 6.4zM96.1 462.3l-37.2-18.1 2.5-1.9-14.5-2.3 10.8 9.9 0.0-3.2 37.2 18.2zM117.0 462.3l-36.6-17.8 2.5-1.9-14.5-2.3 10.8 9.9 0.0-3.2 36.6 17.9zM137.9 462.3l-36.3-17.6 2.5-1.9-14.4-2.4 10.7 9.9 0.0-3.1 36.3 17.7zM158.8 462.3l-37.2-18.1 2.4-1.9-14.4-2.3 10.8 9.9-0.1-3.2 37.3 18.2zM179.7 462.3l-37.3-18.0 2.5-1.9-14.5-2.3 10.8 9.9 0.0-3.1 37.3 18.0zM200.6 462.3l-44.0-20.8 2.5-1.9-14.5-2.3 10.9 9.8-0.1-3.1 44.0 20.9zM221.4 462.3l-47.0-21.9 2.4-2.0-14.5-2.1 11.0 9.7-0.1-3.1 47.1 22.0zM242.4 462.3l-43.8-21.9 2.5-1.8-14.4-2.5 10.7 10.0 0.0-3.2 43.7 22.0zM263.3 462.4l-37.3-20.0 2.6-1.9-14.4-2.9 10.4 10.3 0.1-3.1 37.3 20.0zM284.2 462.4l-44.8-23.9 2.5-1.9-14.3-2.8 10.4 10.3 0.1-3.2 44.8 23.9zM305.0 462.3l-47.5-23.2 2.5-1.9-14.5-2.4 10.8 9.9-0.1-3.1 47.6 23.3zM325.9 462.3l-44.0-19.6 2.4-2.0-14.5-1.9 11.1 9.5-0.2-3.1 44.1 19.7zM346.7 462.3l-36.9-13.5 2.3-2.2-14.6-0.8 11.7 8.7-0.4-3.1 36.9 13.5zM367.5 462.3l-29.6-8.6 2.1-2.3-14.6 0.2 12.3 7.9-0.6-3.1 29.6 8.5zM388.3 462.2l-30.3-5.9 1.9-2.5-14.5 1.4 12.9 6.9-0.8-3.1 30.2 6.0zM409.0 462.2l-22.4-2.0 1.7-2.6-14.3 2.9 13.5 5.4-1.1-2.9 22.4 2.0zM429.8 462.2l-13.6 0.2 1.4-2.8-14.0 4.4 14.1 4.0-1.4-2.8 13.5-0.2zM450.5 462.2l-7.8 1.3 1.0-3.0-13.2 6.4 14.5 1.9-1.8-2.6 7.7-1.2zM471.2 462.3l-6.6 2.1 0.5-3.1-12.0 8.2 14.6-0.2-2.2-2.3 6.5-2.1zM491.8 462.4l-6.0 3.2-0.1-3.1-10.3 10.4 14.3-3.0-2.6-1.8 6.0-3.3zM512.4 462.6l-10.5 9.6-0.9-3.0-7.4 12.6 13.1-6.4-2.9-1.1 10.5-9.7zM533.1 462.8l-9.7 14.4-1.6-2.7-4.3 14.0 11.3-9.3-3.1-0.4 9.7-14.4zM554.0 462.8l-9.7 15.0-1.6-2.7-4.0 14.1 11.1-9.5-3.1-0.3 9.6-15.0zM574.9 462.9l-9.9 16.0-1.7-2.6-3.7 14.1 10.9-9.7-3.1-0.3 9.8-16.1zM595.7 462.9l-9.2 16.4-1.7-2.6-3.2 14.3 10.5-10.1-3.1-0.2 9.2-16.4zM616.6 463.0l-11.6 23.7-1.9-2.5-2.4 14.4 10.0-10.7-3.2 0.0 11.6-23.7zM637.4 463.1l-9.0 21.4-2.0-2.4-1.6 14.5 9.3-11.2-3.1 0.2 9.0-21.5zM658.4 463.0l-7.7 15.6-1.9-2.5-2.4 14.4 9.9-10.7-3.1 0.0 7.7-15.6zM679.3 462.9l-8.5 15.2-1.8-2.6-3.2 14.2 10.5-10.1-3.1-0.2 8.5-15.1zM700.3 462.7l-11.1 13.4-1.3-2.9-5.7 13.4 12.2-8.0-3.1-0.7 11.2-13.4zM721.6 462.4l-15.2 8.5-0.1-3.1-10.2 10.5 14.3-3.2-2.6-1.8 15.2-8.5zM743.0 462.2l-23.4 3.1 1.0-2.9-13.3 6.0 14.4 2.3-1.7-2.6 23.4-3.1zM764.3 462.2l-29.3-3.2 1.7-2.6-14.3 2.6 13.4 5.7-1.1-2.9 29.2 3.2zM785.5 462.3l-27.8-9.7 2.2-2.2-14.6-0.6 11.9 8.5-0.4-3.1 27.7 9.7zM806.4 462.3l-27.2-11.1 2.3-2.1-14.5-1.3 11.4 9.1-0.3-3.1 27.3 11.1zM827.2 462.3l-28.1-8.8 2.2-2.3-14.6-0.2 12.1 8.2-0.5-3.1 28.1 8.8zM848.0 462.2l-34.8-7.8 1.9-2.5-14.5 1.0 12.7 7.2-0.8-3.0 34.9 7.9zM868.8 462.2l-40.8-7.2 1.9-2.5-14.5 1.7 13.0 6.6-0.8-3.0 40.7 7.2zM889.6 462.2l-39.5-5.0 1.7-2.6-14.4 2.4 13.4 5.9-1.1-2.9 39.6 5.0zM910.5 462.2l-30.2-2.1 1.6-2.7-14.3 3.2 13.7 5.1-1.2-2.9 30.2 2.2zM931.3 462.2l-20.7-0.2 1.5-2.8-14.1 4.1 14.0 4.3-1.4-2.8 20.6 0.2zM952.1 462.2l-17.4 0.9 1.2-2.9-13.7 4.9 14.2 3.5-1.6-2.7 17.4-0.9zM972.9 462.2l-13.8 1.4 1.1-2.9-13.5 5.5 14.3 2.8-1.6-2.6 13.8-1.4zM993.7 462.2l-6.7 1.0 0.9-3.0-13.2 6.2 14.5 2.2-1.8-2.6 6.7-1.0zM1014.5 462.2l-6.6 1.7 0.6-3.1-12.5 7.5 14.6 0.7-2.1-2.4 6.7-1.6zM1035.2 462.3l-5.4 2.2 0.3-3.1-11.4 9.1 14.5-1.4-2.3-2.0 5.3-2.2zM1055.9 462.4l-4.6 2.8-0.3-3.2-9.8 10.8 14.1-3.5-2.6-1.7 4.6-2.8zM1076.6 462.6l-4.0 3.6-0.9-3.1-7.6 12.5 13.2-6.2-2.9-1.2 4.0-3.6zM1097.8 463.2l-0.4 0.5-0.7-1.4-2.7 7.0 6.1-4.4-1.6-0.3 0.5-0.6zM1118.7 463.2l-0.4 0.7-0.9-1.4-1.8 7.3 5.6-5.1-1.7-0.1 0.4-0.6zM1139.6 463.3l-0.4 0.6-0.9-1.3-1.4 7.4 5.2-5.4-1.6 0.0 0.3-0.7zM1160.4 463.3l-0.3 0.7-1.0-1.3-1.0 7.4 4.9-5.6-1.6 0.1 0.3-0.7zM1181.4 463.1l-0.4 0.6-0.7-1.5-3.0 6.9 6.3-4.1-1.5-0.4 0.4-0.5zM1202.5 463.0l-0.6 0.4-0.1-1.7-5.1 5.6 7.3-1.8-1.4-0.9 0.6-0.4zM1223.6 462.9l-0.7 0.2 0.3-1.6-6.4 4.1 7.6 0.1-1.1-1.2 0.7-0.2zM1244.6 462.9l-0.7 0.0 0.6-1.5-7.0 2.7 7.3 1.7-0.8-1.4 0.7-0.1zM1265.7 462.2l-13.4-1.3 1.7-2.7-14.4 2.9 13.6 5.5-1.2-2.9 13.4 1.3zM1286.6 462.2l-18.8-1.8 1.7-2.7-14.3 2.8 13.5 5.6-1.1-2.9 18.7 1.8zM1307.5 462.2l-20.4-2.0 1.7-2.6-14.4 2.8 13.6 5.5-1.2-2.9 20.4 2.0zM1328.4 462.2l-28.8-2.8 1.7-2.7-14.4 2.9 13.5 5.5-1.1-2.9 28.8 2.8zM96.1 483.2l-37.9-16.8 2.4-2.0-14.5-1.8 11.1 9.5-0.1-3.1 37.8 16.8zM117.0 483.2l-33.0-14.6 2.4-2.0-14.5-1.9 11.1 9.6-0.2-3.2 33.0 14.7zM137.8 483.2l-30.5-13.6 2.4-1.9-14.5-1.9 11.1 9.5-0.2-3.1 30.6 13.6zM158.7 483.2l-37.8-16.8 2.4-2.0-14.5-1.8 11.1 9.5-0.1-3.1 37.8 16.8zM179.6 483.2l-37.8-16.8 2.4-2.0-14.5-1.8 11.1 9.5-0.1-3.1 37.8 16.8zM200.5 483.2l-38.4-17.0 2.4-2.0-14.5-1.9 11.1 9.5-0.1-3.1 38.4 17.1zM221.4 483.2l-38.7-17.2 2.4-2.0-14.5-1.8 11.1 9.5-0.1-3.1 38.7 17.2zM242.4 483.2l-38.0-18.1 2.4-1.9-14.4-2.2 10.8 9.8 0.0-3.2 37.9 18.2zM263.3 483.3l-37.0-18.9 2.6-1.9-14.4-2.6 10.5 10.1 0.1-3.1 36.9 18.8zM284.2 483.3l-37.6-19.3 2.5-1.9-14.4-2.6 10.6 10.1 0.0-3.1 37.6 19.2zM305.0 483.2l-45.1-21.5 2.5-1.9-14.4-2.3 10.8 9.8-0.1-3.1 45.1 21.6zM325.9 483.2l-48.4-21.5 2.4-2.0-14.5-1.8 11.1 9.5-0.1-3.1 48.4 21.5zM346.7 483.2l-46.0-16.7 2.3-2.2-14.6-0.8 11.7 8.7-0.3-3.1 45.9 16.7zM367.5 483.2l-38.9-11.2 2.1-2.3-14.6 0.2 12.3 7.9-0.6-3.1 38.9 11.1zM388.3 483.1l-39.7-8.0 2.0-2.4-14.6 1.3 12.9 6.9-0.8-3.0 39.6 8.0zM409.1 483.1l-31.9-3.5 1.7-2.6-14.4 2.7 13.4 5.7-1.0-3.0 31.8 3.5zM429.8 483.1l-27.9-0.5 1.4-2.8-14.1 4.0 13.9 4.4-1.3-2.8 28.0 0.5zM450.5 483.1l-24.0 2.6 1.1-3.0-13.5 5.7 14.4 2.7-1.7-2.6 24.0-2.6zM471.3 483.1l-16.0 3.8 0.7-3.0-12.7 7.3 14.6 0.9-2.0-2.5 16.0-3.7zM491.9 483.2l-15.0 6.8 0.1-3.1-11.0 9.6 14.5-1.9-2.4-2.0 15.0-6.8zM512.5 483.4l-13.0 11.2-0.8-3.0-7.9 12.3 13.4-6.0-2.9-1.2 13.0-11.1zM533.1 483.7l-9.7 14.5-1.6-2.8-4.3 14.0 11.3-9.3-3.1-0.4 9.7-14.4zM554.0 483.8l-11.0 17.6-1.7-2.7-3.8 14.1 11.0-9.6-3.1-0.3 10.9-17.7zM574.8 483.8l-14.2 24.7-1.7-2.7-3.3 14.3 10.6-10.1-3.1-0.1 14.2-24.7zM595.7 483.9l-13.0 25.3-1.8-2.5-2.7 14.3 10.2-10.5-3.2 0.0 13.0-25.4zM616.6 483.9l-11.7 26.7-2.0-2.4-1.7 14.6 9.4-11.2-3.1 0.2 11.6-26.7zM637.4 484.0l-8.0 21.9-2.1-2.3-0.9 14.6 8.8-11.7-3.1 0.3 7.9-21.8zM658.3 483.9l-6.9 16.0-2.0-2.4-1.8 14.5 9.5-11.2-3.2 0.2 7.0-15.9zM679.3 483.9l-8.0 15.4-1.8-2.5-2.7 14.4 10.1-10.6-3.1 0.0 8.0-15.5zM700.3 483.7l-10.5 13.8-1.4-2.8-5.1 13.7 11.8-8.6-3.1-0.6 10.5-13.9zM721.5 483.4l-14.1 10.2-0.5-3.1-8.9 11.6 13.8-4.8-2.8-1.5 14.1-10.2zM742.7 483.2l-22.2 7.9 0.4-3.1-11.8 8.7 14.6-0.8-2.3-2.1 22.3-8.0zM764.0 483.1l-29.3 2.4 1.2-2.9-13.7 5.3 14.3 3.0-1.6-2.6 29.3-2.4zM785.3 483.1l-28.9-5.6 1.9-2.5-14.5 1.5 12.9 6.8-0.8-3.0 28.8 5.6zM806.3 483.2l-28.3-8.2 2.1-2.3-14.6 0.2 12.3 7.9-0.6-3.1 28.3 8.1zM827.1 483.1l-28.7-6.3 1.9-2.4-14.5 1.1 12.7 7.1-0.7-3.1 28.7 6.4zM847.9 483.1l-35.3-5.5 1.8-2.6-14.4 2.0 13.1 6.3-0.9-2.9 35.3 5.5zM868.7 483.1l-41.0-5.1 1.7-2.6-14.4 2.5 13.4 5.9-1.1-3.0 41.1 5.1zM889.6 483.1l-39.7-3.6 1.6-2.7-14.3 2.9 13.6 5.5-1.2-2.9 39.7 3.6zM910.4 483.1l-30.2-1.8 1.6-2.7-14.2 3.3 13.7 5.1-1.2-2.9 30.2 1.8zM931.3 483.1l-20.6-0.6 1.4-2.8-14.1 3.8 13.9 4.6-1.3-2.8 20.6 0.6zM952.1 483.1l-17.4 0.0 1.4-2.8-14.0 4.2 14.0 4.2-1.4-2.8 17.4 0.0zM973.0 483.1l-17.1 0.5 1.3-2.8-13.8 4.6 14.1 3.7-1.5-2.7 17.1-0.5zM993.9 483.1l-16.5 0.9 1.3-2.8-13.8 4.9 14.2 3.4-1.5-2.7 16.4-0.9zM1014.7 483.1l-16.4 1.9 1.1-2.9-13.4 5.8 14.4 2.5-1.7-2.6 16.3-1.9zM1035.4 483.1l-8.1 1.7 0.8-3.0-12.8 7.0 14.5 1.2-1.9-2.4 8.1-1.7zM1056.2 483.2l-5.2 1.6 0.5-3.1-12.1 8.2 14.6-0.2-2.1-2.3 5.1-1.6zM1076.9 483.3l-4.8 2.5-0.1-3.2-10.4 10.2 14.3-2.7-2.5-1.9 4.8-2.5zM1098.0 483.9l-0.6 0.5-0.3-1.6-4.4 6.1 7.0-2.7-1.4-0.7 0.5-0.4zM1118.8 484.0l-0.5 0.5-0.5-1.5-3.6 6.6 6.6-3.6-1.5-0.5 0.5-0.5zM1139.7 484.0l-0.5 0.6-0.6-1.5-3.2 6.7 6.4-3.9-1.6-0.4 0.5-0.5zM1160.5 484.0l-0.4 0.6-0.7-1.5-2.9 6.9 6.2-4.1-1.5-0.4 0.4-0.5zM1181.6 483.9l-0.6 0.4-0.2-1.6-4.9 5.7 7.2-2.1-1.3-0.8 0.6-0.4zM1202.7 483.8l-0.7 0.2 0.3-1.6-6.4 4.0 7.6 0.2-1.1-1.2 0.7-0.2zM1223.6 483.1l-15.8 2.1 1.1-2.9-13.4 6.0 14.5 2.3-1.8-2.6 15.8-2.1zM1244.5 483.1l-16.3 1.5 1.1-2.9-13.6 5.5 14.4 2.9-1.7-2.7 16.4-1.5zM1265.5 483.1l-23.0 1.3 1.2-2.9-13.8 5.0 14.3 3.4-1.6-2.7 23.0-1.3zM1286.4 483.1l-28.4 1.8 1.2-2.9-13.7 5.1 14.2 3.3-1.6-2.7 28.4-1.8zM1307.2 483.1l-28.5 2.0 1.2-2.9-13.7 5.2 14.3 3.2-1.6-2.7 28.5-2.0zM1328.1 483.1l-29.2 2.1 1.1-2.9-13.6 5.2 14.3 3.2-1.6-2.7 29.2-2.1zM96.0 504.1l-38.4-15.5 2.4-2.0-14.6-1.4 11.4 9.1-0.2-3.1 38.4 15.5zM116.9 504.1l-36.9-14.9 2.3-2.0-14.5-1.4 11.4 9.1-0.3-3.1 37.0 14.9zM137.8 504.1l-36.2-14.6 2.4-2.0-14.6-1.4 11.4 9.1-0.2-3.1 36.2 14.6zM158.7 504.1l-37.7-15.2 2.3-2.1-14.6-1.3 11.5 9.1-0.3-3.1 37.7 15.2zM179.6 504.1l-31.3-12.6 2.3-2.1-14.5-1.3 11.4 9.1-0.3-3.1 31.3 12.6zM200.5 504.1l-35.9-14.4 2.4-2.1-14.6-1.4 11.4 9.2-0.2-3.2 35.8 14.5zM221.4 504.1l-38.4-15.5 2.3-2.0-14.5-1.4 11.4 9.1-0.3-3.1 38.4 15.5zM242.3 504.1l-38.2-16.0 2.4-2.0-14.6-1.5 11.3 9.2-0.2-3.1 38.2 16.0zM263.2 504.1l-38.0-16.5 2.4-2.0-14.5-1.7 11.2 9.4-0.2-3.1 38.0 16.5zM284.1 504.1l-38.0-16.5 2.4-2.0-14.5-1.7 11.2 9.4-0.2-3.1 38.0 16.5zM305.0 504.1l-45.9-19.2 2.4-2.0-14.5-1.6 11.3 9.3-0.2-3.1 45.8 19.2zM325.8 504.1l-49.5-20.0 2.4-2.0-14.6-1.4 11.4 9.2-0.2-3.2 49.5 20.0zM346.7 504.1l-47.5-15.4 2.2-2.3-14.6-0.3 12.0 8.3-0.5-3.1 47.5 15.4zM367.4 504.0l-40.1-9.9 2.0-2.4-14.6 0.7 12.6 7.4-0.7-3.0 40.2 10.0zM388.3 504.0l-40.8-7.3 1.9-2.5-14.5 1.6 13.0 6.7-0.9-3.0 40.8 7.3zM409.1 504.0l-32.8-3.8 1.7-2.6-14.4 2.5 13.4 5.8-1.1-2.9 32.8 3.8zM429.9 504.0l-29.4-1.6 1.6-2.7-14.2 3.5 13.7 4.9-1.2-2.9 29.3 1.6zM450.6 504.0l-28.3 1.2 1.2-2.8-13.8 4.8 14.2 3.6-1.5-2.8 28.3-1.2zM471.4 504.0l-25.0 3.5 1.0-2.9-13.2 6.1 14.4 2.2-1.8-2.6 25.0-3.5zM492.0 504.1l-17.2 6.2 0.4-3.1-11.7 8.7 14.6-0.8-2.3-2.2 17.2-6.2zM512.5 504.3l-18.1 15.0-0.7-3.0-8.1 12.1 13.4-5.7-2.8-1.2 18.1-15.0zM533.1 504.7l-11.5 18.4-1.6-2.7-3.9 14.1 11.0-9.7-3.1-0.3 11.5-18.4zM553.9 504.7l-10.5 18.3-1.7-2.6-3.3 14.2 10.6-10.0-3.1-0.2 10.5-18.3zM574.8 504.7l-13.8 26.0-1.8-2.5-2.8 14.3 10.3-10.4-3.2-0.1 13.8-25.9zM595.7 504.8l-12.7 26.5-1.9-2.4-2.3 14.4 9.9-10.8-3.2 0.0 12.7-26.5zM616.5 504.9l-8.9 21.4-2.1-2.4-1.5 14.6 9.3-11.3-3.2 0.2 9.0-21.5zM637.4 504.9l-6.5 17.9-2.2-2.3-0.8 14.6 8.7-11.7-3.1 0.4 6.5-17.9zM658.3 504.9l-7.8 18.5-2.0-2.4-1.6 14.6 9.3-11.3-3.1 0.2 7.8-18.6zM679.3 504.8l-10.9 22.6-1.9-2.5-2.3 14.5 9.9-10.8-3.2 0.0 10.9-22.6zM700.3 504.6l-10.6 14.7-1.4-2.7-4.7 13.8 11.5-8.9-3.1-0.5 10.6-14.8zM721.5 504.3l-14.0 10.4-0.5-3.1-8.8 11.7 13.8-5.0-2.8-1.4 13.9-10.4zM742.7 504.1l-18.0 6.4 0.4-3.1-11.8 8.7 14.6-0.8-2.2-2.1 18.0-6.5zM763.9 504.0l-23.3 2.6 1.1-3.0-13.5 5.7 14.4 2.7-1.7-2.7 23.3-2.5zM785.2 504.0l-30.2-4.0 1.8-2.6-14.5 2.3 13.3 6.0-1.0-3.0 30.2 4.1zM806.2 504.0l-36.5-8.0 1.9-2.4-14.5 1.0 12.7 7.2-0.7-3.1 36.5 8.1zM827.0 504.0l-37.5-6.4 1.8-2.5-14.5 1.8 13.1 6.5-0.9-3.0 37.5 6.4zM847.8 504.0l-39.5-4.8 1.7-2.6-14.4 2.5 13.4 5.9-1.0-3.0 39.5 4.8zM868.7 504.0l-41.2-3.9 1.6-2.6-14.3 2.8 13.6 5.5-1.2-2.9 41.2 3.9zM889.6 504.0l-39.8-2.7 1.6-2.7-14.3 3.3 13.7 5.1-1.2-2.9 39.8 2.7zM910.4 504.0l-30.2-1.3 1.5-2.7-14.2 3.5 13.8 4.8-1.2-2.8 30.2 1.3zM931.3 504.0l-27.0-0.6 1.5-2.7-14.1 3.9 13.9 4.5-1.3-2.9 26.9 0.6zM952.1 504.0l-26.0 0.0 1.4-2.8-14.0 4.2 14.0 4.2-1.4-2.8 26.0 0.0zM973.0 504.0l-26.0 0.4 1.3-2.9-13.9 4.4 14.0 4.0-1.4-2.7 26.1-0.4zM993.9 504.0l-24.9 0.7 1.3-2.8-13.9 4.5 14.2 3.8-1.5-2.7 24.9-0.7zM1014.7 504.0l-17.9 1.2 1.2-2.9-13.7 5.2 14.3 3.2-1.6-2.7 17.9-1.2zM1035.5 504.0l-8.4 1.1 1.0-2.9-13.4 5.9 14.5 2.4-1.8-2.6 8.5-1.1zM1056.3 504.0l-5.3 1.1 0.9-3.0-12.9 6.8 14.5 1.4-1.9-2.5 5.3-1.0zM1077.1 504.1l-5.2 1.6 0.5-3.1-12.0 8.4 14.6-0.4-2.2-2.2 5.1-1.7zM1097.8 504.1l-4.9 2.3 0.1-3.1-10.9 9.8 14.5-2.2-2.5-1.9 4.9-2.3zM1118.6 504.2l-4.7 2.6-0.1-3.1-10.2 10.5 14.3-3.2-2.6-1.7 4.7-2.7zM1139.5 504.2l-10.2 6.1-0.2-3.2-9.9 10.8 14.2-3.5-2.7-1.7 10.2-6.1zM1160.3 504.2l-11.9 7.4-0.3-3.1-9.7 10.9 14.1-3.8-2.7-1.6 12.0-7.4zM1181.5 504.1l-13.1 5.1 0.3-3.2-11.6 9.0 14.6-1.1-2.3-2.1 13.1-5.1zM1202.6 504.0l-14.3 2.8 0.9-3.0-13.0 6.8 14.6 1.4-1.9-2.4 14.2-2.8zM1223.6 504.0l-17.1 2.2 1.0-2.9-13.3 6.0 14.4 2.3-1.7-2.6 17.0-2.2zM1244.5 504.0l-23.7 3.5 1.0-3.0-13.2 6.2 14.4 2.1-1.8-2.6 23.7-3.4zM1265.3 504.0l-27.5 4.5 0.9-3.0-13.1 6.4 14.5 1.9-1.9-2.5 27.6-4.5zM1286.2 504.0l-28.9 5.4 0.9-3.0-13.1 6.6 14.6 1.6-1.9-2.5 28.9-5.3zM1307.1 504.0l-30.1 6.3 0.8-3.1-12.9 7.0 14.6 1.3-2.0-2.5 30.1-6.2zM1327.9 504.0l-36.8 8.0 0.8-3.0-12.8 7.1 14.6 1.1-2.0-2.4 36.8-8.0zM96.0 525.0l-38.9-14.3 2.3-2.1-14.6-0.9 11.7 8.8-0.4-3.1 38.9 14.2zM116.9 525.0l-38.9-14.3 2.3-2.1-14.6-0.9 11.7 8.8-0.4-3.1 38.9 14.2zM137.8 525.0l-38.9-14.3 2.3-2.1-14.6-0.9 11.7 8.8-0.4-3.1 38.9 14.2zM158.7 525.0l-38.0-13.9 2.3-2.2-14.6-0.8 11.7 8.7-0.4-3.1 38.0 13.9zM179.5 525.0l-28.9-10.6 2.3-2.2-14.6-0.8 11.7 8.7-0.3-3.1 28.9 10.6zM200.4 525.0l-35.3-13.0 2.3-2.1-14.6-0.9 11.7 8.8-0.3-3.1 35.3 12.9zM221.3 525.0l-38.8-14.3 2.2-2.1-14.6-0.9 11.7 8.8-0.3-3.1 38.9 14.2zM242.2 525.0l-38.9-14.2 2.3-2.2-14.6-0.9 11.7 8.8-0.3-3.1 38.9 14.2zM263.1 525.0l-38.9-14.2 2.3-2.2-14.6-0.8 11.7 8.7-0.3-3.1 38.9 14.2zM284.0 525.0l-38.9-14.2 2.3-2.2-14.6-0.8 11.7 8.7-0.3-3.1 38.9 14.2zM304.9 525.0l-46.7-17.0 2.3-2.2-14.6-0.8 11.7 8.7-0.3-3.1 46.7 17.0zM325.8 525.0l-50.2-18.3 2.3-2.1-14.6-0.9 11.7 8.8-0.3-3.1 50.1 18.2zM346.6 525.0l-47.9-13.8 2.1-2.3-14.6 0.1 12.3 7.9-0.6-3.1 47.9 13.8zM367.4 524.9l-39.9-8.5 2.0-2.4-14.6 1.1 12.8 7.1-0.8-3.1 39.9 8.6zM388.2 524.9l-35.3-5.6 1.8-2.6-14.5 2.0 13.2 6.3-0.9-3.0 35.3 5.7zM409.1 524.9l-35.3-4.4 1.8-2.6-14.4 2.5 13.3 5.9-1.0-3.0 35.2 4.4zM429.9 524.9l-35.5-3.1 1.6-2.7-14.3 2.9 13.6 5.5-1.2-3.0 35.6 3.2zM450.7 524.9l-33.8-0.6 1.5-2.8-14.1 3.9 13.9 4.5-1.3-2.8 33.8 0.6zM471.5 524.9l-29.4 1.5 1.2-2.9-13.7 4.9 14.2 3.5-1.6-2.7 29.5-1.5zM492.1 524.9l-28.9 7.8 0.7-3.1-12.5 7.7 14.6 0.5-2.0-2.4 28.8-7.7zM512.5 525.2l-23.2 18.3-0.7-3.1-8.4 12.0 13.6-5.4-2.8-1.3 23.2-18.3zM533.1 525.6l-13.5 22.9-1.7-2.7-3.4 14.2 10.7-9.9-3.1-0.2 13.4-22.9zM553.9 525.6l-11.2 20.7-1.8-2.6-2.9 14.4 10.3-10.4-3.1-0.1 11.2-20.6zM574.8 525.7l-10.3 20.7-1.9-2.5-2.4 14.4 10.0-10.7-3.2 0.0 10.3-20.7zM595.7 525.7l-9.6 21.1-2.0-2.5-1.9 14.5 9.6-11.0-3.1 0.1 9.5-21.0zM616.5 525.8l-7.2 17.6-2.1-2.4-1.4 14.6 9.2-11.4-3.1 0.3 7.2-17.7zM637.4 525.8l-6.0 16.3-2.2-2.3-0.9 14.6 8.8-11.6-3.1 0.3 6.0-16.3zM658.3 525.8l-7.3 17.7-2.0-2.3-1.5 14.5 9.2-11.3-3.1 0.2 7.3-17.8zM679.2 525.7l-9.2 20.5-2.0-2.4-1.9 14.5 9.6-11.1-3.1 0.2 9.2-20.5zM700.3 525.5l-10.1 14.8-1.5-2.7-4.3 14.0 11.3-9.3-3.1-0.4 10.0-14.8zM721.5 525.2l-13.9 10.6-0.5-3.1-8.6 11.8 13.7-5.1-2.9-1.4 13.9-10.6zM742.7 525.0l-16.3 5.9 0.3-3.1-11.7 8.7 14.6-0.8-2.3-2.1 16.4-6.0zM763.9 524.9l-21.0 2.9 1.0-2.9-13.3 6.1 14.4 2.2-1.7-2.6 21.0-2.9zM785.1 524.9l-30.8-2.3 1.6-2.7-14.2 3.1 13.6 5.3-1.2-2.9 30.8 2.3zM806.1 524.9l-40.0-6.2 1.8-2.6-14.5 2.0 13.2 6.3-0.9-2.9 40.0 6.2zM826.9 524.9l-41.1-4.9 1.8-2.7-14.4 2.5 13.4 5.9-1.1-3.0 41.1 5.0zM847.8 524.9l-44.5-3.8 1.6-2.7-14.3 3.0 13.6 5.4-1.2-2.9 44.6 3.8zM868.7 524.9l-45.6-3.0 1.6-2.7-14.2 3.3 13.7 5.1-1.3-2.9 45.6 3.0zM889.5 524.9l-40.6-1.8 1.5-2.7-14.2 3.5 13.8 4.9-1.2-2.9 40.6 1.8zM910.4 524.9l-36.1-1.0 1.5-2.7-14.1 3.8 13.9 4.6-1.4-2.9 36.1 1.0zM931.3 524.9l-31.1-0.4 1.4-2.8-14.0 4.0 13.9 4.4-1.4-2.8 31.1 0.4zM952.1 524.9l-29.4 0.0 1.4-2.8-14.0 4.2 14.0 4.2-1.4-2.8 29.4 0.0zM973.0 524.9l-29.4 0.0 1.4-2.8-14.0 4.2 14.0 4.2-1.4-2.8 29.4 0.0zM993.9 524.9l-28.6 0.0 1.4-2.8-14.0 4.2 14.0 4.2-1.4-2.8 28.6 0.0zM1014.8 524.9l-24.0 0.5 1.3-2.9-13.9 4.5 14.1 3.9-1.5-2.7 24.1-0.5zM1035.6 524.9l-14.8 0.8 1.3-2.9-13.8 5.0 14.2 3.4-1.5-2.7 14.8-0.8zM1056.5 524.9l-11.6 1.1 1.1-3.0-13.6 5.5 14.4 2.9-1.7-2.7 11.6-1.0zM1077.3 524.9l-11.5 1.9 0.9-3.0-13.2 6.4 14.5 1.9-1.8-2.6 11.5-1.8zM1098.1 524.9l-11.4 2.7 0.7-3.1-12.6 7.3 14.5 0.9-2.0-2.4 11.4-2.6zM1118.9 524.9l-11.2 3.0 0.6-3.0-12.5 7.6 14.6 0.5-2.0-2.3 11.3-3.0zM1139.8 524.9l-15.4 4.1 0.7-3.0-12.5 7.6 14.6 0.5-2.0-2.3 15.4-4.1zM1160.7 524.9l-16.8 4.5 0.6-3.1-12.4 7.6 14.6 0.5-2.1-2.3 16.8-4.4zM1181.7 524.9l-19.2 3.7 0.8-3.0-12.9 6.7 14.5 1.5-1.9-2.5 19.2-3.6zM1202.7 524.9l-23.5 2.8 1.1-2.9-13.4 5.8 14.4 2.5-1.8-2.6 23.5-2.8zM1223.6 524.9l-23.5 3.0 1.0-2.9-13.3 5.9 14.4 2.4-1.7-2.6 23.4-3.0zM1244.4 524.9l-27.4 5.5 0.8-3.0-12.9 6.8 14.5 1.4-1.9-2.4 27.4-5.5zM1265.2 524.9l-28.4 7.7 0.6-3.0-12.4 7.7 14.6 0.4-2.1-2.4 28.4-7.6zM1286.0 525.0l-30.2 9.3 0.5-3.1-12.1 8.1 14.6-0.1-2.2-2.3 30.3-9.3zM1306.9 525.0l-34.6 11.9 0.4-3.1-11.8 8.6 14.6-0.6-2.2-2.2 34.5-12.0zM1327.8 525.0l-38.7 14.0 0.4-3.1-11.8 8.8 14.6-0.9-2.3-2.1 38.7-14.1zM96.1 545.9l-37.8-16.9 2.4-2.0-14.5-1.9 11.1 9.6-0.2-3.1 37.8 16.9zM117.0 545.9l-37.8-16.9 2.4-2.0-14.5-1.9 11.1 9.6-0.2-3.1 37.8 16.9zM137.9 545.9l-37.8-16.9 2.4-2.0-14.5-1.9 11.1 9.6-0.2-3.1 37.8 16.9zM158.7 545.9l-37.1-16.6 2.4-2.0-14.5-1.9 11.1 9.6-0.2-3.2 37.2 16.7zM179.6 545.9l-31.2-14.0 2.4-2.0-14.5-1.8 11.1 9.5-0.2-3.1 31.3 14.0zM200.5 545.9l-35.4-15.9 2.4-1.9-14.5-1.9 11.1 9.5-0.2-3.1 35.5 15.9zM221.4 545.9l-37.8-16.9 2.5-2.0-14.5-1.9 11.0 9.6-0.1-3.1 37.8 16.9zM242.3 545.9l-38.0-16.4 2.4-2.0-14.5-1.7 11.2 9.4-0.2-3.1 38.0 16.4zM263.2 545.9l-38.3-15.8 2.4-2.1-14.6-1.5 11.4 9.3-0.2-3.1 38.2 15.8zM284.1 545.9l-38.5-15.3 2.3-2.1-14.6-1.2 11.5 9.0-0.3-3.1 38.5 15.3zM304.9 545.9l-43.9-16.7 2.3-2.1-14.6-1.1 11.6 8.9-0.3-3.1 43.9 16.7zM325.8 545.9l-46.5-17.0 2.3-2.1-14.6-0.8 11.7 8.7-0.4-3.1 46.5 16.9zM346.6 545.9l-45.1-13.7 2.2-2.3-14.6 0.0 12.1 8.1-0.5-3.1 45.1 13.6zM367.4 545.8l-39.4-9.6 2.0-2.4-14.6 0.8 12.6 7.4-0.7-3.0 39.5 9.6zM388.3 545.8l-33.5-6.5 1.9-2.5-14.6 1.4 13.0 6.8-0.9-3.0 33.5 6.6zM409.1 545.8l-38.4-6.1 1.8-2.6-14.5 2.0 13.2 6.3-1.0-3.0 38.5 6.2zM430.0 545.8l-39.2-4.8 1.7-2.6-14.4 2.4 13.4 5.9-1.0-3.0 39.1 4.9zM450.8 545.8l-35.0-2.4 1.6-2.7-14.3 3.3 13.7 5.1-1.2-2.9 35.0 2.4zM471.6 545.8l-30.2-0.4 1.4-2.8-14.0 4.1 13.9 4.3-1.4-2.8 30.3 0.4zM492.3 545.8l-36.3 5.6 0.9-3.0-13.2 6.3 14.5 2.0-1.8-2.5 36.3-5.6zM512.8 545.9l-28.6 14.1 0.0-3.1-10.7 9.9 14.5-2.4-2.5-1.9 28.5-14.0zM533.3 546.2l-21.3 20.3-0.9-3.0-7.2 12.7 13.0-6.6-2.9-1.1 21.2-20.3zM554.2 546.2l-18.8 19.3-1.1-3.0-6.8 13.0 12.8-7.1-2.9-1.0 18.8-19.2zM575.0 546.3l-14.3 15.7-1.1-2.9-6.4 13.2 12.6-7.6-3.0-0.8 14.3-15.8zM595.9 546.3l-13.7 16.3-1.2-2.8-5.8 13.4 12.2-8.0-3.0-0.8 13.6-16.3zM616.7 546.4l-11.1 14.7-1.4-2.8-5.1 13.7 11.8-8.6-3.1-0.6 11.2-14.8zM637.6 546.4l-9.8 14.4-1.6-2.8-4.4 14.0 11.4-9.2-3.1-0.4 9.8-14.4zM658.5 546.4l-10.4 15.5-1.6-2.7-4.3 13.9 11.3-9.3-3.1-0.4 10.4-15.4zM679.4 546.4l-11.8 17.8-1.5-2.7-4.3 14.0 11.3-9.4-3.1-0.4 11.7-17.7zM700.3 546.3l-13.4 16.6-1.3-2.9-5.5 13.5 12.0-8.2-3.0-0.7 13.4-16.5zM721.4 546.1l-16.4 13.5-0.7-3.0-8.2 12.1 13.5-5.6-2.9-1.3 16.5-13.5zM742.5 546.0l-18.8 9.9 0.0-3.1-10.4 10.3 14.3-2.9-2.6-1.8 18.9-10.0zM763.8 545.8l-22.0 5.6 0.7-3.0-12.6 7.5 14.6 0.6-2.0-2.4 21.9-5.5zM785.0 545.8l-27.0 0.2 1.4-2.9-14.0 4.3 14.1 4.1-1.5-2.7 27.0-0.2zM806.0 545.8l-36.4-3.5 1.7-2.6-14.4 2.8 13.6 5.6-1.2-3.0 36.5 3.5zM826.9 545.8l-40.2-3.2 1.6-2.7-14.3 3.1 13.6 5.3-1.1-2.9 40.2 3.2zM847.8 545.8l-45.6-3.0 1.6-2.7-14.3 3.3 13.7 5.1-1.2-2.9 45.6 3.0zM868.6 545.8l-46.8-2.2 1.6-2.7-14.2 3.5 13.8 4.9-1.3-2.9 46.8 2.2zM889.5 545.8l-40.9-1.2 1.5-2.7-14.1 3.8 13.9 4.6-1.4-2.9 40.9 1.2zM910.4 545.8l-37.8-0.7 1.5-2.8-14.1 3.9 13.9 4.5-1.3-2.8 37.7 0.7zM931.3 545.8l-34.5-0.6 1.5-2.8-14.1 4.0 14.0 4.4-1.4-2.8 34.4 0.6zM952.2 545.8l-33.3-0.5 1.4-2.8-14.0 4.1 13.9 4.3-1.4-2.8 33.3 0.5zM973.0 545.8l-33.2-0.3 1.4-2.8-14.1 4.1 14.0 4.3-1.4-2.8 33.3 0.3zM993.9 545.8l-33.3-0.1 1.5-2.8-14.1 4.2 14.0 4.2-1.4-2.8 33.3 0.1zM1014.8 545.8l-33.3 0.5 1.4-2.8-14.0 4.4 14.1 4.0-1.4-2.8 33.2-0.5zM1035.7 545.8l-24.5 1.1 1.3-2.9-13.8 4.9 14.2 3.5-1.5-2.7 24.4-1.1zM1056.5 545.8l-23.3 1.8 1.2-2.9-13.7 5.2 14.3 3.1-1.6-2.6 23.3-1.8zM1077.3 545.8l-25.0 3.1 1.1-3.0-13.4 5.9 14.4 2.5-1.7-2.6 25.0-3.1zM1098.2 545.8l-24.9 4.3 0.9-3.0-13.0 6.4 14.5 1.8-1.9-2.5 24.8-4.2zM1119.0 545.8l-24.7 5.0 0.8-3.0-12.9 6.8 14.6 1.4-1.9-2.5 24.7-4.9zM1139.9 545.8l-24.6 5.3 0.8-3.0-12.8 7.1 14.5 1.1-1.9-2.4 24.6-5.3zM1160.8 545.8l-24.6 5.6 0.8-3.0-12.8 7.2 14.6 1.0-2.0-2.4 24.6-5.6zM1181.7 545.8l-27.4 5.5 0.8-3.0-12.9 6.9 14.5 1.3-1.9-2.4 27.5-5.5zM1202.6 545.8l-32.8 5.7 0.9-3.0-13.1 6.5 14.6 1.8-1.9-2.6 32.8-5.6zM1223.5 545.8l-32.7 6.1 0.8-3.1-13.0 6.7 14.6 1.6-1.9-2.5 32.7-6.0zM1244.3 545.8l-32.4 7.4 0.7-3.0-12.7 7.2 14.6 1.0-2.0-2.5 32.5-7.3zM1265.2 545.8l-32.2 8.7 0.7-3.0-12.5 7.7 14.7 0.4-2.1-2.4 32.1-8.6zM1286.0 545.9l-34.6 10.4 0.6-3.1-12.2 8.1 14.6 0.0-2.2-2.3 34.7-10.5zM1306.9 545.9l-39.3 13.1 0.5-3.1-12.0 8.4 14.6-0.5-2.2-2.2 39.3-13.1zM1327.8 545.9l-39.1 13.6 0.4-3.1-11.9 8.5 14.6-0.6-2.2-2.2 39.1-13.6zM96.2 566.9l-36.6-19.6 2.6-1.8-14.3-2.9 10.3 10.3 0.1-3.1 36.5 19.5zM117.0 566.9l-35.8-19.2 2.5-1.8-14.3-2.9 10.4 10.3 0.1-3.1 35.8 19.1zM137.9 566.9l-35.5-19.0 2.5-1.9-14.3-2.9 10.4 10.4 0.1-3.2 35.5 19.0zM158.8 566.9l-36.5-19.6 2.6-1.8-14.3-2.9 10.3 10.3 0.1-3.1 36.5 19.5zM179.7 566.9l-36.5-19.6 2.6-1.8-14.4-2.9 10.4 10.3 0.1-3.1 36.5 19.5zM200.6 566.9l-36.5-19.6 2.6-1.8-14.4-2.9 10.4 10.3 0.1-3.1 36.5 19.5zM221.5 566.9l-36.5-19.6 2.6-1.8-14.4-2.9 10.4 10.3 0.1-3.1 36.5 19.5zM242.4 566.8l-37.1-18.4 2.5-1.9-14.4-2.5 10.7 10.0 0.0-3.1 37.0 18.5zM263.2 566.8l-37.6-17.5 2.4-1.9-14.5-2.1 11.0 9.7-0.1-3.1 37.7 17.5zM284.1 566.8l-39.3-16.9 2.4-2.0-14.5-1.7 11.2 9.4-0.2-3.1 39.3 16.9zM304.9 566.8l-38.9-15.4 2.4-2.1-14.6-1.3 11.5 9.1-0.3-3.1 38.9 15.4zM325.8 566.8l-38.9-14.2 2.3-2.1-14.6-0.9 11.7 8.8-0.4-3.2 38.9 14.2zM346.6 566.8l-39.8-12.7 2.2-2.3-14.7-0.2 12.1 8.2-0.5-3.1 39.9 12.7zM367.5 566.7l-41.4-11.2 2.1-2.4-14.6 0.4 12.4 7.7-0.7-3.0 41.4 11.3zM388.3 566.7l-41.8-9.7 2.0-2.4-14.6 0.9 12.7 7.3-0.7-3.0 41.8 9.7zM409.2 566.7l-41.1-8.0 1.9-2.5-14.5 1.4 12.9 6.9-0.8-3.1 41.0 8.1zM430.0 566.7l-35.0-5.6 1.9-2.5-14.5 1.9 13.1 6.4-0.9-3.0 35.0 5.6zM450.9 566.7l-29.2-3.4 1.7-2.6-14.4 2.5 13.4 5.8-1.1-2.9 29.2 3.4zM471.7 566.7l-29.3-2.2 1.6-2.7-14.3 3.1 13.6 5.3-1.1-2.9 29.3 2.2zM492.4 566.7l-29.4 1.4 1.3-2.9-13.8 4.9 14.2 3.5-1.5-2.7 29.3-1.4zM513.0 566.7l-28.4 7.6 0.6-3.0-12.4 7.6 14.6 0.5-2.1-2.4 28.4-7.5zM533.6 566.9l-26.1 13.4-0.1-3.1-10.5 10.1 14.4-2.7-2.5-1.8 26.1-13.5zM554.5 566.9l-25.7 14.3-0.1-3.1-10.2 10.5 14.3-3.2-2.6-1.7 25.6-14.4zM575.3 566.9l-25.1 15.2-0.3-3.1-9.8 10.9 14.2-3.7-2.7-1.7 25.2-15.2zM596.2 566.9l-24.4 16.5-0.4-3.1-9.3 11.3 14.0-4.3-2.7-1.6 24.3-16.4zM617.0 567.0l-17.4 13.4-0.6-3.0-8.5 11.8 13.7-5.2-2.9-1.4 17.4-13.4zM637.8 567.0l-13.6 12.0-0.8-3.0-7.7 12.4 13.3-6.1-2.9-1.2 13.6-11.9zM658.6 567.1l-15.1 14.8-0.9-3.0-7.1 12.8 12.9-6.8-2.9-1.0 15.1-14.8zM679.5 567.2l-19.9 21.6-1.2-3.0-6.4 13.2 12.6-7.5-3.0-0.8 20.0-21.7zM700.4 567.1l-20.4 21.2-1.0-2.9-6.7 13.0 12.7-7.2-2.9-0.9 20.3-21.2zM721.4 567.0l-22.1 19.4-0.8-3.0-7.8 12.3 13.3-6.0-2.9-1.2 22.1-19.3zM742.4 567.0l-23.8 17.2-0.5-3.1-8.9 11.7 13.8-4.9-2.8-1.4 23.8-17.3zM763.6 566.8l-23.9 9.0 0.3-3.1-11.6 8.9 14.6-1.0-2.3-2.1 23.9-9.1zM784.9 566.7l-18.6 1.6 1.1-2.9-13.6 5.5 14.4 2.9-1.7-2.7 18.6-1.6zM805.9 566.7l-27.0-1.0 1.5-2.7-14.2 3.7 13.9 4.7-1.3-2.9 27.0 1.0zM826.8 566.7l-36.5-1.5 1.5-2.7-14.2 3.6 13.9 4.8-1.3-2.9 36.5 1.5zM847.7 566.7l-39.8-1.8 1.5-2.7-14.2 3.6 13.8 4.8-1.2-2.9 39.8 1.8zM868.6 566.7l-40.4-1.2 1.5-2.7-14.1 3.8 13.9 4.6-1.3-2.9 40.3 1.2zM889.5 566.7l-40.1-0.5 1.5-2.8-14.1 4.0 13.9 4.4-1.3-2.8 40.0 0.5zM910.4 566.7l-31.7-0.4 1.5-2.7-14.1 4.0 14.0 4.4-1.4-2.9 31.6 0.4zM931.3 566.7l-38.6-0.8 1.5-2.7-14.1 3.9 13.9 4.5-1.3-2.9 38.5 0.8zM952.2 566.7l-41.4-1.2 1.5-2.7-14.1 3.8 13.8 4.6-1.3-2.9 41.4 1.2zM973.1 566.7l-41.4-0.7 1.4-2.8-14.1 4.0 14.0 4.4-1.4-2.8 41.4 0.7zM993.9 566.7l-41.4-0.2 1.5-2.8-14.1 4.1 14.0 4.3-1.4-2.8 41.4 0.2zM1014.8 566.7l-41.4 0.5 1.4-2.8-14.0 4.4 14.1 4.0-1.5-2.8 41.4-0.5zM1035.7 566.7l-33.7 1.2 1.3-2.8-13.8 4.7 14.1 3.7-1.5-2.8 33.7-1.2zM1056.5 566.7l-36.5 2.2 1.3-2.9-13.7 5.0 14.2 3.4-1.6-2.7 36.5-2.2zM1077.4 566.7l-41.3 3.5 1.2-2.9-13.6 5.4 14.3 3.0-1.6-2.7 41.2-3.5zM1098.2 566.7l-41.3 4.5 1.1-2.9-13.5 5.7 14.4 2.6-1.7-2.6 41.4-4.5zM1119.1 566.7l-42.4 5.8 1.0-3.0-13.3 6.1 14.4 2.3-1.7-2.6 42.4-5.8zM1140.0 566.7l-42.4 7.0 1.0-3.0-13.2 6.5 14.5 1.8-1.8-2.5 42.3-7.0zM1160.8 566.7l-42.1 8.2 0.8-3.0-12.9 6.8 14.5 1.4-1.9-2.5 42.2-8.1zM1181.7 566.7l-42.0 8.9 0.8-3.1-12.8 7.0 14.5 1.2-1.9-2.4 42.0-8.8zM1202.6 566.7l-41.9 9.5 0.8-3.0-12.8 7.1 14.6 1.1-2.0-2.5 41.9-9.4zM1223.4 566.7l-41.7 10.1 0.7-3.1-12.6 7.4 14.6 0.8-2.0-2.4 41.7-10.0zM1244.3 566.7l-41.6 10.6 0.7-3.0-12.5 7.5 14.6 0.6-2.1-2.3 41.6-10.6zM1265.2 566.7l-41.4 11.2 0.6-3.1-12.4 7.7 14.6 0.5-2.1-2.4 41.4-11.1zM1286.1 566.8l-41.2 12.1 0.5-3.1-12.2 8.0 14.6 0.1-2.1-2.3 41.1-12.2zM1306.9 566.8l-40.8 13.1 0.4-3.1-12.0 8.3 14.6-0.3-2.2-2.3 40.9-13.1zM1327.8 566.8l-40.7 13.5 0.4-3.1-11.9 8.4 14.6-0.4-2.2-2.2 40.7-13.6zM96.2 587.8l-35.9-20.7 2.6-1.7-14.2-3.4 10.0 10.6 0.2-3.1 35.9 20.7zM117.1 587.8l-31.3-18.0 2.7-1.8-14.3-3.3 10.1 10.6 0.1-3.1 31.3 18.0zM138.0 587.8l-28.9-16.7 2.6-1.7-14.3-3.4 10.1 10.6 0.2-3.1 28.9 16.7zM158.9 587.8l-35.9-20.7 2.6-1.7-14.2-3.4 10.0 10.6 0.2-3.1 35.9 20.7zM179.8 587.8l-35.9-20.7 2.6-1.7-14.2-3.4 10.0 10.6 0.2-3.1 35.9 20.7zM200.7 587.8l-35.9-20.7 2.6-1.7-14.2-3.4 10.0 10.6 0.2-3.1 35.9 20.7zM221.6 587.8l-35.9-20.7 2.6-1.7-14.2-3.4 10.0 10.6 0.2-3.1 35.9 20.7zM242.4 587.8l-36.4-19.8 2.6-1.8-14.3-2.9 10.3 10.3 0.1-3.1 36.4 19.7zM263.3 587.8l-37.8-19.2 2.5-1.9-14.4-2.6 10.6 10.1 0.0-3.1 37.8 19.1zM284.1 587.7l-46.5-21.6 2.4-1.9-14.4-2.1 10.9 9.7-0.1-3.1 46.5 21.6zM305.0 587.7l-41.5-17.1 2.4-2.1-14.6-1.4 11.4 9.2-0.2-3.1 41.4 17.1zM325.8 587.7l-38.9-14.2 2.3-2.1-14.6-0.9 11.7 8.8-0.4-3.2 38.9 14.2zM346.6 587.7l-42.5-13.5 2.1-2.3-14.6-0.2 12.1 8.2-0.5-3.1 42.6 13.5zM367.5 587.6l-50.7-13.7 2.1-2.3-14.6 0.4 12.4 7.7-0.6-3.1 50.6 13.8zM388.3 587.6l-51.2-11.7 2.0-2.4-14.6 0.9 12.7 7.2-0.7-3.0 51.2 11.8zM409.2 587.6l-44.0-8.5 1.9-2.5-14.5 1.5 12.9 6.8-0.8-3.0 43.9 8.5zM430.0 587.6l-35.0-5.5 1.8-2.5-14.4 1.9 13.1 6.4-0.9-3.0 35.0 5.5zM450.9 587.6l-29.2-3.8 1.8-2.6-14.5 2.4 13.4 6.0-1.0-3.0 29.1 3.8zM471.7 587.6l-29.2-3.0 1.6-2.6-14.3 2.8 13.5 5.6-1.1-3.0 29.2 3.0zM492.5 587.6l-29.4 0.0 1.4-2.8-14.0 4.2 14.0 4.2-1.4-2.8 29.4 0.0zM513.1 587.6l-28.9 5.2 0.9-3.0-13.1 6.6 14.5 1.6-1.8-2.5 28.9-5.1zM533.8 587.7l-27.6 10.0 0.3-3.1-11.7 8.8 14.6-0.9-2.3-2.1 27.6-10.1zM554.6 587.7l-27.2 11.0 0.2-3.1-11.4 9.1 14.6-1.3-2.4-2.1 27.3-11.0zM575.5 587.7l-26.9 12.0 0.2-3.1-11.1 9.5 14.5-1.9-2.4-2.0 26.8-11.9zM596.3 587.8l-26.2 13.2 0.0-3.1-10.6 10.1 14.4-2.6-2.6-1.9 26.3-13.3zM617.1 587.8l-24.8 14.6-0.2-3.2-9.9 10.7 14.2-3.4-2.7-1.7 24.8-14.6zM638.0 587.8l-19.0 12.8-0.4-3.1-9.2 11.3 13.9-4.3-2.7-1.6 18.9-12.7zM658.8 587.9l-16.9 12.8-0.6-3.1-8.6 11.8 13.7-5.1-2.8-1.4 16.9-12.8zM679.6 587.9l-22.4 19.0-0.8-3.0-7.9 12.3 13.4-5.9-2.9-1.2 22.4-19.0zM700.5 587.9l-22.3 19.2-0.7-3.0-7.9 12.3 13.4-5.9-2.9-1.2 22.2-19.2zM721.4 587.9l-22.9 18.4-0.7-3.0-8.2 12.0 13.5-5.5-2.8-1.3 22.9-18.4zM742.4 587.9l-23.7 17.5-0.5-3.1-8.8 11.7 13.8-5.0-2.8-1.4 23.6-17.5zM763.6 587.7l-23.7 9.7 0.2-3.1-11.3 9.1 14.5-1.4-2.3-2.0 23.6-9.7zM784.8 587.6l-17.3 2.3 1.0-2.9-13.4 6.0 14.5 2.3-1.8-2.6 17.4-2.3zM805.9 587.6l-18.2 0.3 1.3-2.8-13.9 4.4 14.0 4.0-1.4-2.8 18.2-0.3zM826.8 587.6l-27.0 0.4 1.4-2.9-14.0 4.4 14.1 4.0-1.5-2.7 27.0-0.4zM847.7 587.6l-30.3 0.3 1.4-2.8-14.0 4.3 14.0 4.1-1.4-2.8 30.3-0.3zM868.5 587.6l-33.9 1.0 1.4-2.9-13.9 4.6 14.1 3.8-1.5-2.7 33.9-1.0zM889.4 587.6l-41.2 1.9 1.2-2.8-13.8 4.8 14.2 3.6-1.5-2.8 41.2-1.9zM910.3 587.6l-40.5 2.0 1.2-2.8-13.8 4.8 14.2 3.5-1.5-2.7 40.5-2.0zM931.2 587.6l-41.1 1.6 1.3-2.9-13.9 4.8 14.2 3.6-1.5-2.7 41.1-1.6zM952.1 587.6l-41.4 1.2 1.3-2.8-13.8 4.6 14.1 3.7-1.5-2.7 41.4-1.2zM973.0 587.6l-41.4 1.9 1.3-2.8-13.8 4.8 14.2 3.6-1.6-2.8 41.4-1.9zM993.8 587.6l-41.3 2.7 1.2-2.9-13.7 5.1 14.3 3.3-1.6-2.7 41.3-2.7zM1014.7 587.6l-41.2 3.4 1.1-2.9-13.6 5.4 14.3 3.0-1.6-2.7 41.2-3.4zM1035.6 587.6l-40.6 4.1 1.1-3.0-13.5 5.6 14.4 2.8-1.7-2.7 40.6-4.0zM1056.5 587.6l-40.8 4.7 1.1-2.9-13.4 5.8 14.4 2.5-1.7-2.6 40.7-4.7zM1077.3 587.6l-41.0 5.1 1.0-2.9-13.4 5.9 14.4 2.4-1.7-2.6 41.1-5.1zM1098.2 587.6l-42.6 5.7 1.0-3.0-13.3 6.0 14.5 2.3-1.8-2.6 42.6-5.6zM1119.1 587.6l-51.3 7.7 1.0-3.0-13.3 6.2 14.5 2.1-1.8-2.6 51.3-7.6zM1140.0 587.6l-51.8 9.0 0.9-3.0-13.1 6.5 14.5 1.8-1.8-2.6 51.7-8.9zM1160.8 587.6l-51.5 10.2 0.8-3.0-12.9 6.8 14.5 1.4-1.9-2.5 51.6-10.1zM1181.7 587.6l-51.3 11.6 0.8-3.0-12.7 7.2 14.5 1.0-1.9-2.5 51.2-11.5zM1202.5 587.6l-50.9 13.0 0.7-3.0-12.5 7.5 14.6 0.6-2.1-2.4 50.9-12.9zM1223.4 587.6l-50.7 13.6 0.6-3.0-12.4 7.7 14.6 0.4-2.1-2.4 50.7-13.5zM1244.3 587.6l-50.7 13.6 0.6-3.0-12.4 7.7 14.6 0.4-2.1-2.4 50.7-13.5zM1265.2 587.6l-50.7 13.7 0.6-3.1-12.4 7.7 14.6 0.4-2.1-2.3 50.7-13.6zM1286.1 587.7l-50.6 14.3 0.6-3.1-12.3 7.9 14.6 0.2-2.1-2.3 50.5-14.4zM1306.9 587.7l-50.3 15.0 0.5-3.1-12.2 8.0 14.6 0.0-2.1-2.3 50.3-15.0zM1327.8 587.7l-50.2 15.3 0.5-3.1-12.2 8.1 14.7-0.1-2.2-2.3 50.2-15.3zM96.2 608.7l-28.3-16.3 2.6-1.8-14.2-3.3 10.0 10.6 0.2-3.1 28.3 16.3zM117.1 608.7l-26.9-15.6 2.6-1.7-14.3-3.3 10.1 10.6 0.2-3.1 26.9 15.5zM138.0 608.7l-26.3-15.2 2.6-1.7-14.2-3.4 10.0 10.7 0.2-3.1 26.3 15.1zM158.9 608.7l-28.9-16.7 2.6-1.7-14.2-3.4 10.0 10.6 0.2-3.1 28.9 16.7zM179.8 608.7l-35.0-20.2 2.6-1.7-14.2-3.4 10.0 10.6 0.2-3.1 35.0 20.2zM200.7 608.7l-41.1-23.7 2.6-1.7-14.2-3.4 10.0 10.6 0.2-3.1 41.1 23.7zM221.6 608.7l-43.5-25.1 2.6-1.7-14.2-3.4 10.0 10.7 0.2-3.2 43.5 25.1zM242.4 608.7l-41.5-23.3 2.6-1.7-14.3-3.2 10.2 10.5 0.1-3.1 41.6 23.2zM263.3 608.7l-36.6-19.9 2.5-1.8-14.3-3.0 10.3 10.4 0.1-3.1 36.7 19.8zM284.2 608.6l-39.7-19.7 2.5-1.9-14.4-2.5 10.7 10.0 0.0-3.1 39.6 19.8zM305.0 608.6l-33.4-14.4 2.4-2.0-14.6-1.6 11.2 9.3-0.1-3.1 33.4 14.4zM325.8 608.6l-34.7-12.7 2.2-2.1-14.5-0.9 11.7 8.8-0.4-3.1 34.7 12.6zM346.6 608.6l-40.5-12.3 2.1-2.3-14.6 0.0 12.2 8.1-0.5-3.1 40.5 12.2zM367.4 608.5l-43.4-10.4 2.0-2.4-14.6 0.8 12.7 7.3-0.7-3.0 43.4 10.5zM388.3 608.5l-43.9-8.5 1.9-2.4-14.5 1.4 12.9 6.8-0.8-3.0 43.8 8.5zM409.1 608.5l-41.9-6.6 1.9-2.5-14.5 2.0 13.2 6.3-1.0-3.0 41.9 6.6zM430.0 608.5l-39.5-4.8 1.7-2.6-14.4 2.5 13.4 5.8-1.1-2.9 39.5 4.8zM450.8 608.5l-37.9-4.1 1.7-2.6-14.4 2.7 13.5 5.6-1.1-2.9 37.9 4.1zM471.7 608.5l-37.1-3.5 1.7-2.6-14.3 2.8 13.5 5.5-1.1-2.9 37.1 3.5zM492.5 608.5l-30.3 0.0 1.4-2.8-14.0 4.2 14.0 4.2-1.4-2.8 30.3 0.0zM513.1 608.5l-28.9 5.2 0.9-3.0-13.1 6.6 14.5 1.6-1.8-2.5 28.9-5.1zM533.8 608.6l-27.6 10.0 0.3-3.1-11.7 8.8 14.6-0.9-2.3-2.1 27.6-10.1zM554.6 608.6l-27.2 11.0 0.2-3.1-11.4 9.1 14.6-1.3-2.4-2.1 27.3-11.0zM575.5 608.6l-26.9 12.0 0.2-3.1-11.1 9.5 14.5-1.9-2.4-2.0 26.8-11.9zM596.3 608.6l-26.3 13.1 0.0-3.1-10.7 10.0 14.4-2.5-2.5-1.9 26.4-13.0zM617.2 608.7l-25.7 14.3-0.2-3.1-10.1 10.5 14.2-3.2-2.5-1.7 25.6-14.4zM638.0 608.7l-27.3 17.1-0.3-3.2-9.7 11.0 14.1-3.8-2.6-1.7 27.3-17.0zM658.9 608.7l-30.0 19.8-0.4-3.1-9.3 11.3 14.0-4.3-2.7-1.5 29.9-19.8zM679.7 608.8l-31.2 21.8-0.5-3.0-9.0 11.4 13.9-4.6-2.8-1.5 31.2-21.9zM700.6 608.7l-31.3 21.8-0.5-3.1-9.1 11.4 13.9-4.5-2.7-1.5 31.3-21.7zM721.6 608.7l-26.9 17.3-0.3-3.2-9.5 11.1 14.0-4.0-2.6-1.6 26.8-17.2zM742.5 608.7l-25.3 14.9-0.2-3.1-10.0 10.7 14.2-3.5-2.6-1.7 25.3-14.9zM763.6 608.6l-24.1 8.5 0.4-3.1-11.8 8.6 14.6-0.7-2.2-2.2 24.1-8.5zM784.8 608.5l-17.2 2.5 1.0-3.0-13.3 6.2 14.5 2.1-1.8-2.5 17.2-2.5zM805.8 608.5l-17.4 1.1 1.3-2.9-13.8 5.1 14.3 3.3-1.6-2.7 17.4-1.1zM826.7 608.5l-19.7 1.5 1.1-2.9-13.6 5.3 14.3 3.1-1.6-2.7 19.7-1.5zM847.5 608.5l-25.1 2.4 1.1-2.9-13.5 5.5 14.3 2.8-1.6-2.6 25.1-2.4zM868.4 608.5l-30.2 3.7 1.0-2.9-13.4 5.8 14.4 2.5-1.7-2.6 30.2-3.7zM889.3 608.5l-33.5 5.0 1.0-3.0-13.2 6.3 14.5 2.0-1.8-2.5 33.4-5.0zM910.1 608.5l-40.2 6.4 0.9-2.9-13.2 6.3 14.5 1.9-1.8-2.5 40.3-6.4zM931.0 608.5l-34.6 5.3 1.0-2.9-13.2 6.2 14.5 2.1-1.9-2.6 34.7-5.3zM951.9 608.5l-32.3 4.9 1.0-3.0-13.2 6.2 14.4 2.1-1.8-2.6 32.4-4.8zM972.8 608.5l-32.2 5.7 0.9-3.0-13.0 6.6 14.5 1.7-1.9-2.5 32.2-5.7zM993.7 608.5l-32.0 6.6 0.8-3.0-12.9 6.9 14.6 1.3-2.0-2.5 32.0-6.5zM1014.5 608.5l-31.9 7.1 0.8-3.0-12.8 7.1 14.6 1.1-2.0-2.4 31.9-7.1zM1035.4 608.5l-38.1 8.8 0.7-3.0-12.7 7.2 14.6 1.0-2.0-2.4 38.1-8.8zM1056.3 608.5l-40.3 9.7 0.7-3.1-12.6 7.4 14.6 0.8-2.0-2.4 40.2-9.6zM1077.2 608.5l-43.2 10.2 0.7-3.0-12.6 7.3 14.6 0.8-2.1-2.4 43.2-10.1zM1098.1 608.5l-49.3 11.5 0.7-3.1-12.7 7.3 14.6 0.9-2.0-2.4 49.3-11.4zM1119.0 608.5l-51.9 12.0 0.8-3.0-12.7 7.2 14.6 1.0-2.0-2.5 51.8-11.9zM1139.9 608.5l-52.0 12.1 0.7-3.1-12.7 7.3 14.6 0.9-2.0-2.4 52.0-12.0zM1160.8 608.5l-52.0 12.2 0.7-3.1-12.7 7.3 14.6 0.9-2.0-2.4 52.0-12.1zM1181.6 608.5l-51.8 12.9 0.7-3.1-12.6 7.4 14.6 0.8-2.0-2.4 51.8-12.8zM1202.5 608.5l-51.6 13.6 0.6-3.1-12.5 7.6 14.6 0.5-2.0-2.3 51.6-13.5zM1223.4 608.5l-51.6 13.9 0.7-3.1-12.5 7.7 14.6 0.4-2.1-2.3 51.6-13.8zM1244.3 608.5l-51.6 13.9 0.6-3.1-12.4 7.7 14.6 0.4-2.1-2.3 51.6-13.8zM1265.2 608.5l-51.6 13.9 0.6-3.1-12.4 7.7 14.6 0.4-2.1-2.3 51.6-13.8zM1286.1 608.5l-51.6 13.8 0.6-3.0-12.4 7.6 14.6 0.5-2.1-2.4 51.6-13.7zM1307.0 608.5l-52.9 14.2 0.6-3.1-12.4 7.7 14.6 0.4-2.1-2.3 52.9-14.1zM1327.9 608.5l-59.7 16.0 0.6-3.1-12.4 7.7 14.6 0.4-2.1-2.3 59.7-15.9zM96.2 629.6l-20.0-11.5 2.6-1.7-14.2-3.3 10.0 10.6 0.2-3.2 20.0 11.5zM117.1 629.6l-20.0-11.5 2.6-1.7-14.2-3.3 10.0 10.6 0.2-3.2 20.0 11.5zM138.0 629.6l-21.6-12.4 2.7-1.7-14.3-3.3 10.1 10.6 0.2-3.2 21.5 12.4zM158.9 629.6l-26.4-15.2 2.6-1.7-14.2-3.3 10.1 10.6 0.1-3.1 26.4 15.1zM179.8 629.6l-34.7-20.0 2.6-1.7-14.2-3.3 10.0 10.6 0.2-3.1 34.7 19.9zM200.7 629.6l-39.3-22.6 2.6-1.7-14.2-3.4 10.0 10.7 0.2-3.2 39.3 22.6zM221.6 629.6l-40.8-23.5 2.6-1.7-14.2-3.4 10.0 10.7 0.2-3.2 40.8 23.5zM242.4 629.6l-40.9-23.6 2.6-1.7-14.2-3.3 10.0 10.6 0.2-3.1 41.0 23.5zM263.3 629.6l-41.4-23.8 2.6-1.7-14.2-3.4 10.1 10.7 0.1-3.2 41.4 23.8zM284.2 629.6l-42.2-22.4 2.5-1.8-14.3-2.9 10.4 10.3 0.1-3.1 42.2 22.3zM305.0 629.5l-32.1-14.2 2.5-2.0-14.5-1.8 11.1 9.5-0.2-3.2 32.1 14.3zM325.8 629.5l-30.2-11.0 2.2-2.2-14.6-0.8 11.8 8.7-0.4-3.1 30.2 11.0zM346.6 629.5l-35.5-10.2 2.1-2.3-14.6 0.2 12.3 7.9-0.6-3.1 35.5 10.1zM367.4 629.4l-40.5-8.5 1.9-2.5-14.5 1.2 12.8 7.0-0.8-3.0 40.5 8.6zM388.2 629.4l-40.9-6.4 1.8-2.6-14.4 2.0 13.1 6.3-0.9-3.0 40.9 6.5zM409.1 629.4l-41.1-5.0 1.7-2.6-14.4 2.5 13.4 5.8-1.1-2.9 41.1 5.0zM429.9 629.4l-41.2-3.6 1.6-2.6-14.3 2.9 13.6 5.4-1.2-2.9 41.3 3.6zM450.8 629.4l-41.2-3.6 1.6-2.7-14.3 3.0 13.6 5.4-1.2-2.9 41.3 3.6zM471.7 629.4l-40.0-3.5 1.6-2.7-14.3 3.0 13.6 5.4-1.2-2.9 40.1 3.5zM492.5 629.4l-30.6 0.0 1.4-2.8-14.0 4.2 14.0 4.2-1.4-2.8 30.6 0.0zM513.1 629.4l-28.9 5.1 0.9-3.0-13.1 6.6 14.5 1.7-1.8-2.5 28.9-5.1zM533.8 629.5l-27.7 10.0 0.4-3.1-11.7 8.7 14.6-0.8-2.3-2.2 27.6-10.0zM554.6 629.5l-27.2 11.0 0.2-3.1-11.4 9.1 14.6-1.3-2.4-2.1 27.3-11.0zM575.5 629.5l-26.9 12.0 0.2-3.2-11.1 9.5 14.5-1.8-2.4-2.0 26.8-11.9zM596.3 629.5l-26.4 12.9 0.0-3.1-10.7 9.9 14.4-2.4-2.5-1.9 26.5-12.8zM617.2 629.6l-26.0 13.7-0.1-3.1-10.4 10.3 14.4-2.9-2.6-1.8 26.0-13.8zM638.0 629.6l-28.0 16.1-0.1-3.2-10.1 10.6 14.2-3.3-2.6-1.7 28.0-16.1zM658.9 629.6l-30.4 17.4-0.1-3.1-10.1 10.6 14.2-3.3-2.6-1.7 30.4-17.5zM679.8 629.6l-30.4 17.4-0.2-3.1-10.0 10.6 14.2-3.3-2.6-1.7 30.4-17.5zM700.7 629.6l-30.7 16.9-0.1-3.2-10.2 10.5 14.3-3.1-2.6-1.8 30.7-16.9zM721.7 629.6l-27.7 13.9 0.0-3.1-10.6 10.1 14.4-2.6-2.5-1.9 27.6-14.0zM742.6 629.5l-26.7 12.3 0.1-3.1-10.9 9.7 14.4-2.1-2.4-1.9 26.7-12.3zM763.7 629.5l-24.5 7.3 0.5-3.1-12.1 8.1 14.6 0.0-2.2-2.3 24.5-7.4zM784.8 629.4l-17.2 2.7 0.9-3.0-13.2 6.3 14.5 2.0-1.8-2.6 17.2-2.6zM805.7 629.4l-17.3 1.8 1.1-2.9-13.4 5.7 14.3 2.7-1.7-2.7 17.3-1.8zM826.6 629.4l-17.2 2.4 1.0-2.9-13.3 6.1 14.4 2.2-1.8-2.6 17.3-2.4zM847.4 629.4l-20.0 3.6 0.9-3.0-13.1 6.5 14.5 1.7-1.8-2.5 20.0-3.5zM868.3 629.4l-24.6 5.2 0.8-3.0-12.8 7.0 14.5 1.2-1.9-2.4 24.6-5.2zM889.1 629.4l-29.2 7.3 0.7-3.1-12.6 7.5 14.6 0.7-2.0-2.4 29.2-7.2zM910.0 629.4l-33.5 9.0 0.6-3.1-12.4 7.7 14.6 0.4-2.1-2.3 33.5-8.9zM930.9 629.4l-29.9 8.1 0.6-3.1-12.4 7.7 14.6 0.4-2.1-2.3 29.9-8.0zM951.8 629.4l-28.4 7.8 0.6-3.1-12.4 7.7 14.6 0.4-2.1-2.3 28.4-7.7zM972.6 629.5l-28.1 8.7 0.5-3.1-12.1 8.1 14.6-0.1-2.1-2.3 28.1-8.7zM993.5 629.5l-27.8 9.6 0.4-3.1-11.8 8.6 14.6-0.6-2.3-2.2 27.8-9.7zM1014.3 629.5l-27.6 10.1 0.4-3.1-11.7 8.7 14.6-0.9-2.3-2.1 27.6-10.1zM1035.2 629.5l-35.9 13.1 0.4-3.1-11.7 8.7 14.5-0.8-2.2-2.2 35.9-13.1zM1056.1 629.5l-38.9 14.1 0.4-3.1-11.7 8.7 14.6-0.8-2.3-2.1 38.9-14.2zM1077.0 629.5l-42.9 14.9 0.4-3.1-11.8 8.6 14.6-0.7-2.3-2.1 43.0-15.0zM1098.0 629.5l-50.7 16.8 0.4-3.1-11.9 8.4 14.6-0.4-2.2-2.2 50.6-16.9zM1118.9 629.5l-51.0 15.9 0.5-3.1-12.1 8.2 14.6-0.2-2.1-2.2 50.9-16.0zM1139.8 629.5l-51.3 14.8 0.6-3.0-12.3 7.9 14.6 0.1-2.1-2.3 51.3-14.9zM1160.7 629.4l-51.5 13.9 0.6-3.0-12.4 7.7 14.6 0.4-2.1-2.4 51.5-13.8zM1181.6 629.4l-51.5 13.9 0.6-3.0-12.5 7.7 14.7 0.4-2.1-2.4 51.5-13.8zM1202.5 629.4l-51.6 13.9 0.7-3.0-12.5 7.7 14.7 0.4-2.1-2.4 51.5-13.8zM1223.4 629.4l-51.6 13.9 0.7-3.0-12.5 7.6 14.6 0.5-2.0-2.4 51.5-13.8zM1244.3 629.4l-56.2 15.1 0.7-3.0-12.5 7.6 14.6 0.5-2.0-2.4 56.1-15.0zM1265.2 629.4l-57.7 15.5 0.6-3.1-12.4 7.7 14.6 0.4-2.1-2.3 57.7-15.4zM1286.1 629.4l-57.9 14.6 0.6-3.0-12.5 7.5 14.6 0.6-2.0-2.3 57.9-14.6zM1307.0 629.4l-59.0 14.0 0.8-3.0-12.7 7.3 14.6 0.9-2.0-2.4 59.0-14.0zM1327.9 629.4l-63.5 14.7 0.8-3.1-12.7 7.3 14.6 0.9-2.0-2.4 63.5-14.6zM96.1 650.4l-15.7-7.5 2.5-2.0-14.4-2.3 10.8 9.9-0.1-3.1 15.7 7.6zM117.0 650.4l-17.4-8.4 2.5-1.9-14.4-2.3 10.7 9.9 0.0-3.2 17.4 8.5zM137.9 650.4l-21.1-10.5 2.5-1.9-14.4-2.6 10.6 10.1 0.0-3.1 21.1 10.6zM158.8 650.5l-26.9-14.1 2.5-1.8-14.4-2.7 10.5 10.1 0.1-3.1 26.9 14.0zM179.7 650.5l-35.3-18.8 2.5-1.8-14.3-2.8 10.4 10.2 0.1-3.1 35.3 18.7zM200.6 650.5l-36.6-19.4 2.6-1.8-14.4-2.9 10.5 10.3 0.0-3.2 36.6 19.4zM221.5 650.5l-34.9-18.5 2.6-1.8-14.4-2.9 10.4 10.3 0.1-3.1 34.9 18.4zM242.4 650.5l-36.4-18.7 2.5-1.8-14.4-2.7 10.6 10.1 0.0-3.1 36.4 18.6zM263.3 650.4l-44.7-22.0 2.5-1.9-14.4-2.4 10.7 9.9 0.0-3.1 44.6 22.1zM284.1 650.4l-48.3-21.8 2.5-1.9-14.5-2.0 11.0 9.6-0.1-3.1 48.3 21.8zM304.9 650.4l-36.9-14.3 2.4-2.1-14.6-1.1 11.5 9.0-0.3-3.1 36.9 14.2zM325.8 650.4l-31.8-10.3 2.2-2.2-14.6-0.4 12.0 8.3-0.4-3.1 31.7 10.3zM346.6 650.3l-34.7-8.6 2.0-2.4-14.6 0.7 12.6 7.5-0.7-3.1 34.7 8.7zM367.4 650.3l-40.8-7.1 1.8-2.5-14.5 1.7 13.1 6.5-0.9-3.0 40.8 7.2zM388.2 650.3l-41.1-5.1 1.7-2.6-14.4 2.4 13.4 5.9-1.0-2.9 41.0 5.1zM409.0 650.3l-41.2-3.9 1.7-2.7-14.4 2.9 13.6 5.5-1.1-2.9 41.2 3.9zM429.9 650.3l-41.3-2.7 1.6-2.7-14.3 3.3 13.7 5.1-1.2-2.9 41.3 2.7zM450.8 650.3l-41.3-3.1 1.6-2.7-14.3 3.2 13.7 5.2-1.2-2.9 41.3 3.1zM471.7 650.3l-40.4-3.4 1.6-2.6-14.3 3.0 13.6 5.3-1.2-2.9 40.5 3.4zM492.5 650.3l-34.2-0.3 1.5-2.8-14.1 4.1 14.0 4.3-1.4-2.8 34.2 0.3zM513.2 650.3l-30.3 4.7 1.0-3.0-13.2 6.3 14.5 2.0-1.8-2.5 30.2-4.7zM533.8 650.4l-27.9 9.0 0.4-3.1-12.0 8.3 14.6-0.3-2.2-2.2 28.0-9.1zM554.7 650.4l-27.7 10.0 0.4-3.1-11.7 8.7 14.6-0.8-2.3-2.2 27.6-10.0zM575.5 650.4l-27.2 11.0 0.2-3.1-11.4 9.1 14.6-1.3-2.4-2.1 27.3-11.0zM596.4 650.4l-27.0 11.7 0.2-3.1-11.2 9.5 14.5-1.8-2.4-2.0 27.0-11.7zM617.3 650.4l-26.8 12.3 0.1-3.1-10.9 9.6 14.5-2.0-2.5-1.9 26.7-12.3zM638.1 650.4l-26.4 12.9 0.0-3.2-10.8 9.9 14.5-2.3-2.5-1.9 26.4-12.8zM659.0 650.4l-26.4 12.9 0.0-3.2-10.8 9.9 14.5-2.3-2.5-1.9 26.4-12.8zM679.9 650.4l-26.4 12.9 0.0-3.2-10.8 9.9 14.5-2.3-2.5-1.9 26.4-12.8zM700.8 650.4l-26.6 12.5 0.1-3.1-10.9 9.7 14.4-2.1-2.4-2.0 26.6-12.4zM721.8 650.4l-24.4 10.6 0.2-3.1-11.2 9.5 14.5-1.8-2.4-2.0 24.4-10.6zM742.7 650.4l-23.6 9.5 0.2-3.1-11.4 9.1 14.6-1.3-2.4-2.1 23.6-9.5zM763.7 650.3l-22.0 6.0 0.6-3.1-12.4 7.7 14.6 0.4-2.1-2.3 22.1-5.9zM784.8 650.3l-17.2 2.5 1.0-3.0-13.3 6.2 14.5 2.1-1.8-2.5 17.2-2.5zM805.7 650.3l-17.3 1.7 1.2-2.9-13.6 5.5 14.4 2.8-1.7-2.6 17.3-1.7zM826.6 650.3l-17.3 2.1 1.1-3.0-13.4 5.8 14.4 2.6-1.7-2.7 17.2-2.0zM847.5 650.3l-17.3 2.4 1.0-2.9-13.2 6.1 14.4 2.2-1.8-2.6 17.3-2.4zM868.3 650.3l-19.7 3.2 0.9-3.0-13.1 6.4 14.4 1.9-1.8-2.5 19.8-3.2zM889.2 650.3l-25.5 4.7 0.9-3.0-13.1 6.6 14.6 1.6-1.9-2.5 25.5-4.6zM910.0 650.3l-28.4 6.4 0.8-3.0-12.8 7.1 14.6 1.1-2.0-2.5 28.5-6.3zM930.9 650.4l-28.3 8.0 0.6-3.0-12.3 7.8 14.6 0.2-2.1-2.3 28.2-8.1zM951.7 650.4l-27.8 9.6 0.4-3.1-11.8 8.6 14.6-0.6-2.3-2.2 27.8-9.7zM972.6 650.4l-27.6 10.2 0.3-3.1-11.6 8.8 14.6-0.9-2.3-2.2 27.5-10.2zM993.4 650.4l-27.3 10.8 0.2-3.1-11.4 9.0 14.5-1.2-2.3-2.1 27.3-10.8zM1014.3 650.4l-27.3 10.8 0.2-3.1-11.4 9.1 14.5-1.3-2.3-2.1 27.3-10.8zM1035.2 650.4l-35.7 13.6 0.3-3.1-11.6 8.8 14.6-1.0-2.3-2.1 35.7-13.6zM1056.1 650.4l-38.9 14.1 0.4-3.1-11.7 8.7 14.6-0.8-2.3-2.1 38.9-14.2zM1077.0 650.4l-41.6 14.7 0.4-3.1-11.8 8.6 14.6-0.7-2.2-2.1 41.6-14.8zM1097.9 650.4l-46.7 16.1 0.4-3.1-11.8 8.5 14.6-0.6-2.3-2.1 46.8-16.2zM1118.9 650.4l-46.9 15.6 0.4-3.1-12.0 8.4 14.7-0.4-2.3-2.2 46.9-15.7zM1139.8 650.4l-49.9 15.9 0.5-3.1-12.1 8.3 14.6-0.3-2.2-2.2 49.9-16.0zM1160.7 650.4l-51.1 15.6 0.5-3.0-12.1 8.1 14.6-0.1-2.2-2.3 51.1-15.7zM1181.6 650.4l-52.4 16.0 0.5-3.0-12.1 8.1 14.6-0.1-2.2-2.3 52.4-16.1zM1202.5 650.4l-54.9 16.8 0.5-3.1-12.1 8.1 14.6-0.1-2.2-2.2 54.9-16.9zM1223.4 650.4l-55.0 16.4 0.5-3.1-12.2 8.0 14.6 0.0-2.1-2.3 55.0-16.4zM1244.3 650.4l-61.0 17.2 0.6-3.1-12.4 7.9 14.6 0.2-2.1-2.3 61.0-17.3zM1265.2 650.3l-63.2 16.9 0.6-3.0-12.4 7.6 14.6 0.5-2.1-2.4 63.2-16.8zM1286.1 650.3l-63.4 16.0 0.7-3.0-12.6 7.5 14.6 0.6-2.0-2.4 63.4-15.9zM1307.0 650.3l-63.6 15.1 0.7-3.0-12.7 7.3 14.6 0.9-2.0-2.4 63.7-15.1zM1327.9 650.3l-63.7 14.7 0.7-3.0-12.7 7.2 14.6 1.0-2.0-2.4 63.8-14.7zM96.0 671.3l-16.1-6.5 2.3-2.0-14.6-1.4 11.5 9.1-0.3-3.1 16.2 6.5zM116.9 671.3l-21.5-8.6 2.4-2.1-14.6-1.3 11.4 9.1-0.2-3.1 21.5 8.6zM137.8 671.3l-26.9-11.7 2.4-2.0-14.6-1.7 11.2 9.4-0.2-3.1 27.0 11.7zM158.8 671.3l-27.6-12.8 2.5-2.0-14.5-2.1 10.9 9.7 0.0-3.1 27.5 12.9zM179.7 671.3l-36.0-17.4 2.5-1.9-14.4-2.4 10.7 9.9 0.0-3.1 36.0 17.5zM200.6 671.3l-37.3-18.1 2.5-1.9-14.4-2.3 10.7 9.9 0.0-3.1 37.2 18.1zM221.5 671.3l-32.7-15.8 2.5-1.9-14.5-2.4 10.8 9.9 0.0-3.1 32.6 15.9zM242.3 671.3l-30.5-13.8 2.4-2.0-14.5-1.9 11.0 9.6-0.1-3.1 30.6 13.8zM263.2 671.3l-37.6-15.7 2.4-2.0-14.6-1.6 11.3 9.3-0.2-3.1 37.6 15.7zM284.0 671.3l-45.9-17.3 2.3-2.2-14.6-1.0 11.6 8.9-0.3-3.1 45.9 17.3zM304.9 671.3l-41.9-13.9 2.2-2.2-14.6-0.4 11.9 8.4-0.4-3.1 41.9 13.8zM325.7 671.3l-39.8-11.4 2.1-2.3-14.6 0.2 12.3 7.9-0.6-3.1 39.8 11.3zM346.5 671.2l-40.5-8.5 2.0-2.5-14.6 1.2 12.8 7.0-0.8-3.0 40.5 8.6zM367.3 671.2l-41.0-5.7 1.8-2.6-14.5 2.2 13.3 6.1-1.0-2.9 41.0 5.7zM388.1 671.2l-41.2-3.8 1.7-2.6-14.4 2.9 13.6 5.4-1.1-2.9 41.2 3.8zM409.0 671.2l-41.3-2.8 1.6-2.7-14.3 3.2 13.7 5.2-1.2-2.9 41.3 2.8zM429.9 671.2l-41.4-1.8 1.5-2.8-14.2 3.6 13.8 4.8-1.2-2.8 41.3 1.8zM450.8 671.2l-41.3-2.5 1.5-2.8-14.2 3.4 13.7 5.0-1.2-2.9 41.3 2.6zM471.7 671.2l-41.3-3.3 1.6-2.6-14.3 3.1 13.7 5.2-1.2-2.9 41.3 3.3zM492.5 671.2l-41.4-0.6 1.4-2.8-14.0 4.0 13.9 4.4-1.3-2.8 41.4 0.6zM513.2 671.2l-33.8 4.5 1.0-2.9-13.3 6.0 14.4 2.3-1.7-2.6 33.8-4.5zM533.9 671.3l-29.0 8.2 0.5-3.0-12.3 7.8 14.6 0.2-2.1-2.3 29.0-8.3zM554.7 671.3l-27.9 9.0 0.4-3.1-12.0 8.3 14.6-0.3-2.2-2.2 28.0-9.1zM575.6 671.3l-27.7 10.0 0.4-3.1-11.7 8.7 14.6-0.8-2.3-2.2 27.6-10.0zM596.4 671.3l-27.4 10.6 0.3-3.1-11.5 8.9 14.5-1.1-2.3-2.1 27.5-10.6zM617.3 671.3l-27.3 10.8 0.2-3.2-11.4 9.1 14.5-1.2-2.3-2.1 27.4-10.8zM638.2 671.3l-27.3 10.9 0.3-3.1-11.5 9.1 14.6-1.3-2.3-2.1 27.3-10.9zM659.1 671.3l-27.3 10.9 0.3-3.1-11.5 9.1 14.6-1.3-2.3-2.1 27.2-10.9zM680.0 671.3l-27.3 10.9 0.3-3.1-11.5 9.1 14.6-1.3-2.3-2.1 27.2-10.9zM700.9 671.3l-27.4 10.7 0.3-3.1-11.5 9.0 14.6-1.2-2.4-2.1 27.4-10.7zM721.8 671.3l-19.5 7.2 0.4-3.1-11.7 8.8 14.6-0.9-2.3-2.2 19.5-7.2zM742.7 671.3l-16.4 5.7 0.4-3.1-11.8 8.5 14.6-0.6-2.3-2.2 16.5-5.7zM763.8 671.2l-17.0 4.1 0.8-3.1-12.7 7.4 14.6 0.8-2.0-2.4 16.9-4.0zM784.8 671.2l-17.2 2.3 1.0-2.9-13.3 6.0 14.4 2.3-1.8-2.6 17.3-2.3zM805.8 671.2l-17.4 1.6 1.2-2.9-13.6 5.4 14.3 2.9-1.6-2.6 17.3-1.6zM826.6 671.2l-17.3 1.7 1.1-2.9-13.5 5.5 14.4 2.8-1.7-2.6 17.3-1.7zM847.5 671.2l-17.3 1.8 1.1-2.9-13.5 5.6 14.4 2.7-1.7-2.6 17.3-1.8zM868.4 671.2l-17.3 1.9 1.1-2.9-13.5 5.7 14.4 2.6-1.7-2.6 17.3-1.9zM889.3 671.2l-18.8 2.2 1.1-2.9-13.5 5.8 14.4 2.5-1.7-2.6 18.8-2.2zM910.1 671.2l-28.1 5.1 0.9-3.0-13.0 6.7 14.5 1.6-1.9-2.5 28.1-5.1zM930.8 671.3l-28.1 8.5 0.5-3.1-12.1 8.1 14.6 0.0-2.2-2.3 28.2-8.6zM951.6 671.3l-27.0 11.6 0.2-3.1-11.3 9.3 14.6-1.6-2.4-2.0 27.0-11.6zM972.5 671.3l-27.0 11.8 0.2-3.2-11.2 9.5 14.5-1.8-2.4-2.0 27.0-11.7zM993.4 671.3l-26.9 11.9 0.1-3.1-11.1 9.5 14.5-1.8-2.4-2.0 26.9-11.9zM1014.3 671.3l-27.0 11.6 0.1-3.1-11.2 9.3 14.5-1.6-2.3-2.0 27.0-11.6zM1035.2 671.3l-35.6 14.0 0.3-3.1-11.5 9.1 14.6-1.3-2.3-2.0 35.5-14.1zM1056.1 671.3l-38.9 14.1 0.4-3.1-11.7 8.8 14.6-0.9-2.3-2.1 38.9-14.2zM1077.0 671.3l-38.9 14.0 0.4-3.1-11.8 8.7 14.6-0.8-2.3-2.1 39.0-14.1zM1097.9 671.3l-38.9 13.9 0.3-3.1-11.7 8.7 14.6-0.8-2.3-2.1 39.0-14.0zM1118.8 671.3l-39.0 13.8 0.4-3.1-11.8 8.6 14.6-0.7-2.3-2.2 39.1-13.8zM1139.7 671.3l-47.5 16.6 0.4-3.1-11.8 8.6 14.6-0.7-2.2-2.2 47.5-16.6zM1160.6 671.3l-50.4 17.4 0.4-3.1-11.9 8.6 14.6-0.6-2.2-2.2 50.4-17.5zM1181.5 671.3l-54.4 18.8 0.4-3.1-11.8 8.5 14.6-0.6-2.3-2.2 54.4-18.8zM1202.4 671.3l-61.8 21.4 0.4-3.1-11.8 8.5 14.6-0.6-2.3-2.2 61.8-21.4zM1223.3 671.3l-62.1 20.4 0.4-3.1-11.9 8.3 14.6-0.4-2.2-2.2 62.1-20.4zM1244.3 671.3l-62.7 18.6 0.5-3.1-12.2 8.0 14.6 0.0-2.1-2.3 62.7-18.6zM1265.2 671.2l-63.2 16.9 0.6-3.0-12.4 7.6 14.6 0.5-2.1-2.4 63.2-16.8zM1286.1 671.2l-62.9 15.9 0.7-3.1-12.5 7.5 14.6 0.7-2.1-2.4 62.9-15.8zM1307.0 671.2l-62.1 14.8 0.7-3.1-12.6 7.3 14.6 0.9-2.0-2.4 62.1-14.7zM1327.9 671.2l-62.2 14.4 0.8-3.1-12.7 7.3 14.6 0.9-2.0-2.4 62.2-14.3zM95.9 692.2l-16.5-5.4 2.1-2.2-14.6-0.3 12.1 8.3-0.5-3.1 16.6 5.3zM116.8 692.2l-22.0-7.1 2.2-2.3-14.6-0.3 12.0 8.3-0.5-3.1 22.1 7.1zM137.8 692.2l-27.7-10.0 2.3-2.1-14.6-0.8 11.7 8.7-0.4-3.1 27.7 9.9zM158.7 692.2l-28.2-11.3 2.3-2.1-14.5-1.3 11.4 9.1-0.3-3.1 28.3 11.3zM179.6 692.2l-36.7-15.8 2.4-2.0-14.6-1.7 11.2 9.4-0.1-3.1 36.7 15.8zM200.5 692.2l-37.8-16.9 2.5-2.0-14.5-1.9 11.0 9.6-0.1-3.1 37.8 16.9zM221.4 692.2l-37.1-17.3 2.4-1.9-14.4-2.1 10.9 9.7-0.1-3.2 37.2 17.4zM242.3 692.2l-34.5-15.0 2.4-2.0-14.5-1.7 11.2 9.4-0.2-3.1 34.5 15.0zM263.2 692.2l-28.1-11.3 2.3-2.1-14.5-1.3 11.4 9.1-0.3-3.1 28.1 11.3zM284.0 692.2l-29.1-10.5 2.3-2.2-14.6-0.8 11.7 8.7-0.3-3.1 29.1 10.5zM304.9 692.2l-36.5-11.5 2.2-2.2-14.6-0.2 12.1 8.2-0.5-3.1 36.4 11.4zM325.7 692.1l-40.0-10.7 2.1-2.3-14.6 0.4 12.4 7.7-0.6-3.1 40.0 10.8zM346.5 692.1l-40.6-7.9 1.9-2.5-14.6 1.5 13.0 6.8-0.9-3.0 40.7 7.9zM367.3 692.1l-41.1-5.0 1.7-2.7-14.4 2.5 13.4 5.9-1.0-3.0 41.0 5.1zM388.1 692.1l-41.3-3.3 1.7-2.6-14.3 3.0 13.6 5.3-1.2-2.9 41.3 3.3zM409.0 692.1l-41.3-2.6 1.5-2.7-14.2 3.3 13.7 5.1-1.2-2.9 41.3 2.6zM429.9 692.1l-41.4-1.9 1.5-2.7-14.1 3.5 13.7 4.8-1.2-2.8 41.3 1.9zM450.8 692.1l-41.3-2.9 1.6-2.7-14.3 3.2 13.7 5.2-1.2-2.9 41.3 2.9zM471.7 692.1l-41.2-3.9 1.7-2.6-14.4 2.8 13.6 5.5-1.2-2.9 41.3 3.9zM492.5 692.1l-41.3-1.7 1.5-2.7-14.2 3.6 13.8 4.8-1.2-2.9 41.3 1.7zM513.2 692.1l-40.6 3.8 1.1-2.9-13.5 5.5 14.3 2.8-1.7-2.6 40.7-3.8zM534.0 692.1l-34.1 7.8 0.7-3.0-12.7 7.2 14.6 1.0-2.0-2.5 34.1-7.7zM554.8 692.1l-28.4 7.6 0.6-3.1-12.4 7.7 14.6 0.4-2.1-2.3 28.4-7.5zM575.6 692.2l-28.1 8.5 0.5-3.1-12.1 8.1 14.6-0.1-2.2-2.2 28.2-8.6zM596.5 692.2l-27.9 9.1 0.4-3.1-12.0 8.3 14.6-0.3-2.2-2.3 28.0-9.1zM617.4 692.2l-27.9 9.3 0.5-3.1-12.0 8.4 14.6-0.4-2.2-2.2 27.9-9.4zM638.3 692.2l-27.8 9.5 0.4-3.1-11.9 8.5 14.6-0.5-2.2-2.2 27.8-9.6zM659.2 692.2l-27.8 9.5 0.4-3.1-11.9 8.5 14.6-0.5-2.2-2.2 27.8-9.6zM680.1 692.2l-27.8 9.5 0.4-3.1-11.9 8.5 14.6-0.5-2.2-2.2 27.8-9.6zM701.0 692.2l-27.9 9.3 0.4-3.1-11.9 8.5 14.6-0.5-2.2-2.2 27.9-9.4zM721.9 692.2l-19.8 6.4 0.5-3.1-12.1 8.3 14.7-0.3-2.2-2.3 19.7-6.4zM742.8 692.2l-16.6 5.1 0.5-3.1-12.1 8.2 14.6-0.1-2.2-2.3 16.6-5.2zM763.8 692.1l-17.0 3.9 0.8-3.0-12.7 7.2 14.5 1.0-1.9-2.4 16.9-3.9zM784.8 692.1l-17.2 2.6 0.9-3.0-13.2 6.3 14.5 2.0-1.8-2.5 17.2-2.6zM805.7 692.1l-17.3 2.0 1.1-3.0-13.4 5.8 14.4 2.6-1.7-2.7 17.2-1.9zM826.6 692.1l-17.3 1.9 1.1-2.9-13.4 5.7 14.3 2.6-1.7-2.6 17.3-1.9zM847.5 692.1l-17.3 1.8 1.1-2.9-13.5 5.7 14.4 2.7-1.7-2.7 17.3-1.8zM868.4 692.1l-17.3 1.8 1.1-2.9-13.5 5.6 14.4 2.7-1.7-2.6 17.3-1.8zM889.3 692.1l-18.8 1.9 1.1-2.9-13.5 5.5 14.3 2.8-1.6-2.6 18.8-1.9zM910.1 692.1l-28.1 4.6 0.9-3.0-13.1 6.5 14.4 1.8-1.8-2.5 28.2-4.6zM930.9 692.2l-28.3 8.2 0.6-3.1-12.3 7.9 14.6 0.2-2.1-2.3 28.2-8.3zM951.6 692.2l-27.1 11.4 0.2-3.1-11.3 9.3 14.6-1.6-2.4-2.0 27.1-11.4zM972.5 692.2l-27.0 11.6 0.2-3.1-11.2 9.4 14.5-1.7-2.4-2.0 27.0-11.6zM993.4 692.2l-26.9 11.8 0.1-3.1-11.1 9.5 14.5-1.8-2.4-2.0 26.9-11.8zM1014.3 692.2l-27.1 11.5 0.2-3.1-11.2 9.4 14.5-1.7-2.4-2.0 27.1-11.5zM1035.2 692.2l-35.6 14.0 0.3-3.1-11.5 9.0 14.6-1.2-2.3-2.1 35.5-14.0zM1056.1 692.2l-38.9 14.2 0.4-3.2-11.7 8.8 14.6-0.9-2.3-2.1 38.9-14.2zM1077.0 692.2l-38.8 14.5 0.4-3.2-11.7 8.9 14.6-1.0-2.3-2.1 38.8-14.5zM1097.9 692.2l-38.7 14.8 0.3-3.2-11.5 9.0 14.5-1.1-2.3-2.1 38.7-14.8zM1118.8 692.2l-38.6 14.9 0.3-3.1-11.6 8.9 14.6-1.1-2.3-2.1 38.6-14.9zM1139.7 692.2l-47.0 18.1 0.3-3.1-11.5 8.9 14.6-1.1-2.4-2.1 47.0-18.1zM1160.6 692.2l-49.8 19.2 0.3-3.1-11.6 9.0 14.6-1.2-2.3-2.1 49.8-19.2zM1181.5 692.2l-53.6 21.1 0.3-3.1-11.5 9.1 14.6-1.3-2.3-2.1 53.5-21.1zM1202.3 692.2l-60.6 24.5 0.2-3.2-11.4 9.2 14.6-1.4-2.4-2.0 60.7-24.5zM1223.3 692.2l-60.9 24.0 0.3-3.1-11.5 9.0 14.6-1.2-2.4-2.1 60.9-24.0zM1244.2 692.2l-61.3 22.8 0.3-3.2-11.7 8.9 14.6-1.0-2.3-2.1 61.3-22.8zM1265.1 692.2l-61.8 21.5 0.4-3.1-11.8 8.6 14.6-0.7-2.2-2.1 61.7-21.6zM1286.0 692.2l-58.4 19.1 0.5-3.1-12.0 8.4 14.6-0.4-2.2-2.2 58.4-19.2zM1306.9 692.2l-51.8 15.9 0.5-3.1-12.1 8.2 14.6-0.1-2.2-2.3 51.9-16.0zM1327.8 692.2l-51.9 15.5 0.5-3.1-12.2 8.0 14.7 0.1-2.2-2.3 51.9-15.6zM95.8 713.0l-16.9-4.1 2.1-2.4-14.6 0.7 12.5 7.5-0.6-3.1 16.9 4.2zM116.7 713.0l-18.4-4.5 2.1-2.4-14.6 0.8 12.6 7.4-0.7-3.1 18.3 4.6zM137.7 713.1l-22.2-6.3 2.1-2.3-14.6 0.2 12.3 7.9-0.6-3.1 22.2 6.2zM158.6 713.1l-28.2-9.1 2.1-2.2-14.6-0.3 12.1 8.3-0.5-3.1 28.2 9.0zM179.5 713.1l-30.2-11.0 2.2-2.2-14.5-0.8 11.7 8.7-0.4-3.1 30.3 11.0zM200.5 713.1l-35.7-14.8 2.4-2.0-14.6-1.5 11.4 9.2-0.3-3.1 35.7 14.8zM221.4 713.1l-41.4-19.2 2.5-2.0-14.5-2.1 10.9 9.7-0.1-3.1 41.5 19.3zM242.3 713.1l-44.9-20.2 2.4-2.0-14.5-1.9 11.1 9.6-0.2-3.2 45.0 20.3zM263.2 713.1l-42.4-18.4 2.4-2.0-14.5-1.7 11.1 9.4-0.1-3.1 42.4 18.4zM284.0 713.1l-36.4-14.4 2.3-2.1-14.5-1.2 11.4 9.1-0.2-3.2 36.4 14.4zM304.9 713.1l-38.4-12.7 2.2-2.2-14.6-0.4 12.0 8.4-0.5-3.1 38.4 12.6zM325.7 713.0l-40.0-10.7 2.1-2.3-14.6 0.4 12.4 7.7-0.6-3.1 40.0 10.8zM346.5 713.0l-40.6-7.9 1.9-2.5-14.6 1.5 13.0 6.8-0.9-3.0 40.7 7.9zM367.3 713.0l-41.1-5.0 1.7-2.7-14.4 2.5 13.4 5.9-1.0-3.0 41.0 5.1zM388.1 713.0l-41.2-3.4 1.6-2.7-14.3 3.0 13.6 5.4-1.2-2.9 41.3 3.4zM409.0 713.0l-41.3-3.1 1.6-2.7-14.2 3.1 13.6 5.3-1.2-2.9 41.3 3.1zM429.9 713.0l-41.3-2.8 1.6-2.7-14.3 3.3 13.7 5.1-1.2-2.9 41.3 2.8zM450.8 713.0l-41.2-4.0 1.7-2.6-14.4 2.8 13.6 5.5-1.2-2.9 41.3 4.0zM471.8 713.0l-40.2-5.1 1.7-2.6-14.4 2.4 13.4 5.9-1.1-2.9 40.2 5.1zM492.6 713.0l-33.3-2.7 1.6-2.7-14.3 3.0 13.6 5.4-1.2-3.0 33.4 2.8zM513.3 713.0l-32.5 1.2 1.2-2.9-13.8 4.8 14.2 3.6-1.5-2.7 32.5-1.2zM534.0 713.0l-35.0 5.5 1.0-3.0-13.2 6.3 14.5 2.0-1.8-2.6 35.0-5.4zM554.9 713.0l-37.5 7.2 0.8-3.0-12.9 6.8 14.5 1.4-1.9-2.4 37.5-7.2zM575.7 713.0l-36.3 8.3 0.8-3.0-12.8 7.2 14.6 1.0-2.0-2.5 36.4-8.2zM596.6 713.0l-29.2 7.6 0.6-3.1-12.5 7.6 14.6 0.6-2.0-2.4 29.2-7.5zM617.5 713.1l-28.3 7.9 0.5-3.1-12.3 7.9 14.6 0.2-2.1-2.3 28.3-8.0zM638.3 713.1l-28.1 8.5 0.5-3.1-12.1 8.1 14.6 0.0-2.2-2.3 28.1-8.6zM659.2 713.1l-28.1 8.5 0.5-3.1-12.2 8.1 14.7 0.0-2.2-2.3 28.1-8.6zM680.1 713.1l-28.1 8.5 0.5-3.1-12.2 8.1 14.7 0.0-2.2-2.3 28.1-8.6zM701.0 713.1l-28.1 8.4 0.5-3.0-12.2 8.0 14.6 0.0-2.1-2.3 28.1-8.5zM721.9 713.1l-26.0 7.6 0.6-3.0-12.3 7.9 14.6 0.1-2.1-2.3 26.0-7.7zM742.8 713.1l-25.2 7.2 0.6-3.1-12.3 8.0 14.6 0.1-2.1-2.3 25.2-7.3zM763.8 713.0l-22.8 5.4 0.7-3.0-12.6 7.3 14.6 0.9-2.0-2.4 22.7-5.4zM784.7 713.0l-17.1 3.2 0.9-3.0-13.0 6.7 14.5 1.6-1.9-2.5 17.1-3.2zM805.7 713.0l-17.2 2.8 0.9-3.0-13.1 6.3 14.4 2.0-1.8-2.6 17.2-2.7zM826.6 713.0l-17.2 2.6 0.9-3.0-13.2 6.3 14.5 2.0-1.8-2.5 17.2-2.6zM847.5 713.0l-17.3 2.5 1.0-3.0-13.2 6.1 14.4 2.2-1.8-2.6 17.3-2.4zM868.4 713.0l-20.1 2.7 1.0-3.0-13.3 6.0 14.4 2.4-1.7-2.6 20.1-2.7zM889.3 713.0l-26.4 3.3 1.0-3.0-13.4 5.9 14.5 2.5-1.8-2.6 26.4-3.3zM910.1 713.0l-28.8 4.8 1.0-3.0-13.2 6.4 14.5 1.9-1.8-2.6 28.8-4.7zM930.9 713.0l-28.5 7.3 0.7-3.1-12.6 7.5 14.6 0.6-2.0-2.3 28.5-7.2zM951.7 713.1l-27.8 9.5 0.4-3.1-11.9 8.5 14.6-0.6-2.2-2.2 27.8-9.5zM972.6 713.1l-27.7 10.1 0.4-3.1-11.7 8.7 14.6-0.8-2.3-2.2 27.6-10.1zM993.4 713.1l-27.4 10.7 0.3-3.1-11.5 9.0 14.6-1.2-2.3-2.1 27.3-10.7zM1014.3 713.1l-27.3 10.8 0.2-3.1-11.5 9.0 14.6-1.2-2.3-2.1 27.3-10.8zM1035.2 713.1l-35.7 13.5 0.3-3.1-11.6 8.9 14.6-1.0-2.3-2.2 35.7-13.5zM1056.1 713.1l-38.9 14.2 0.4-3.1-11.7 8.7 14.6-0.8-2.3-2.2 38.9-14.2zM1077.0 713.1l-38.6 15.0 0.3-3.1-11.5 9.0 14.6-1.2-2.4-2.1 38.6-15.0zM1097.9 713.1l-38.3 15.9 0.2-3.2-11.3 9.3 14.6-1.5-2.4-2.0 38.2-15.9zM1118.7 713.1l-38.0 16.2 0.2-3.1-11.3 9.4 14.5-1.7-2.3-2.0 38.0-16.2zM1139.6 713.1l-46.2 19.7 0.1-3.1-11.2 9.4 14.5-1.7-2.3-2.0 46.2-19.7zM1160.5 713.1l-49.1 21.0 0.2-3.1-11.2 9.4 14.5-1.7-2.4-2.0 49.1-21.0zM1181.4 713.1l-49.6 22.5 0.1-3.1-11.0 9.6 14.4-1.9-2.4-2.0 49.7-22.5zM1202.3 713.1l-51.1 24.5 0.1-3.1-10.8 9.8 14.4-2.2-2.4-2.0 51.0-24.4zM1223.1 713.1l-50.6 25.2 0.0-3.1-10.7 10.0 14.4-2.5-2.5-1.9 50.7-25.1zM1244.0 713.2l-44.5 22.6-0.1-3.2-10.5 10.1 14.3-2.6-2.5-1.8 44.6-22.7zM1264.9 713.2l-42.5 21.8 0.0-3.1-10.5 10.2 14.4-2.7-2.6-1.9 42.5-21.9zM1285.8 713.1l-42.0 20.3 0.1-3.1-10.8 9.8 14.4-2.3-2.5-1.9 42.1-20.2zM1306.8 713.1l-40.7 18.3 0.1-3.1-11.0 9.5 14.5-1.9-2.5-2.0 40.7-18.2zM1327.7 713.1l-40.9 17.8 0.2-3.1-11.2 9.4 14.5-1.7-2.4-2.0 40.9-17.8zM95.7 733.9l-17.1-3.0 1.9-2.5-14.6 1.7 13.1 6.6-0.9-3.0 17.1 3.0zM116.6 733.9l-17.1-3.0 1.8-2.5-14.5 1.7 13.1 6.6-0.9-3.0 17.1 3.0zM137.6 733.9l-20.4-4.2 2.0-2.5-14.6 1.2 12.9 7.0-0.8-3.0 20.3 4.3zM158.5 733.9l-28.5-7.0 2.0-2.4-14.6 0.7 12.6 7.5-0.7-3.1 28.5 7.1zM179.5 734.0l-28.2-8.5 2.2-2.3-14.6-0.1 12.1 8.1-0.5-3.1 28.2 8.5zM200.5 734.0l-35.2-13.4 2.3-2.1-14.6-1.1 11.6 8.9-0.3-3.1 35.2 13.4zM221.4 734.0l-40.0-18.5 2.5-2.0-14.5-2.0 10.9 9.7-0.1-3.2 40.1 18.6zM242.3 734.0l-42.6-19.8 2.5-1.9-14.5-2.1 10.9 9.7 0.0-3.1 42.6 19.8zM263.2 734.0l-42.1-19.5 2.4-2.0-14.4-2.1 10.9 9.7-0.1-3.1 42.2 19.6zM284.1 734.0l-38.7-16.4 2.4-2.0-14.5-1.6 11.2 9.3-0.2-3.1 38.7 16.4zM304.9 734.0l-39.2-13.5 2.3-2.2-14.6-0.5 11.8 8.5-0.4-3.1 39.2 13.4zM325.7 733.9l-40.0-10.6 2.1-2.4-14.6 0.5 12.4 7.6-0.6-3.0 40.0 10.7zM346.5 733.9l-40.7-7.9 2.0-2.4-14.6 1.4 13.0 6.8-0.9-3.0 40.7 7.9zM367.3 733.9l-41.7-5.1 1.7-2.6-14.4 2.4 13.4 5.9-1.1-2.9 41.7 5.1zM388.1 733.9l-47.0-4.1 1.7-2.7-14.3 3.0 13.6 5.4-1.2-2.9 47.0 4.1zM409.0 733.9l-47.6-4.2 1.6-2.6-14.3 2.9 13.6 5.4-1.2-2.9 47.7 4.2zM429.9 733.9l-47.6-4.2 1.6-2.6-14.3 2.9 13.6 5.4-1.2-2.9 47.7 4.2zM450.9 733.9l-45.6-5.6 1.7-2.6-14.4 2.5 13.4 5.8-1.0-2.9 45.5 5.6zM471.8 733.9l-40.3-6.4 1.8-2.5-14.5 1.9 13.2 6.4-1.0-3.0 40.4 6.4zM492.6 733.9l-36.0-4.4 1.7-2.6-14.4 2.4 13.4 5.9-1.1-3.0 36.1 4.5zM513.4 733.9l-35.8-0.6 1.4-2.8-14.0 3.9 13.9 4.5-1.4-2.8 35.8 0.6zM534.1 733.9l-38.5 3.3 1.2-2.9-13.6 5.4 14.3 3.0-1.6-2.7 38.5-3.3zM555.0 733.9l-41.1 5.0 1.0-3.0-13.3 5.9 14.4 2.5-1.8-2.6 41.1-5.0zM575.8 733.9l-40.3 6.3 1.0-3.0-13.2 6.4 14.5 1.9-1.8-2.5 40.3-6.3zM596.7 733.9l-35.7 6.9 0.9-3.0-13.0 6.7 14.5 1.5-1.9-2.5 35.7-6.8zM617.5 733.9l-34.9 8.0 0.7-3.0-12.7 7.2 14.6 1.0-2.0-2.5 35.0-7.9zM638.4 733.9l-31.5 8.4 0.7-3.1-12.5 7.6 14.6 0.5-2.1-2.3 31.5-8.3zM659.3 733.9l-28.4 7.6 0.6-3.1-12.5 7.7 14.6 0.4-2.0-2.3 28.4-7.5zM680.2 733.9l-28.5 7.6 0.7-3.1-12.5 7.7 14.6 0.4-2.0-2.3 28.4-7.5zM701.1 733.9l-28.5 7.6 0.7-3.1-12.5 7.7 14.6 0.4-2.0-2.3 28.4-7.5zM722.0 733.9l-28.5 7.6 0.7-3.1-12.5 7.7 14.6 0.4-2.0-2.3 28.4-7.5zM742.8 733.9l-28.4 7.6 0.7-3.1-12.5 7.7 14.6 0.4-2.1-2.3 28.5-7.5zM763.8 733.9l-26.9 6.6 0.7-3.1-12.6 7.4 14.6 0.8-2.0-2.4 26.8-6.5zM784.7 733.9l-23.3 5.2 0.8-3.1-12.8 7.2 14.6 1.0-2.0-2.4 23.3-5.1zM805.6 733.9l-23.3 4.8 0.8-3.0-12.9 6.9 14.6 1.3-2.0-2.5 23.4-4.7zM826.5 733.9l-23.4 4.5 0.9-3.1-13.0 6.8 14.5 1.5-1.9-2.5 23.4-4.4zM847.4 733.9l-23.4 4.1 0.9-3.0-13.1 6.6 14.5 1.7-1.9-2.5 23.5-4.1zM868.3 733.9l-25.3 4.1 1.0-3.0-13.2 6.4 14.5 1.9-1.8-2.5 25.3-4.1zM889.3 733.9l-29.1 4.3 0.9-3.0-13.2 6.2 14.5 2.1-1.8-2.5 29.1-4.3zM910.1 733.9l-29.0 4.9 0.9-3.0-13.1 6.4 14.5 1.8-1.8-2.5 29.0-4.8zM931.0 733.9l-28.8 6.2 0.8-3.0-12.8 7.1 14.6 1.1-2.0-2.4 28.7-6.2zM951.8 733.9l-28.4 7.6 0.6-3.1-12.4 7.7 14.6 0.5-2.1-2.4 28.4-7.5zM972.6 734.0l-30.1 9.1 0.5-3.1-12.2 8.1 14.6 0.0-2.1-2.3 30.1-9.2zM993.5 734.0l-33.1 11.3 0.4-3.1-11.9 8.5 14.6-0.5-2.2-2.2 33.1-11.4zM1014.4 734.0l-28.1 10.1 0.4-3.1-11.8 8.7 14.6-0.8-2.2-2.2 28.0-10.1zM1035.2 734.0l-35.9 13.0 0.3-3.1-11.7 8.7 14.6-0.8-2.3-2.2 36.0-13.0zM1056.1 734.0l-38.9 14.1 0.4-3.1-11.7 8.8 14.6-0.9-2.3-2.1 38.9-14.2zM1077.0 734.0l-38.4 15.5 0.2-3.1-11.4 9.1 14.6-1.3-2.4-2.1 38.4-15.5zM1097.8 734.0l-37.8 16.9 0.2-3.2-11.1 9.6 14.5-1.9-2.4-2.0 37.8-16.8zM1118.7 734.0l-37.5 17.5 0.1-3.1-11.0 9.7 14.5-2.1-2.4-2.0 37.5-17.4zM1139.6 734.0l-41.3 19.3 0.1-3.1-10.9 9.7 14.5-2.1-2.5-2.0 41.3-19.2zM1160.5 734.0l-42.5 20.0 0.1-3.1-10.9 9.8 14.4-2.2-2.4-1.9 42.5-20.0zM1181.3 734.1l-41.7 21.5-0.1-3.2-10.5 10.2 14.4-2.7-2.5-1.9 41.7-21.5zM1202.2 734.1l-41.0 23.0-0.1-3.2-10.2 10.5 14.3-3.1-2.6-1.8 41.0-23.0zM1223.0 734.1l-40.1 24.4-0.3-3.1-9.7 10.9 14.1-3.7-2.6-1.7 40.1-24.4zM1243.9 734.1l-35.8 23.6-0.3-3.1-9.4 11.2 14.0-4.2-2.7-1.6 35.7-23.5zM1264.7 734.2l-33.8 23.8-0.5-3.1-9.0 11.5 13.9-4.6-2.8-1.5 33.9-23.9zM1285.7 734.1l-34.7 22.7-0.3-3.1-9.4 11.2 14.0-4.2-2.7-1.6 34.6-22.6zM1306.6 734.1l-34.5 21.0-0.3-3.1-9.8 10.8 14.2-3.7-2.7-1.6 34.6-21.0zM1327.5 734.1l-30.4 17.9-0.2-3.2-9.9 10.7 14.2-3.4-2.7-1.7 30.4-17.9zM95.7 754.8l-17.3-2.4 1.8-2.6-14.4 2.3 13.3 6.1-1.0-3.0 17.2 2.4zM116.6 754.8l-17.3-2.4 1.8-2.6-14.4 2.3 13.3 6.1-1.0-3.0 17.2 2.4zM137.5 754.8l-19.3-3.3 1.8-2.6-14.5 1.8 13.1 6.5-0.9-3.0 19.3 3.4zM158.5 754.8l-25.2-5.3 2.0-2.4-14.6 1.2 12.8 7.0-0.8-3.0 25.2 5.3zM179.4 754.8l-27.9-7.4 2.0-2.3-14.6 0.5 12.5 7.6-0.7-3.0 28.0 7.4zM200.4 754.9l-35.6-12.2 2.2-2.2-14.6-0.5 11.9 8.5-0.4-3.1 35.6 12.1zM221.4 754.9l-38.2-16.1 2.4-2.0-14.5-1.6 11.3 9.3-0.2-3.1 38.1 16.1zM242.3 754.9l-38.1-16.1 2.3-2.0-14.5-1.6 11.3 9.3-0.2-3.1 38.1 16.1zM263.2 754.9l-38.1-16.1 2.3-2.0-14.5-1.6 11.3 9.3-0.2-3.1 38.1 16.1zM284.0 754.9l-38.6-14.8 2.3-2.1-14.6-1.1 11.6 8.9-0.3-3.1 38.6 14.8zM304.8 754.9l-39.6-12.1 2.2-2.3-14.6 0.0 12.1 8.1-0.5-3.1 39.6 12.0zM325.6 754.8l-40.3-9.2 2.0-2.5-14.6 1.0 12.7 7.2-0.7-3.0 40.3 9.3zM346.5 754.8l-40.8-7.0 1.8-2.5-14.5 1.7 13.1 6.6-0.9-3.0 40.8 7.0zM367.3 754.8l-41.9-4.8 1.7-2.7-14.4 2.6 13.4 5.8-1.0-3.0 41.9 4.9zM388.1 754.8l-48.3-4.2 1.6-2.7-14.3 3.0 13.6 5.4-1.2-2.9 48.4 4.2zM409.0 754.8l-52.0-4.5 1.7-2.7-14.3 3.0 13.5 5.4-1.1-3.0 52.0 4.6zM429.9 754.8l-53.2-4.6 1.7-2.7-14.4 2.9 13.6 5.5-1.1-3.0 53.2 4.7zM450.9 754.8l-50.7-6.2 1.8-2.6-14.4 2.4 13.3 5.9-1.0-2.9 50.6 6.2zM471.8 754.8l-44.9-7.1 1.8-2.5-14.4 1.9 13.1 6.4-0.9-3.0 44.9 7.1zM492.7 754.8l-45.1-5.9 1.7-2.5-14.4 2.3 13.4 6.0-1.1-3.0 45.1 5.9zM513.4 754.8l-45.4-1.8 1.5-2.7-14.1 3.6 13.8 4.8-1.3-2.9 45.4 1.8zM534.2 754.8l-43.3 2.2 1.2-2.9-13.8 5.0 14.2 3.4-1.5-2.7 43.3-2.2zM555.0 754.8l-41.2 3.3 1.2-2.9-13.7 5.3 14.3 3.1-1.6-2.7 41.3-3.3zM575.9 754.8l-41.2 4.5 1.1-2.9-13.4 5.7 14.3 2.6-1.6-2.6 41.1-4.5zM596.8 754.8l-41.1 5.7 1.0-3.0-13.2 6.1 14.4 2.2-1.8-2.6 41.0-5.6zM617.6 754.8l-40.8 6.7 0.9-3.0-13.1 6.5 14.5 1.8-1.9-2.5 40.9-6.7zM638.5 754.8l-36.7 7.0 0.9-3.0-13.0 6.8 14.5 1.5-1.9-2.5 36.7-7.0zM659.4 754.8l-32.8 6.6 0.8-3.0-12.9 6.8 14.5 1.4-1.9-2.5 32.8-6.5zM680.2 754.8l-32.7 6.9 0.8-3.0-12.8 6.9 14.5 1.3-1.9-2.5 32.7-6.8zM701.1 754.8l-32.7 7.0 0.8-3.0-12.8 7.0 14.6 1.2-2.0-2.4 32.7-7.0zM722.0 754.8l-32.7 7.0 0.8-3.0-12.8 7.0 14.6 1.2-2.0-2.4 32.7-7.0zM742.9 754.8l-32.7 7.0 0.8-3.0-12.8 7.0 14.5 1.2-1.9-2.4 32.7-7.0zM763.8 754.8l-32.8 6.6 0.9-3.0-12.9 6.9 14.5 1.3-1.9-2.4 32.8-6.6zM784.7 754.8l-32.8 6.2 0.8-3.0-13.0 6.7 14.6 1.6-1.9-2.5 32.9-6.2zM805.6 754.8l-32.9 5.9 0.9-3.0-13.0 6.6 14.5 1.6-1.9-2.5 32.9-5.8zM826.5 754.8l-35.8 6.1 0.9-3.0-13.1 6.5 14.5 1.8-1.8-2.5 35.8-6.1zM847.5 754.8l-37.1 6.0 1.0-3.0-13.2 6.4 14.5 1.9-1.8-2.6 37.0-5.9zM868.4 754.8l-37.1 5.7 1.0-3.0-13.2 6.3 14.4 2.0-1.8-2.6 37.1-5.6zM889.3 754.8l-37.1 5.4 1.0-3.0-13.3 6.2 14.5 2.1-1.8-2.6 37.1-5.3zM910.1 754.8l-37.0 5.6 1.0-3.0-13.3 6.3 14.5 2.0-1.8-2.5 37.1-5.6zM931.0 754.8l-36.9 6.4 0.9-3.0-13.1 6.5 14.5 1.7-1.9-2.5 37.0-6.3zM951.9 754.8l-36.8 7.1 0.8-3.0-12.9 6.8 14.5 1.4-1.9-2.4 36.8-7.1zM972.7 754.8l-37.8 8.7 0.8-3.0-12.7 7.2 14.5 0.9-2.0-2.4 37.9-8.6zM993.6 754.8l-39.0 10.4 0.6-3.0-12.4 7.6 14.6 0.5-2.1-2.4 39.0-10.3zM1014.4 754.9l-32.6 9.5 0.6-3.1-12.3 7.9 14.7 0.2-2.2-2.3 32.6-9.6zM1035.3 754.9l-37.6 11.5 0.6-3.1-12.2 8.2 14.6-0.1-2.1-2.3 37.5-11.6zM1056.2 754.9l-39.4 12.8 0.5-3.1-12.0 8.3 14.6-0.3-2.2-2.3 39.3-12.8zM1077.0 754.9l-38.9 14.1 0.4-3.1-11.7 8.8 14.6-0.9-2.3-2.1 38.9-14.2zM1097.9 754.9l-38.4 15.5 0.2-3.1-11.4 9.1 14.6-1.3-2.4-2.1 38.4-15.5zM1118.7 754.9l-37.8 16.7 0.1-3.1-11.1 9.5 14.5-1.8-2.4-2.0 37.9-16.7zM1139.6 754.9l-37.4 17.9 0.1-3.2-10.8 9.9 14.4-2.3-2.5-1.9 37.4-17.8zM1160.4 755.0l-36.8 18.9 0.0-3.1-10.5 10.1 14.3-2.7-2.5-1.8 36.8-19.0zM1181.3 755.0l-35.8 20.7-0.2-3.1-10.0 10.7 14.2-3.4-2.6-1.7 35.8-20.8zM1202.1 755.0l-34.7 22.5-0.4-3.1-9.5 11.2 14.1-4.1-2.7-1.6 34.7-22.5zM1222.9 755.1l-33.5 24.2-0.5-3.1-9.0 11.6 13.9-4.8-2.8-1.5 33.6-24.2zM1243.8 755.1l-32.4 25.8-0.6-3.0-8.3 12.0 13.5-5.5-2.8-1.3 32.3-25.8zM1264.6 755.1l-29.4 25.9-0.8-3.1-7.8 12.4 13.3-6.0-2.9-1.2 29.5-25.8zM1285.5 755.1l-28.2 24.5-0.8-3.0-7.8 12.3 13.3-6.0-2.9-1.2 28.3-24.4zM1306.4 755.1l-27.4 23.5-0.8-3.0-7.9 12.3 13.4-5.9-2.9-1.2 27.5-23.5zM1327.3 755.1l-22.6 19.3-0.8-3.0-7.9 12.3 13.4-5.9-2.9-1.2 22.6-19.3zM95.6 775.7l-17.3-1.8 1.7-2.6-14.4 2.7 13.5 5.6-1.1-2.9 17.3 1.8zM116.5 775.7l-17.3-1.8 1.7-2.6-14.4 2.7 13.5 5.6-1.1-2.9 17.3 1.8zM137.5 775.7l-17.7-2.4 1.7-2.6-14.4 2.2 13.3 6.1-1.0-3.0 17.7 2.5zM158.4 775.7l-19.6-3.4 1.9-2.5-14.5 1.7 13.0 6.6-0.9-3.0 19.6 3.4zM179.4 775.7l-27.5-6.2 2.0-2.4-14.6 1.0 12.7 7.2-0.7-3.1 27.5 6.3zM200.4 775.8l-35.0-10.6 2.2-2.3-14.6 0.0 12.2 8.1-0.6-3.1 35.0 10.5zM221.4 775.8l-37.2-14.1 2.3-2.2-14.6-1.0 11.6 8.9-0.3-3.1 37.2 14.1zM242.2 775.8l-37.1-14.2 2.3-2.1-14.6-1.1 11.6 8.9-0.3-3.1 37.1 14.2zM263.1 775.8l-37.1-14.2 2.3-2.1-14.6-1.1 11.6 8.9-0.3-3.1 37.1 14.2zM284.0 775.8l-37.6-12.9 2.2-2.2-14.6-0.6 11.9 8.5-0.4-3.1 37.6 12.9zM304.8 775.7l-39.5-10.5 2.1-2.3-14.6 0.4 12.4 7.7-0.6-3.1 39.5 10.6zM325.6 775.7l-40.7-7.8 1.9-2.5-14.5 1.4 13.0 6.8-0.9-3.0 40.7 7.9zM346.4 775.7l-40.9-6.1 1.8-2.6-14.5 2.1 13.2 6.2-0.9-3.0 40.9 6.2zM367.3 775.7l-41.2-4.5 1.7-2.6-14.4 2.7 13.5 5.7-1.1-3.0 41.2 4.5zM388.1 775.7l-41.2-3.6 1.6-2.7-14.3 3.0 13.6 5.4-1.2-2.9 41.3 3.6zM409.0 775.7l-48.4-4.2 1.6-2.7-14.3 3.0 13.6 5.4-1.2-2.9 48.5 4.2zM429.9 775.7l-51.5-4.5 1.6-2.7-14.3 3.0 13.6 5.4-1.2-2.9 51.6 4.5zM450.9 775.7l-51.4-6.3 1.7-2.6-14.4 2.5 13.4 5.8-1.0-2.9 51.3 6.3zM471.8 775.7l-51.1-8.1 1.8-2.5-14.5 1.9 13.2 6.4-0.9-3.0 51.1 8.1zM492.7 775.7l-51.3-7.0 1.8-2.6-14.5 2.3 13.3 6.0-1.0-2.9 51.3 7.0zM513.5 775.7l-52.9-3.2 1.6-2.7-14.2 3.4 13.7 5.0-1.2-2.9 52.8 3.2zM534.2 775.7l-48.1 0.8 1.3-2.9-13.9 4.5 14.1 3.9-1.5-2.7 48.2-0.8zM555.1 775.7l-42.5 1.7 1.3-2.9-13.8 4.8 14.1 3.6-1.5-2.7 42.5-1.7zM576.0 775.7l-41.4 2.6 1.3-2.9-13.7 5.1 14.2 3.3-1.6-2.7 41.3-2.6zM596.8 775.7l-41.2 3.5 1.1-2.9-13.6 5.3 14.3 3.0-1.6-2.7 41.3-3.4zM617.7 775.7l-41.2 4.2 1.1-2.9-13.5 5.6 14.4 2.7-1.7-2.6 41.2-4.2zM638.6 775.7l-41.1 4.9 1.0-2.9-13.4 5.8 14.4 2.5-1.7-2.6 41.1-4.9zM659.4 775.7l-41.0 5.6 1.0-2.9-13.3 6.0 14.5 2.3-1.8-2.6 41.0-5.6zM680.3 775.7l-40.9 6.3 1.0-2.9-13.2 6.3 14.4 2.0-1.8-2.6 40.9-6.3zM701.2 775.7l-40.9 6.7 1.0-3.0-13.2 6.4 14.5 1.9-1.8-2.6 40.8-6.6zM722.1 775.7l-42.0 6.9 0.9-3.0-13.2 6.4 14.5 1.9-1.8-2.6 42.0-6.8zM743.0 775.7l-42.5 6.9 0.9-2.9-13.1 6.4 14.5 1.8-1.9-2.5 42.5-6.9zM763.9 775.7l-42.5 6.8 0.9-3.0-13.2 6.3 14.5 2.0-1.8-2.5 42.5-6.8zM784.8 775.7l-42.6 6.6 1.0-3.0-13.2 6.3 14.5 2.0-1.8-2.5 42.5-6.6zM805.7 775.7l-42.6 6.5 1.0-3.0-13.2 6.3 14.4 2.0-1.8-2.5 42.6-6.5zM826.6 775.7l-50.0 7.5 1.0-3.0-13.3 6.2 14.5 2.1-1.8-2.5 50.0-7.5zM847.5 775.7l-52.9 7.8 1.0-3.0-13.2 6.2 14.4 2.1-1.8-2.6 52.9-7.7zM868.4 775.7l-52.9 7.6 1.0-2.9-13.3 6.1 14.5 2.2-1.8-2.6 52.9-7.6zM889.3 775.7l-52.9 7.5 1.0-3.0-13.3 6.2 14.5 2.2-1.8-2.6 52.9-7.5zM910.2 775.7l-52.9 7.2 1.0-3.0-13.3 6.1 14.4 2.3-1.8-2.6 52.9-7.2zM931.1 775.7l-53.0 6.8 1.0-3.0-13.3 5.9 14.4 2.4-1.7-2.6 52.9-6.7zM952.0 775.7l-52.2 6.3 1.1-2.9-13.4 5.8 14.4 2.5-1.7-2.6 52.1-6.3zM972.8 775.7l-47.7 7.5 0.9-3.0-13.1 6.3 14.4 2.0-1.8-2.6 47.8-7.4zM993.7 775.7l-40.7 7.8 0.9-3.0-13.0 6.8 14.5 1.5-1.9-2.5 40.7-7.8zM1014.5 775.7l-40.4 9.1 0.8-3.0-12.8 7.2 14.6 1.0-2.0-2.4 40.4-9.1zM1035.4 775.7l-40.1 10.3 0.6-3.1-12.5 7.6 14.6 0.6-2.0-2.4 40.1-10.2zM1056.2 775.8l-38.9 11.1 0.6-3.1-12.3 7.9 14.6 0.2-2.1-2.3 38.9-11.2zM1077.1 775.8l-37.8 12.3 0.4-3.1-12.0 8.3 14.6-0.4-2.2-2.2 37.8-12.3zM1097.9 775.8l-37.3 13.6 0.3-3.1-11.7 8.7 14.6-0.8-2.3-2.2 37.4-13.6zM1118.8 775.8l-36.7 15.4 0.2-3.2-11.3 9.3 14.5-1.5-2.3-2.1 36.6-15.3zM1139.6 775.8l-35.7 17.5 0.0-3.2-10.8 9.9 14.5-2.3-2.5-1.9 35.7-17.4zM1160.4 775.9l-34.7 19.4-0.1-3.1-10.2 10.5 14.3-3.2-2.6-1.7 34.7-19.5zM1181.2 775.9l-33.3 21.6-0.4-3.1-9.5 11.2 14.1-4.1-2.7-1.6 33.3-21.6zM1202.0 776.0l-31.9 23.7-0.5-3.1-8.8 11.7 13.8-5.0-2.8-1.4 31.9-23.7zM1222.9 776.0l-30.4 25.7-0.7-3.0-8.0 12.2 13.4-5.8-2.9-1.3 30.4-25.6zM1243.7 776.1l-28.7 27.5-0.9-2.9-7.2 12.7 13.0-6.7-2.9-1.0 28.6-27.6zM1264.5 776.2l-22.4 24.3-1.1-2.9-6.4 13.2 12.6-7.5-3.1-0.9 22.5-24.4zM1285.4 776.2l-18.3 20.8-1.2-2.9-6.1 13.3 12.4-7.7-3.0-0.8 18.3-20.9zM1306.3 776.2l-18.0 21.4-1.3-2.8-5.8 13.4 12.3-8.0-3.1-0.8 18.0-21.4zM1327.2 776.2l-18.7 22.7-1.3-2.9-5.6 13.5 12.1-8.2-3.0-0.7 18.6-22.6zM95.6 796.6l-17.3-1.8 1.7-2.7-14.3 2.7 13.4 5.7-1.1-3.0 17.3 1.9zM116.5 796.6l-17.3-1.8 1.7-2.7-14.3 2.7 13.4 5.7-1.1-3.0 17.3 1.9zM137.5 796.6l-20.4-2.7 1.7-2.6-14.4 2.3 13.3 6.0-1.0-2.9 20.4 2.7zM158.4 796.6l-28.4-4.6 1.9-2.5-14.5 1.9 13.1 6.4-0.9-3.0 28.3 4.6zM179.4 796.6l-28.7-6.0 1.9-2.5-14.5 1.2 12.8 7.0-0.8-3.0 28.7 6.1zM200.3 796.7l-28.7-8.2 2.1-2.4-14.6 0.2 12.3 7.9-0.6-3.1 28.8 8.2zM221.3 796.7l-28.3-10.3 2.3-2.1-14.6-0.9 11.7 8.8-0.3-3.2 28.3 10.3zM242.2 796.7l-28.3-10.3 2.3-2.2-14.6-0.8 11.7 8.7-0.3-3.1 28.3 10.3zM263.1 796.7l-28.3-10.3 2.3-2.2-14.6-0.8 11.7 8.7-0.4-3.1 28.4 10.3zM284.0 796.7l-28.7-9.4 2.2-2.2-14.6-0.3 12.0 8.3-0.4-3.1 28.6 9.3zM304.8 796.6l-36.8-9.2 2.0-2.3-14.6 0.6 12.6 7.5-0.7-3.0 36.8 9.2zM325.6 796.6l-40.8-7.2 1.9-2.5-14.5 1.7 13.0 6.6-0.9-3.0 40.8 7.2zM346.4 796.6l-41.0-5.8 1.8-2.5-14.5 2.2 13.3 6.1-1.0-3.0 41.0 5.8zM367.3 796.6l-41.2-4.3 1.7-2.7-14.4 2.7 13.5 5.7-1.1-2.9 41.2 4.3zM388.1 796.6l-41.2-3.4 1.6-2.7-14.3 3.0 13.6 5.4-1.2-3.0 41.3 3.5zM409.0 796.6l-41.8-3.2 1.6-2.7-14.3 3.2 13.7 5.2-1.2-2.9 41.8 3.2zM429.9 796.6l-42.0-2.9 1.5-2.7-14.2 3.3 13.7 5.1-1.2-2.9 42.0 2.9zM450.8 796.6l-41.9-4.0 1.6-2.7-14.3 2.9 13.5 5.5-1.1-2.9 42.0 4.0zM471.8 796.6l-41.9-5.1 1.8-2.7-14.4 2.5 13.3 5.9-1.0-3.0 41.8 5.2zM492.6 796.6l-41.9-4.6 1.7-2.6-14.3 2.7 13.4 5.7-1.1-3.0 41.9 4.6zM513.4 796.6l-49.9-2.7 1.5-2.7-14.2 3.4 13.7 5.0-1.2-2.9 50.0 2.7zM534.3 796.6l-53.1 0.0 1.4-2.8-14.0 4.2 14.0 4.2-1.4-2.8 53.1 0.0zM555.1 796.6l-49.2 1.0 1.4-2.9-13.9 4.5 14.0 3.9-1.4-2.7 49.2-1.0zM576.0 796.6l-41.4 1.6 1.3-2.8-13.8 4.7 14.1 3.7-1.5-2.8 41.4-1.6zM596.9 796.6l-41.4 2.3 1.3-2.8-13.8 4.9 14.2 3.5-1.5-2.8 41.3-2.3zM617.7 796.6l-41.3 3.0 1.2-2.9-13.6 5.2 14.2 3.2-1.6-2.7 41.3-3.0zM638.6 796.6l-41.2 3.6 1.1-2.9-13.6 5.4 14.4 3.0-1.7-2.7 41.3-3.6zM659.5 796.6l-41.2 4.3 1.1-2.9-13.5 5.6 14.4 2.7-1.7-2.6 41.2-4.3zM680.4 796.6l-41.1 5.0 1.0-3.0-13.4 5.9 14.4 2.5-1.7-2.6 41.1-5.0zM701.2 796.6l-41.0 5.3 1.0-3.0-13.3 6.0 14.4 2.4-1.8-2.6 41.1-5.3zM722.1 796.6l-49.0 6.3 1.0-2.9-13.4 5.9 14.5 2.4-1.8-2.6 49.1-6.3zM743.0 796.6l-52.2 6.7 1.0-2.9-13.3 5.9 14.4 2.4-1.8-2.6 52.3-6.7zM763.9 796.6l-52.2 6.7 1.0-2.9-13.3 5.9 14.4 2.4-1.8-2.6 52.3-6.7zM784.8 796.6l-52.2 6.7 1.0-2.9-13.3 5.9 14.4 2.4-1.8-2.6 52.3-6.7zM805.7 796.6l-52.2 6.7 1.0-2.9-13.3 5.9 14.4 2.4-1.8-2.6 52.3-6.7zM826.6 796.6l-52.8 6.8 1.1-2.9-13.4 5.9 14.4 2.4-1.7-2.6 52.8-6.8zM847.5 796.6l-53.0 6.8 1.1-2.9-13.4 5.9 14.4 2.4-1.7-2.6 53.0-6.8zM868.4 796.6l-53.0 6.8 1.1-2.9-13.4 5.9 14.4 2.4-1.7-2.6 52.9-6.8zM889.3 796.6l-53.0 6.8 1.1-2.9-13.4 5.9 14.4 2.4-1.7-2.6 52.9-6.8zM910.2 796.6l-53.1 5.9 1.1-2.9-13.4 5.7 14.3 2.6-1.7-2.6 53.1-5.9zM931.1 796.6l-53.2 4.2 1.2-2.9-13.6 5.3 14.2 3.1-1.6-2.7 53.3-4.2zM952.1 796.6l-47.4 2.4 1.3-2.9-13.8 4.9 14.2 3.5-1.5-2.7 47.3-2.4zM972.9 796.6l-41.7 3.4 1.1-2.9-13.6 5.4 14.3 3.0-1.6-2.7 41.8-3.4zM993.8 796.6l-41.2 4.7 1.1-2.9-13.4 5.7 14.4 2.6-1.7-2.6 41.1-4.7zM1014.6 796.6l-40.9 6.0 0.9-3.0-13.2 6.2 14.5 2.1-1.8-2.5 40.9-6.0zM1035.5 796.6l-40.8 7.3 0.9-3.0-13.0 6.5 14.5 1.7-1.9-2.5 40.8-7.2zM1056.3 796.6l-34.6 7.3 0.8-3.1-12.8 7.0 14.6 1.3-2.0-2.5 34.6-7.2zM1077.2 796.6l-29.3 7.2 0.7-3.0-12.6 7.4 14.6 0.7-2.0-2.3 29.2-7.2zM1098.0 796.7l-29.0 8.2 0.6-3.1-12.3 7.9 14.6 0.2-2.1-2.3 29.0-8.3zM1118.8 796.7l-28.5 9.7 0.5-3.1-11.9 8.6 14.6-0.6-2.3-2.2 28.6-9.8zM1139.6 796.7l-27.7 11.8 0.2-3.2-11.3 9.4 14.6-1.6-2.4-2.1 27.7-11.7zM1160.4 796.8l-26.8 13.6 0.0-3.1-10.6 10.1 14.4-2.6-2.5-1.9 26.8-13.7zM1181.2 796.8l-25.7 15.7-0.2-3.1-9.8 10.9 14.1-3.7-2.6-1.7 25.7-15.7zM1202.1 796.9l-24.5 17.6-0.5-3.1-8.9 11.6 13.8-4.8-2.7-1.4 24.4-17.7zM1222.9 796.9l-23.2 19.3-0.7-3.0-8.1 12.2 13.5-5.8-2.9-1.2 23.2-19.3zM1243.7 797.0l-21.9 20.7-0.9-3.0-7.3 12.6 13.1-6.5-3.0-1.1 21.9-20.7zM1264.5 797.0l-16.1 17.2-1.1-3.0-6.5 13.1 12.7-7.3-3.0-0.9 16.1-17.1zM1285.4 797.1l-12.1 13.4-1.2-2.9-6.2 13.2 12.5-7.6-3.1-0.8 12.2-13.5zM1306.3 797.1l-13.0 15.0-1.2-2.9-6.0 13.3 12.3-7.8-3.0-0.8 13.0-15.0zM1327.2 797.1l-18.8 22.0-1.2-2.9-5.9 13.4 12.3-7.9-3.0-0.8 18.7-22.0zM95.7 817.5l-17.2-2.4 1.7-2.6-14.4 2.2 13.3 6.1-1.0-3.0 17.2 2.5zM116.6 817.5l-17.2-2.4 1.7-2.6-14.4 2.2 13.3 6.1-1.0-3.0 17.2 2.5zM137.5 817.5l-18.1-2.8 1.9-2.5-14.5 2.0 13.2 6.3-1.0-3.0 18.1 2.8zM158.4 817.5l-20.9-3.5 1.8-2.6-14.5 1.9 13.1 6.4-0.9-3.0 20.9 3.6zM179.4 817.5l-27.8-5.8 2.0-2.5-14.6 1.2 12.8 7.0-0.8-3.0 27.8 5.9zM200.3 817.6l-22.4-6.4 2.1-2.4-14.6 0.2 12.3 7.9-0.5-3.1 22.4 6.4zM221.3 817.6l-19.3-7.0 2.3-2.2-14.6-0.8 11.8 8.7-0.4-3.1 19.3 7.0zM242.2 817.6l-19.3-7.0 2.3-2.2-14.6-0.8 11.7 8.7-0.3-3.1 19.3 7.0zM263.1 817.6l-20.0-7.3 2.3-2.2-14.6-0.8 11.7 8.7-0.4-3.1 20.1 7.3zM284.0 817.6l-27.1-8.8 2.2-2.3-14.6-0.3 12.0 8.3-0.4-3.1 27.0 8.8zM304.8 817.5l-36.6-9.1 2.0-2.4-14.6 0.7 12.6 7.5-0.7-3.1 36.6 9.2zM325.6 817.5l-40.8-7.2 1.9-2.5-14.5 1.7 13.0 6.6-0.9-3.0 40.8 7.2zM346.4 817.5l-41.0-5.8 1.8-2.5-14.5 2.2 13.3 6.1-1.0-3.0 41.0 5.8zM367.3 817.5l-41.2-4.3 1.7-2.7-14.4 2.7 13.5 5.7-1.1-2.9 41.2 4.3zM388.1 817.5l-41.3-3.2 1.6-2.6-14.2 3.1 13.6 5.2-1.2-2.9 41.3 3.2zM409.0 817.5l-41.4-2.3 1.6-2.7-14.2 3.4 13.7 5.0-1.2-2.9 41.3 2.3zM429.8 817.5l-41.3-1.4 1.5-2.7-14.2 3.7 13.9 4.7-1.3-2.9 41.3 1.4zM450.8 817.5l-41.4-1.9 1.5-2.7-14.2 3.5 13.8 4.8-1.2-2.8 41.3 1.9zM471.7 817.5l-41.4-2.5 1.6-2.7-14.2 3.4 13.7 5.0-1.2-2.9 41.3 2.5zM492.5 817.5l-41.3-2.2 1.6-2.7-14.2 3.4 13.7 5.0-1.2-2.9 41.3 2.2zM513.4 817.5l-43.6-1.1 1.5-2.8-14.1 3.8 13.9 4.6-1.3-2.8 43.5 1.1zM534.3 817.5l-44.6 0.0 1.4-2.8-14.0 4.2 14.0 4.2-1.4-2.8 44.6 0.0zM555.1 817.5l-46.2 0.8 1.3-2.8-13.9 4.4 14.1 4.0-1.5-2.8 46.3-0.8zM576.0 817.5l-50.3 1.7 1.4-2.9-13.9 4.7 14.1 3.7-1.5-2.7 50.3-1.7zM596.9 817.5l-50.2 2.6 1.2-2.9-13.8 4.9 14.2 3.5-1.5-2.7 50.2-2.6zM617.7 817.5l-50.1 3.5 1.2-2.9-13.7 5.1 14.3 3.3-1.6-2.7 50.1-3.5zM638.6 817.5l-50.1 4.4 1.2-2.9-13.6 5.4 14.3 3.0-1.6-2.7 50.1-4.4zM659.5 817.5l-50.1 4.8 1.2-2.9-13.6 5.5 14.4 2.8-1.7-2.6 50.1-4.8zM680.4 817.5l-50.0 5.2 1.1-2.9-13.5 5.6 14.3 2.7-1.6-2.6 50.0-5.2zM701.3 817.5l-50.0 5.4 1.1-2.9-13.5 5.6 14.4 2.7-1.7-2.6 50.0-5.4zM722.2 817.5l-52.3 5.6 1.1-2.9-13.4 5.7 14.3 2.6-1.7-2.6 52.3-5.6zM743.1 817.5l-53.1 5.7 1.1-2.9-13.5 5.7 14.4 2.6-1.7-2.6 53.1-5.7zM763.9 817.5l-53.0 5.7 1.0-2.9-13.4 5.7 14.3 2.6-1.6-2.6 53.0-5.7zM784.8 817.5l-53.1 5.7 1.1-2.9-13.4 5.7 14.3 2.6-1.7-2.6 53.1-5.7zM805.7 817.5l-53.1 5.7 1.1-2.9-13.4 5.7 14.3 2.6-1.7-2.6 53.1-5.7zM826.6 817.5l-53.1 5.7 1.1-2.9-13.4 5.7 14.3 2.6-1.7-2.6 53.1-5.7zM847.5 817.5l-53.1 5.7 1.1-2.9-13.4 5.7 14.3 2.6-1.7-2.6 53.1-5.7zM868.4 817.5l-53.1 5.7 1.1-2.9-13.5 5.7 14.4 2.6-1.7-2.6 53.1-5.7zM889.3 817.5l-53.1 5.7 1.1-2.9-13.5 5.7 14.4 2.6-1.7-2.6 53.1-5.7zM910.2 817.5l-53.2 4.3 1.2-2.9-13.6 5.3 14.3 3.0-1.7-2.6 53.3-4.3zM931.2 817.5l-53.4 1.5 1.4-2.8-13.9 4.6 14.1 3.8-1.5-2.8 53.4-1.5zM952.2 817.5l-47.0-0.9 1.4-2.8-14.1 3.9 13.9 4.5-1.3-2.8 47.0 0.9zM973.0 817.5l-41.4 0.3 1.4-2.8-14.0 4.2 14.1 4.1-1.5-2.7 41.4-0.3zM993.9 817.5l-41.4 1.3 1.3-2.8-13.8 4.7 14.1 3.7-1.5-2.8 41.4-1.3zM1014.7 817.5l-41.3 2.3 1.3-2.8-13.8 4.9 14.2 3.4-1.5-2.7 41.3-2.3zM1035.6 817.5l-41.3 3.2 1.2-2.9-13.6 5.3 14.3 3.1-1.6-2.7 41.2-3.2zM1056.5 817.5l-34.8 3.5 1.1-2.9-13.5 5.6 14.4 2.8-1.7-2.7 34.8-3.5zM1077.3 817.5l-32.1 4.4 1.0-3.0-13.3 6.1 14.4 2.3-1.7-2.6 32.1-4.4zM1098.2 817.5l-36.5 6.3 0.9-3.0-13.1 6.5 14.5 1.8-1.9-2.5 36.5-6.3zM1119.0 817.5l-29.2 6.7 0.8-3.0-12.7 7.2 14.5 1.0-2.0-2.5 29.2-6.6zM1139.8 817.6l-28.1 8.5 0.5-3.1-12.2 8.1 14.6 0.0-2.1-2.3 28.1-8.6zM1160.6 817.6l-27.5 10.5 0.3-3.1-11.5 8.9 14.5-1.1-2.3-2.1 27.5-10.5zM1181.4 817.6l-23.7 11.7 0.1-3.1-10.7 9.9 14.4-2.4-2.5-1.9 23.6-11.6zM1202.1 817.7l-18.6 11.4-0.2-3.1-9.8 10.9 14.2-3.7-2.7-1.7 18.6-11.4zM1223.0 817.8l-23.7 16.7-0.4-3.1-9.0 11.5 13.8-4.6-2.7-1.5 23.6-16.8zM1243.8 817.8l-17.9 14.0-0.6-3.0-8.5 11.9 13.7-5.3-2.9-1.4 17.9-14.0zM1264.6 817.8l-14.2 12.3-0.8-3.1-7.9 12.4 13.4-6.0-2.9-1.2 14.3-12.2zM1285.5 817.8l-13.3 11.3-0.7-3.1-8.0 12.2 13.4-5.8-2.8-1.2 13.3-11.2zM1306.4 817.8l-13.7 11.4-0.7-3.0-8.1 12.2 13.4-5.7-2.8-1.3 13.7-11.4zM1327.3 817.8l-15.7 13.0-0.7-3.1-8.1 12.2 13.5-5.7-2.9-1.3 15.7-12.9zM95.7 838.4l-23.5-4.1 1.8-2.5-14.5 1.7 13.1 6.6-0.9-3.0 23.5 4.1zM116.6 838.4l-20.5-3.6 1.9-2.5-14.5 1.8 13.1 6.5-0.9-3.0 20.4 3.6zM137.5 838.4l-17.1-3.0 1.8-2.5-14.5 1.7 13.1 6.6-0.9-3.0 17.1 3.0zM158.4 838.4l-17.6-3.1 1.9-2.5-14.5 1.7 13.0 6.6-0.9-3.0 17.6 3.1zM179.4 838.4l-21.8-4.6 1.9-2.4-14.5 1.2 12.8 7.0-0.8-3.0 21.8 4.6zM200.3 838.5l-18.4-5.3 2.1-2.3-14.6 0.2 12.4 7.9-0.6-3.1 18.4 5.2zM221.3 838.5l-16.3-5.9 2.2-2.2-14.6-0.8 11.8 8.7-0.4-3.1 16.4 5.9zM242.2 838.5l-16.3-5.9 2.2-2.2-14.6-0.8 11.8 8.7-0.4-3.1 16.4 5.9zM263.1 838.5l-16.8-6.1 2.3-2.1-14.6-0.8 11.7 8.7-0.4-3.1 16.9 6.0zM284.0 838.5l-21.3-6.9 2.2-2.2-14.6-0.3 12.1 8.3-0.5-3.1 21.2 6.8zM304.8 838.4l-30.3-7.5 2.0-2.3-14.6 0.7 12.6 7.4-0.7-3.0 30.3 7.5zM325.6 838.4l-34.4-6.0 1.8-2.5-14.5 1.7 13.1 6.6-0.9-3.0 34.4 6.0zM346.4 838.4l-34.6-4.8 1.8-2.6-14.4 2.3 13.3 6.0-1.0-2.9 34.5 4.8zM367.3 838.4l-34.8-3.6 1.7-2.6-14.3 2.7 13.5 5.6-1.1-2.9 34.7 3.6zM388.1 838.4l-34.8-2.4 1.6-2.7-14.3 3.3 13.7 5.1-1.2-2.9 34.8 2.4zM408.9 838.4l-39.4-1.3 1.5-2.8-14.1 3.8 13.8 4.6-1.3-2.8 39.5 1.3zM429.8 838.4l-41.4 0.1 1.4-2.8-14.0 4.2 14.0 4.2-1.4-2.8 41.4-0.1zM450.7 838.4l-41.4 0.1 1.4-2.8-14.0 4.3 14.0 4.1-1.4-2.8 41.4-0.1zM471.6 838.4l-41.4 0.2 1.4-2.8-14.0 4.3 14.0 4.1-1.4-2.8 41.4-0.2zM492.5 838.4l-41.4 0.2 1.4-2.8-14.0 4.3 14.0 4.1-1.4-2.8 41.4-0.2zM513.4 838.4l-41.4 0.2 1.3-2.8-13.9 4.3 14.0 4.1-1.4-2.8 41.4-0.2zM534.3 838.4l-41.4 0.2 1.3-2.8-13.9 4.3 14.0 4.1-1.4-2.8 41.4-0.2zM555.1 838.4l-43.0 0.8 1.3-2.8-13.9 4.4 14.1 4.0-1.5-2.8 43.1-0.8zM576.0 838.4l-47.6 1.5 1.3-2.8-13.8 4.6 14.1 3.8-1.5-2.8 47.6-1.5zM596.9 838.4l-52.8 2.5 1.3-2.8-13.8 4.8 14.2 3.6-1.5-2.8 52.7-2.5zM617.7 838.4l-53.2 3.6 1.2-2.9-13.7 5.2 14.2 3.2-1.5-2.7 53.2-3.6zM638.6 838.4l-53.2 4.7 1.2-3.0-13.6 5.5 14.3 2.9-1.6-2.7 53.2-4.6zM659.5 838.4l-51.2 4.5 1.2-2.9-13.6 5.4 14.3 2.9-1.6-2.6 51.1-4.5zM680.4 838.4l-46.7 4.1 1.1-2.9-13.6 5.4 14.4 2.9-1.7-2.6 46.7-4.1zM701.3 838.4l-46.7 4.1 1.1-2.9-13.6 5.4 14.3 2.9-1.6-2.6 46.7-4.1zM722.2 838.4l-51.4 4.5 1.2-2.9-13.6 5.4 14.3 2.9-1.6-2.6 51.3-4.5zM743.1 838.4l-53.2 4.7 1.1-3.0-13.5 5.5 14.3 2.9-1.7-2.7 53.2-4.6zM764.0 838.4l-53.2 4.7 1.1-2.9-13.5 5.4 14.3 2.9-1.7-2.6 53.2-4.7zM784.9 838.4l-53.2 4.7 1.1-2.9-13.6 5.4 14.4 3.0-1.7-2.7 53.2-4.7zM805.8 838.4l-53.2 4.7 1.1-2.9-13.6 5.4 14.4 3.0-1.7-2.7 53.2-4.7zM826.7 838.4l-53.2 4.7 1.1-2.9-13.6 5.4 14.3 2.9-1.6-2.6 53.2-4.7zM847.6 838.4l-53.2 4.7 1.1-3.0-13.6 5.5 14.3 2.9-1.6-2.7 53.2-4.6zM868.4 838.4l-53.2 4.6 1.2-2.9-13.6 5.4 14.3 3.0-1.6-2.7 53.2-4.6zM889.3 838.4l-53.2 4.6 1.2-2.9-13.6 5.4 14.3 2.9-1.6-2.6 53.2-4.6zM910.3 838.4l-53.3 2.6 1.2-2.9-13.8 4.8 14.2 3.6-1.5-2.8 53.3-2.5zM931.3 838.4l-53.4-1.2 1.5-2.8-14.1 3.9 13.9 4.5-1.4-2.8 53.4 1.2zM952.3 838.4l-50.3-4.5 1.6-2.7-14.3 2.9 13.6 5.5-1.2-2.9 50.3 4.5zM973.1 838.4l-47.7-3.3 1.5-2.7-14.2 3.2 13.7 5.1-1.2-2.9 47.7 3.4zM994.0 838.4l-47.0-2.3 1.6-2.8-14.2 3.5 13.8 4.9-1.3-2.8 47.0 2.3zM1014.9 838.4l-41.8-1.4 1.5-2.7-14.2 3.7 13.9 4.7-1.3-2.9 41.8 1.4zM1035.7 838.4l-41.3-0.8 1.4-2.8-14.1 3.9 13.9 4.5-1.3-2.8 41.4 0.8zM1056.6 838.4l-38.4-0.2 1.4-2.8-14.0 4.2 14.0 4.2-1.4-2.8 38.4 0.2zM1077.5 838.4l-35.6 1.1 1.3-2.9-13.8 4.6 14.1 3.8-1.5-2.7 35.5-1.1zM1098.3 838.4l-34.0 2.2 1.2-2.9-13.7 5.1 14.2 3.3-1.6-2.7 34.1-2.2zM1119.1 838.4l-29.5 3.5 1.1-2.9-13.4 5.8 14.4 2.5-1.8-2.6 29.6-3.5zM1139.9 838.4l-28.9 5.5 0.9-3.0-13.0 6.7 14.6 1.5-1.9-2.4 28.9-5.5zM1160.7 838.4l-28.4 7.6 0.6-3.1-12.4 7.6 14.6 0.5-2.1-2.3 28.4-7.5zM1181.5 838.5l-25.7 9.7 0.3-3.1-11.6 8.9 14.6-1.0-2.3-2.1 25.7-9.8zM1202.2 838.5l-22.0 11.2 0.0-3.2-10.7 10.1 14.4-2.6-2.5-1.8 22.1-11.1zM1223.1 838.6l-25.1 14.8-0.3-3.2-9.9 10.8 14.2-3.5-2.6-1.7 25.1-14.8zM1243.9 838.6l-17.2 11.0-0.3-3.1-9.6 11.1 14.1-4.0-2.7-1.6 17.2-11.0zM1264.8 838.6l-14.4 9.9-0.4-3.1-9.2 11.3 13.9-4.4-2.7-1.5 14.3-9.8zM1285.7 838.6l-14.7 9.4-0.3-3.2-9.6 11.1 14.1-4.0-2.7-1.6 14.7-9.3zM1306.6 838.6l-15.0 8.8-0.2-3.1-9.9 10.7 14.2-3.5-2.6-1.7 15.0-8.8zM1327.5 838.6l-15.1 8.6-0.1-3.1-10.1 10.6 14.2-3.3-2.6-1.8 15.1-8.6zM95.7 859.3l-29.1-4.0 1.7-2.6-14.4 2.2 13.3 6.1-1.0-3.0 29.1 4.1zM116.6 859.3l-23.4-3.2 1.7-2.6-14.4 2.2 13.3 6.1-1.0-3.0 23.4 3.3zM137.5 859.3l-17.2-2.6 1.8-2.6-14.5 2.1 13.2 6.2-0.9-3.0 17.2 2.7zM158.4 859.3l-17.2-2.9 1.9-2.5-14.5 1.8 13.1 6.5-0.9-3.0 17.1 2.9zM179.3 859.3l-17.0-3.4 1.9-2.5-14.5 1.3 12.8 6.9-0.8-3.0 17.1 3.5zM200.3 859.3l-14.1-3.6 2.1-2.4-14.6 0.5 12.4 7.6-0.6-3.0 14.1 3.7zM221.3 859.4l-12.7-4.1 2.2-2.2-14.6-0.3 12.1 8.3-0.5-3.1 12.6 4.0zM242.2 859.4l-12.7-3.9 2.1-2.3-14.6-0.1 12.2 8.1-0.6-3.1 12.7 3.9zM263.0 859.4l-13.1-3.9 2.2-2.3-14.7 0.2 12.3 7.9-0.6-3.1 13.2 3.8zM283.9 859.3l-16.4-4.1 2.0-2.4-14.6 0.6 12.5 7.5-0.6-3.0 16.4 4.2zM304.7 859.3l-22.4-4.4 1.9-2.4-14.6 1.4 13.0 6.8-0.9-3.0 22.5 4.4zM325.5 859.3l-25.0-3.5 1.7-2.6-14.4 2.3 13.3 6.1-1.0-3.0 25.0 3.5zM346.4 859.3l-25.2-2.6 1.7-2.6-14.4 2.7 13.5 5.6-1.1-2.9 25.2 2.6zM367.2 859.3l-25.2-1.7 1.6-2.7-14.3 3.2 13.7 5.2-1.2-2.9 25.2 1.7zM388.1 859.3l-25.3-0.8 1.5-2.8-14.2 3.7 13.9 4.7-1.3-2.8 25.3 0.8zM408.9 859.3l-33.7 0.1 1.4-2.8-14.0 4.2 14.1 4.2-1.5-2.8 33.7-0.1zM429.7 859.3l-37.2 1.4 1.3-2.9-13.9 4.7 14.2 3.7-1.5-2.7 37.2-1.4zM450.6 859.3l-37.2 2.5 1.2-2.9-13.7 5.1 14.3 3.3-1.6-2.7 37.2-2.5zM471.4 859.3l-37.5 3.6 1.1-2.9-13.5 5.5 14.3 2.8-1.6-2.6 37.5-3.6zM492.3 859.3l-40.7 4.5 1.1-2.9-13.5 5.7 14.4 2.6-1.7-2.6 40.7-4.5zM513.2 859.3l-38.3 4.2 1.1-2.9-13.4 5.7 14.4 2.7-1.7-2.7 38.2-4.2zM534.1 859.3l-39.1 4.3 1.1-2.9-13.5 5.7 14.4 2.6-1.7-2.6 39.1-4.3zM555.0 859.3l-41.2 4.3 1.1-2.9-13.5 5.6 14.4 2.7-1.7-2.6 41.2-4.3zM575.9 859.3l-42.0 4.1 1.1-2.9-13.5 5.5 14.3 2.8-1.7-2.6 42.1-4.1zM596.8 859.3l-48.3 4.5 1.1-2.9-13.6 5.4 14.4 2.9-1.7-2.6 48.4-4.5zM617.7 859.3l-49.1 4.4 1.2-2.9-13.6 5.5 14.3 2.9-1.6-2.7 49.1-4.4zM638.6 859.3l-51.2 4.5 1.2-2.9-13.6 5.4 14.3 2.9-1.6-2.6 51.2-4.5zM659.5 859.3l-49.5 4.0 1.2-2.9-13.6 5.4 14.3 3.0-1.6-2.7 49.4-4.0zM680.4 859.3l-41.3 3.1 1.2-2.9-13.6 5.3 14.3 3.1-1.7-2.7 41.3-3.1zM701.3 859.3l-41.3 3.1 1.2-2.9-13.6 5.3 14.2 3.1-1.6-2.7 41.3-3.1zM722.2 859.3l-49.8 4.1 1.1-2.9-13.6 5.3 14.3 3.0-1.6-2.6 49.8-4.1zM743.1 859.3l-53.2 4.7 1.1-2.9-13.5 5.4 14.3 2.9-1.7-2.6 53.2-4.7zM764.0 859.3l-51.9 5.0 1.1-2.9-13.5 5.5 14.4 2.9-1.7-2.7 51.8-5.0zM784.8 859.3l-49.0 5.2 1.1-3.0-13.5 5.7 14.4 2.7-1.7-2.6 49.0-5.2zM805.7 859.3l-49.0 5.2 1.1-3.0-13.5 5.7 14.4 2.7-1.7-2.7 49.0-5.1zM826.6 859.3l-52.0 5.0 1.1-2.9-13.5 5.5 14.4 2.8-1.7-2.6 52.0-5.0zM847.6 859.3l-53.2 4.6 1.1-2.9-13.6 5.4 14.3 3.0-1.6-2.7 53.2-4.6zM868.5 859.3l-53.3 3.8 1.2-2.8-13.7 5.2 14.3 3.1-1.6-2.7 53.3-3.8zM889.4 859.3l-53.3 3.1 1.2-2.9-13.7 5.0 14.2 3.4-1.6-2.7 53.3-3.1zM910.3 859.3l-53.4 0.3 1.4-2.8-13.9 4.3 14.0 4.1-1.4-2.8 53.4-0.3zM931.4 859.3l-53.3-4.2 1.6-2.7-14.2 3.1 13.6 5.3-1.2-2.9 53.2 4.2zM952.4 859.3l-52.7-8.5 1.8-2.6-14.5 1.9 13.1 6.4-0.9-3.0 52.7 8.6zM973.3 859.3l-52.8-8.3 1.8-2.6-14.4 2.0 13.1 6.3-0.9-3.0 52.7 8.4zM994.1 859.3l-51.7-8.0 1.8-2.6-14.4 2.0 13.1 6.3-0.9-2.9 51.7 8.0zM1015.0 859.3l-45.5-6.8 1.8-2.5-14.5 2.1 13.3 6.2-1.0-3.0 45.5 6.8zM1035.9 859.3l-42.1-5.9 1.8-2.6-14.4 2.2 13.3 6.1-1.0-2.9 42.0 5.9zM1056.8 859.3l-41.0-5.4 1.7-2.6-14.4 2.4 13.3 5.9-1.0-2.9 41.0 5.4zM1077.7 859.3l-38.6-3.9 1.7-2.7-14.4 2.8 13.5 5.6-1.1-2.9 38.6 3.9zM1098.5 859.3l-33.4-2.4 1.6-2.7-14.3 3.2 13.7 5.2-1.2-2.9 33.4 2.4zM1119.3 859.3l-33.5-1.0 1.5-2.7-14.1 3.7 13.9 4.7-1.3-2.9 33.5 1.0zM1140.2 859.3l-33.5 0.9 1.3-2.9-13.9 4.6 14.1 3.8-1.5-2.7 33.5-0.9zM1161.0 859.3l-33.4 2.8 1.1-2.9-13.6 5.3 14.3 3.0-1.6-2.6 33.4-2.8zM1181.8 859.3l-31.7 5.0 0.9-2.9-13.2 6.3 14.5 2.0-1.8-2.6 31.7-5.0zM1202.5 859.3l-28.6 6.8 0.8-3.0-12.7 7.3 14.6 0.9-2.0-2.4 28.6-6.8zM1223.3 859.4l-28.0 8.8 0.5-3.1-12.1 8.2 14.6-0.2-2.2-2.3 28.1-8.8zM1244.2 859.4l-19.1 7.3 0.3-3.1-11.5 9.0 14.5-1.1-2.3-2.1 19.1-7.4zM1265.0 859.4l-15.9 7.2 0.2-3.1-11.1 9.6 14.5-1.9-2.4-2.0 15.8-7.2zM1285.9 859.4l-15.9 7.1 0.1-3.1-11.0 9.6 14.5-1.9-2.5-2.0 15.9-7.1zM1306.8 859.4l-15.9 7.0 0.1-3.1-11.1 9.5 14.5-1.8-2.4-2.0 15.9-7.0zM1327.7 859.4l-16.0 7.0 0.2-3.1-11.1 9.5 14.5-1.8-2.4-2.0 15.9-7.0zM95.6 880.2l-27.5-2.8 1.7-2.7-14.4 2.8 13.5 5.6-1.1-2.9 27.5 2.8zM116.5 880.2l-22.6-2.3 1.7-2.7-14.4 2.8 13.5 5.6-1.1-2.9 22.6 2.3zM137.5 880.2l-17.3-2.3 1.8-2.6-14.5 2.4 13.4 6.0-1.1-3.0 17.3 2.3zM158.4 880.2l-17.0-2.7 1.8-2.6-14.5 2.0 13.1 6.3-0.9-3.0 17.0 2.8zM179.3 880.2l-15.5-3.0 1.9-2.5-14.6 1.4 13.0 6.8-0.9-3.0 15.6 3.1zM200.3 880.2l-8.4-2.0 2.0-2.4-14.6 0.8 12.6 7.4-0.7-3.1 8.4 2.1zM221.2 880.3l-5.2-1.5 2.2-2.3-14.7 0.2 12.4 7.8-0.6-3.0 5.2 1.4zM242.1 880.2l-5.2-1.3 2.0-2.4-14.6 0.7 12.5 7.5-0.6-3.1 5.2 1.4zM262.9 880.2l-6.1-1.3 2.0-2.5-14.6 1.1 12.7 7.1-0.7-3.0 6.1 1.4zM283.8 880.2l-14.3-2.7 1.9-2.5-14.5 1.6 12.9 6.7-0.8-3.0 14.3 2.7zM304.6 880.2l-16.7-2.4 1.8-2.6-14.4 2.2 13.2 6.1-1.0-2.9 16.7 2.4zM325.5 880.2l-17.3-1.8 1.6-2.6-14.3 2.7 13.5 5.6-1.1-2.9 17.3 1.8zM346.3 880.2l-17.3-1.2 1.5-2.7-14.2 3.3 13.7 5.1-1.2-2.9 17.3 1.2zM367.2 880.2l-17.4-0.6 1.5-2.7-14.2 3.7 13.9 4.7-1.3-2.9 17.4 0.6zM388.0 880.2l-17.4 0.0 1.4-2.8-14.0 4.3 14.0 4.1-1.4-2.8 17.4 0.0zM408.8 880.2l-24.5 0.9 1.3-2.8-13.8 4.7 14.1 3.6-1.5-2.7 24.6-0.9zM429.7 880.2l-27.6 2.0 1.2-2.9-13.7 5.2 14.3 3.2-1.6-2.7 27.6-2.0zM450.5 880.2l-27.9 3.6 1.0-2.9-13.4 6.0 14.5 2.3-1.8-2.6 28.0-3.6zM471.3 880.2l-29.9 5.7 0.9-3.0-13.0 6.7 14.5 1.5-1.9-2.5 29.9-5.6zM492.2 880.2l-37.8 8.3 0.8-3.0-12.8 7.1 14.6 1.1-2.0-2.5 37.8-8.2zM513.1 880.2l-31.7 7.0 0.7-3.1-12.7 7.1 14.5 1.1-1.9-2.4 31.7-6.9zM534.0 880.2l-33.8 7.4 0.7-3.0-12.7 7.1 14.5 1.1-1.9-2.4 33.8-7.4zM554.9 880.2l-39.0 7.5 0.9-3.0-13.0 6.7 14.6 1.5-1.9-2.5 38.9-7.4zM575.8 880.2l-39.3 6.5 0.9-3.0-13.1 6.4 14.5 1.9-1.9-2.6 39.4-6.4zM596.8 880.2l-40.9 5.6 1.0-2.9-13.3 6.0 14.4 2.3-1.7-2.6 40.8-5.6zM617.7 880.2l-41.2 4.6 1.1-2.9-13.4 5.7 14.4 2.6-1.7-2.6 41.1-4.6zM638.6 880.2l-46.5 4.1 1.2-2.9-13.6 5.4 14.3 2.9-1.6-2.6 46.5-4.1zM659.5 880.2l-48.3 3.7 1.2-2.9-13.7 5.2 14.3 3.1-1.6-2.6 48.3-3.7zM680.4 880.2l-41.5 2.7 1.2-2.9-13.7 5.1 14.3 3.3-1.6-2.7 41.5-2.7zM701.3 880.2l-42.9 2.8 1.2-2.9-13.7 5.1 14.3 3.3-1.6-2.7 42.9-2.8zM722.2 880.2l-50.3 3.8 1.1-2.9-13.6 5.3 14.3 3.1-1.6-2.7 50.3-3.8zM743.1 880.2l-53.2 4.7 1.1-2.9-13.5 5.4 14.3 2.9-1.7-2.6 53.2-4.7zM764.0 880.2l-49.9 5.3 1.1-3.0-13.5 5.7 14.4 2.7-1.7-2.7 49.8-5.2zM784.8 880.2l-42.8 5.3 1.1-3.0-13.4 5.9 14.4 2.5-1.7-2.7 42.8-5.2zM805.7 880.2l-42.8 5.2 1.1-2.9-13.4 5.8 14.4 2.5-1.8-2.6 42.9-5.2zM826.6 880.2l-50.3 5.3 1.1-3.0-13.4 5.7 14.3 2.7-1.7-2.7 50.3-5.2zM847.6 880.2l-65.2 5.6 1.2-2.9-13.6 5.4 14.3 3.0-1.7-2.7 65.2-5.6zM868.5 880.2l-65.3 3.8 1.2-2.9-13.7 5.0 14.2 3.4-1.5-2.7 65.2-3.8zM889.4 880.2l-65.4 1.9 1.4-2.8-13.9 4.6 14.1 3.7-1.5-2.7 65.4-1.9zM910.4 880.2l-53.4-2.0 1.5-2.7-14.1 3.7 13.8 4.7-1.3-2.9 53.4 2.0zM931.4 880.2l-52.9-7.2 1.8-2.6-14.4 2.2 13.3 6.1-1.0-3.0 52.9 7.3zM952.5 880.2l-52.0-12.2 2.0-2.4-14.6 0.9 12.7 7.3-0.8-3.1 52.0 12.3zM973.4 880.2l-51.8-12.9 2.0-2.4-14.6 0.7 12.6 7.5-0.7-3.1 51.8 13.0zM994.3 880.2l-51.4-13.5 2.1-2.4-14.7 0.5 12.5 7.6-0.6-3.0 51.4 13.6zM1015.2 880.2l-50.0-13.4 2.1-2.4-14.6 0.4 12.4 7.7-0.6-3.0 50.0 13.5zM1036.1 880.2l-42.6-11.3 2.0-2.4-14.6 0.5 12.5 7.6-0.7-3.0 42.7 11.4zM1057.0 880.2l-40.1-10.5 2.1-2.4-14.6 0.5 12.5 7.7-0.7-3.1 40.1 10.6zM1077.8 880.2l-40.2-9.6 2.0-2.4-14.6 0.9 12.6 7.3-0.7-3.0 40.3 9.6zM1098.7 880.2l-40.5-8.6 2.0-2.5-14.6 1.2 12.8 7.0-0.8-3.0 40.5 8.7zM1119.5 880.2l-40.7-7.3 1.9-2.5-14.6 1.6 13.1 6.7-0.9-3.0 40.7 7.3zM1140.4 880.2l-41.0-5.6 1.7-2.6-14.4 2.2 13.3 6.1-1.0-3.0 41.0 5.7zM1161.2 880.2l-40.3-3.9 1.7-2.6-14.3 2.8 13.5 5.6-1.1-3.0 40.3 3.9zM1182.0 880.2l-36.0-1.8 1.5-2.7-14.2 3.5 13.8 4.9-1.3-2.9 36.1 1.8zM1202.9 880.2l-29.4-0.1 1.4-2.8-14.0 4.2 14.0 4.2-1.4-2.8 29.4 0.1zM1223.7 880.2l-29.4 2.1 1.2-2.9-13.6 5.2 14.2 3.2-1.6-2.7 29.4-2.1zM1244.4 880.2l-20.1 3.4 0.9-3.0-13.1 6.4 14.5 1.9-1.8-2.6 20.1-3.3zM1265.2 880.2l-16.8 4.4 0.6-3.1-12.5 7.6 14.6 0.6-2.0-2.4 16.8-4.3zM1286.1 880.3l-16.8 4.7 0.6-3.1-12.3 7.9 14.6 0.2-2.1-2.3 16.7-4.8zM1306.9 880.3l-16.6 5.1 0.5-3.1-12.1 8.1 14.6-0.1-2.2-2.2 16.7-5.2zM1327.8 880.3l-16.6 5.2 0.5-3.1-12.1 8.3 14.7-0.2-2.2-2.3 16.6-5.3zM95.6 901.1l-18.0-1.6 1.7-2.6-14.4 2.9 13.6 5.4-1.1-2.9 18.0 1.6zM116.5 901.1l-17.7-1.5 1.7-2.7-14.3 3.0 13.5 5.4-1.1-3.0 17.7 1.6zM137.4 901.1l-17.3-1.9 1.7-2.6-14.3 2.6 13.4 5.7-1.1-2.9 17.3 1.9zM158.4 901.1l-16.4-2.2 1.8-2.6-14.4 2.3 13.3 6.0-1.0-2.9 16.3 2.2zM179.3 901.1l-7.3-1.2 1.8-2.5-14.5 1.9 13.2 6.4-0.9-3.0 7.2 1.2zM200.2 901.1l-5.5-1.0 1.9-2.5-14.5 1.6 13.0 6.7-0.9-3.1 5.5 1.1zM221.1 901.1l-5.2-1.1 1.9-2.4-14.6 1.2 12.9 7.0-0.8-3.1 5.3 1.2zM242.0 901.1l-5.3-0.9 1.9-2.5-14.6 1.6 13.1 6.6-0.9-3.0 5.3 1.0zM262.8 901.1l-5.3-0.8 1.8-2.6-14.5 2.1 13.2 6.3-1.0-3.0 5.4 0.8zM283.7 901.1l-5.9-0.7 1.7-2.6-14.4 2.5 13.4 5.8-1.1-2.9 6.0 0.7zM304.6 901.1l-13.9-1.2 1.7-2.7-14.4 2.9 13.6 5.5-1.1-3.0 13.8 1.3zM325.4 901.1l-17.4-1.1 1.6-2.7-14.2 3.4 13.7 5.0-1.2-2.9 17.3 1.1zM346.3 901.1l-17.4-0.5 1.4-2.7-14.1 3.8 13.9 4.6-1.3-2.9 17.4 0.5zM367.1 901.1l-17.4 0.1 1.4-2.8-14.0 4.3 14.0 4.1-1.4-2.8 17.4-0.1zM387.9 901.1l-17.3 0.9 1.2-2.8-13.8 4.9 14.3 3.4-1.6-2.7 17.4-0.9zM408.7 901.1l-17.7 1.9 1.1-2.9-13.5 5.7 14.4 2.7-1.7-2.7 17.8-1.9zM429.6 901.1l-17.8 3.0 0.9-3.0-13.1 6.4 14.5 1.9-1.9-2.6 17.8-2.9zM450.4 901.1l-20.9 4.8 0.7-3.0-12.7 7.2 14.6 1.0-2.0-2.5 20.9-4.7zM471.2 901.2l-28.3 8.2 0.6-3.1-12.3 8.0 14.6 0.1-2.1-2.3 28.3-8.3zM492.1 901.2l-28.6 9.1 0.5-3.1-12.1 8.2 14.6-0.2-2.2-2.3 28.6-9.1zM513.0 901.2l-28.3 8.6 0.5-3.0-12.2 8.1 14.7-0.1-2.2-2.3 28.3-8.7zM533.9 901.2l-28.5 8.4 0.5-3.1-12.2 8.0 14.6 0.1-2.2-2.3 28.6-8.5zM554.8 901.1l-29.1 7.6 0.7-3.1-12.5 7.6 14.6 0.5-2.1-2.3 29.1-7.5zM575.7 901.1l-30.5 6.8 0.8-3.1-12.8 7.2 14.6 1.0-2.0-2.4 30.6-6.7zM596.7 901.1l-39.7 7.4 0.9-3.1-13.0 6.7 14.5 1.6-1.9-2.5 39.7-7.3zM617.6 901.1l-40.9 6.1 1.0-3.0-13.3 6.2 14.5 2.1-1.8-2.5 40.9-6.1zM638.6 901.1l-41.5 4.7 1.1-2.9-13.5 5.7 14.4 2.6-1.7-2.6 41.5-4.7zM659.5 901.1l-41.6 4.3 1.1-2.9-13.5 5.6 14.3 2.7-1.7-2.6 41.7-4.3zM680.4 901.1l-42.5 4.0 1.1-2.9-13.5 5.5 14.3 2.8-1.7-2.6 42.6-4.0zM701.3 901.1l-51.6 5.1 1.2-2.9-13.6 5.6 14.4 2.8-1.7-2.7 51.6-5.1zM722.1 901.1l-52.8 6.3 1.1-2.9-13.4 5.8 14.4 2.5-1.8-2.6 52.9-6.3zM743.0 901.1l-52.9 7.4 1.0-2.9-13.3 6.1 14.5 2.2-1.8-2.6 52.9-7.4zM763.9 901.1l-52.6 8.2 1.0-3.0-13.2 6.3 14.5 2.0-1.8-2.6 52.5-8.1zM784.8 901.1l-52.0 8.9 0.9-3.0-13.1 6.5 14.5 1.8-1.9-2.6 52.0-8.8zM805.7 901.1l-64.6 10.6 1.0-3.0-13.2 6.4 14.5 1.9-1.8-2.5 64.5-10.6zM826.6 901.1l-88.6 12.3 1.0-3.0-13.3 6.1 14.5 2.2-1.8-2.6 88.6-12.2zM847.5 901.1l-88.8 10.0 1.1-2.9-13.5 5.7 14.4 2.6-1.7-2.6 88.8-10.0zM868.5 901.1l-80.2 6.2 1.2-2.9-13.7 5.3 14.3 3.1-1.6-2.7 80.2-6.2zM889.4 901.1l-80.3 3.4 1.3-2.9-13.9 4.8 14.2 3.6-1.5-2.7 80.3-3.4zM910.4 901.1l-80.3-2.8 1.5-2.8-14.2 3.7 13.9 4.7-1.3-2.8 80.3 2.8zM931.5 901.1l-64.7-9.8 1.8-2.6-14.5 2.0 13.2 6.3-0.9-3.0 64.6 9.9zM952.5 901.1l-51.6-13.8 2.1-2.4-14.6 0.5 12.4 7.6-0.6-3.0 51.6 13.9zM973.4 901.2l-51.2-15.2 2.2-2.3-14.6 0.1 12.2 8.0-0.6-3.1 51.2 15.1zM994.4 901.2l-49.4-16.0 2.2-2.2-14.6-0.4 12.0 8.4-0.5-3.1 49.4 15.9zM1015.3 901.2l-40.5-13.9 2.2-2.2-14.6-0.6 11.9 8.6-0.4-3.1 40.5 13.8zM1036.2 901.2l-39.2-13.9 2.3-2.2-14.6-0.7 11.8 8.6-0.4-3.1 39.2 13.9zM1057.1 901.2l-38.9-14.2 2.3-2.2-14.6-0.8 11.7 8.7-0.4-3.1 38.9 14.2zM1078.0 901.2l-39.1-13.6 2.2-2.2-14.6-0.7 11.9 8.6-0.5-3.1 39.1 13.6zM1098.8 901.2l-39.3-13.1 2.3-2.2-14.7-0.4 12.0 8.4-0.4-3.1 39.3 13.0zM1119.7 901.2l-39.6-12.0 2.1-2.3-14.6-0.1 12.2 8.1-0.5-3.1 39.6 12.0zM1140.5 901.1l-40.0-10.6 2.1-2.3-14.6 0.5 12.5 7.6-0.7-3.1 40.0 10.7zM1161.4 901.1l-34.4-7.8 2.0-2.4-14.5 1.0 12.7 7.2-0.8-3.1 34.4 7.9zM1182.2 901.1l-29.3-5.3 1.8-2.5-14.5 1.7 13.1 6.6-0.9-3.0 29.3 5.3zM1203.1 901.1l-29.2-3.9 1.8-2.6-14.5 2.3 13.4 6.0-1.1-2.9 29.2 3.9zM1223.9 901.1l-29.4-1.8 1.6-2.7-14.3 3.4 13.8 5.0-1.3-2.9 29.4 1.8zM1244.6 901.1l-20.4 0.7 1.3-2.8-13.8 4.6 14.1 3.7-1.5-2.7 20.4-0.7zM1265.4 901.1l-17.3 2.2 1.1-3.0-13.4 6.0 14.4 2.4-1.7-2.6 17.2-2.2zM1286.2 901.1l-17.1 3.2 0.9-3.0-13.1 6.6 14.6 1.6-1.9-2.5 17.1-3.1zM1307.0 901.1l-16.9 4.1 0.7-3.0-12.6 7.4 14.6 0.8-2.0-2.4 16.9-4.1zM1327.9 901.1l-16.8 4.6 0.6-3.1-12.4 7.7 14.6 0.4-2.1-2.3 16.8-4.5zM95.6 922.0l-17.3-1.5 1.6-2.7-14.3 3.0 13.6 5.4-1.2-2.9 17.4 1.5zM116.5 922.0l-17.3-1.5 1.6-2.7-14.3 3.0 13.6 5.4-1.2-2.9 17.4 1.5zM137.4 922.0l-14.8-1.4 1.6-2.6-14.3 2.8 13.6 5.5-1.2-2.9 14.8 1.4zM158.3 922.0l-8.1-0.8 1.6-2.7-14.3 2.8 13.5 5.6-1.1-2.9 8.1 0.8zM179.2 922.0l-5.7-0.6 1.7-2.6-14.4 2.7 13.5 5.6-1.1-2.9 5.7 0.6zM200.1 922.0l-5.4-0.6 1.7-2.6-14.3 2.6 13.4 5.7-1.1-2.9 5.4 0.6zM221.0 922.0l-5.3-0.6 1.7-2.6-14.4 2.5 13.4 5.8-1.1-2.9 5.4 0.6zM241.9 922.0l-5.4-0.5 1.7-2.7-14.4 2.9 13.6 5.5-1.2-2.9 5.4 0.5zM262.7 922.0l-5.3-0.4 1.5-2.7-14.2 3.2 13.7 5.2-1.2-2.9 5.3 0.4zM283.6 922.0l-5.4-0.3 1.6-2.7-14.2 3.5 13.7 4.9-1.2-2.9 5.4 0.3zM304.5 922.0l-7.5-0.2 1.5-2.8-14.2 3.7 13.9 4.7-1.3-2.8 7.5 0.2zM325.3 922.0l-8.4-0.1 1.4-2.8-14.0 4.0 13.9 4.4-1.3-2.8 8.4 0.1zM346.2 922.0l-11.1 0.2 1.4-2.8-13.9 4.5 14.0 3.9-1.4-2.8 11.0-0.2zM367.0 922.0l-17.3 1.0 1.2-2.9-13.7 4.9 14.2 3.5-1.6-2.7 17.4-1.0zM387.8 922.0l-17.2 2.1 1.0-3.0-13.4 5.8 14.4 2.6-1.7-2.7 17.3-2.0zM408.6 922.0l-10.9 2.4 0.8-3.1-12.8 7.1 14.5 1.2-1.9-2.5 10.9-2.3zM429.4 922.1l-12.3 3.8 0.5-3.1-12.1 8.3 14.6-0.2-2.2-2.3 12.3-3.9zM450.2 922.1l-17.2 6.2 0.4-3.1-11.8 8.7 14.6-0.8-2.3-2.2 17.3-6.2zM471.1 922.1l-19.8 8.1 0.2-3.2-11.4 9.2 14.6-1.4-2.4-2.1 19.8-8.0zM491.9 922.1l-26.3 10.9 0.2-3.1-11.3 9.2 14.5-1.4-2.4-2.1 26.4-10.9zM512.9 922.1l-27.5 10.4 0.3-3.1-11.6 8.9 14.6-1.0-2.3-2.1 27.5-10.5zM533.8 922.1l-27.8 9.6 0.4-3.1-11.8 8.6 14.6-0.7-2.3-2.1 27.8-9.7zM554.7 922.1l-30.7 9.4 0.5-3.1-12.1 8.2 14.6-0.1-2.1-2.3 30.7-9.5zM575.7 922.0l-37.4 10.1 0.7-3.0-12.5 7.7 14.7 0.4-2.1-2.3 37.3-10.1zM596.6 922.0l-40.0 9.4 0.7-3.1-12.7 7.3 14.6 0.9-2.0-2.4 40.1-9.3zM617.6 922.0l-40.7 8.0 0.9-3.0-12.9 6.8 14.5 1.4-1.9-2.4 40.6-8.0zM638.5 922.0l-40.9 6.6 1.0-3.0-13.2 6.4 14.5 1.9-1.8-2.5 40.9-6.6zM659.4 922.0l-40.9 6.5 1.0-3.0-13.2 6.4 14.5 1.9-1.8-2.5 40.8-6.5zM680.3 922.0l-41.2 6.5 0.9-3.0-13.2 6.3 14.5 2.0-1.8-2.6 41.2-6.4zM701.2 922.0l-43.6 7.5 0.9-3.0-13.0 6.5 14.5 1.8-1.9-2.5 43.6-7.5zM722.0 922.0l-49.8 10.2 0.8-3.0-12.9 6.9 14.6 1.3-1.9-2.4 49.8-10.2zM742.9 922.0l-52.0 12.3 0.7-3.0-12.6 7.3 14.6 0.9-2.0-2.4 51.9-12.3zM763.8 922.0l-51.9 12.5 0.7-3.0-12.7 7.3 14.6 0.8-2.0-2.4 51.9-12.4zM784.7 922.0l-78.1 19.1 0.7-3.0-12.7 7.4 14.6 0.7-2.0-2.4 78.1-19.0zM805.6 922.0l-87.2 19.9 0.8-3.0-12.8 7.2 14.6 0.9-2.0-2.4 87.2-19.8zM826.5 922.0l-99.5 19.3 0.8-3.0-12.9 6.8 14.5 1.4-1.9-2.4 99.5-19.3zM847.5 922.0l-88.3 14.1 0.9-2.9-13.1 6.3 14.4 2.0-1.8-2.6 88.3-14.1zM868.4 922.0l-79.8 9.9 1.1-2.9-13.4 5.9 14.4 2.4-1.7-2.6 79.7-9.9zM889.3 922.0l-80.0 7.1 1.1-2.9-13.6 5.4 14.3 3.0-1.6-2.7 80.1-7.1zM910.4 922.0l-65.4 0.1 1.4-2.8-14.0 4.2 14.0 4.2-1.4-2.8 65.4-0.1zM931.4 922.0l-52.9-7.1 1.8-2.6-14.5 2.3 13.4 6.0-1.1-2.9 53.0 7.1zM952.5 922.0l-51.6-13.8 2.1-2.4-14.6 0.4 12.4 7.7-0.6-3.0 51.6 13.9zM973.4 922.1l-51.0-15.6 2.1-2.3-14.6 0.0 12.2 8.1-0.6-3.1 51.1 15.5zM994.4 922.1l-49.0-16.7 2.2-2.2-14.6-0.6 11.9 8.5-0.4-3.1 49.0 16.7zM1015.3 922.1l-39.5-14.8 2.3-2.2-14.6-0.9 11.7 8.8-0.4-3.1 39.5 14.8zM1036.2 922.1l-32.2-13.2 2.4-2.0-14.6-1.4 11.4 9.2-0.2-3.2 32.2 13.2zM1057.2 922.1l-29.7-13.1 2.4-2.0-14.5-1.8 11.1 9.5-0.1-3.1 29.6 13.1zM1078.1 922.1l-29.8-13.0 2.4-2.0-14.5-1.7 11.2 9.4-0.2-3.1 29.7 13.0zM1099.0 922.1l-29.8-12.9 2.4-2.0-14.5-1.7 11.1 9.4-0.1-3.1 29.7 12.9zM1119.8 922.1l-30.0-12.3 2.3-2.0-14.5-1.4 11.4 9.2-0.3-3.2 30.1 12.3zM1140.7 922.1l-24.2-8.9 2.3-2.2-14.6-0.9 11.7 8.8-0.4-3.1 24.2 8.9zM1161.5 922.1l-20.7-6.8 2.2-2.2-14.6-0.4 12.0 8.3-0.5-3.1 20.7 6.8zM1182.3 922.0l-22.8-5.8 2.1-2.4-14.6 0.6 12.5 7.5-0.7-3.0 22.8 5.9zM1203.1 922.0l-28.8-5.5 1.8-2.5-14.5 1.6 13.0 6.7-0.9-3.0 28.9 5.5zM1223.9 922.0l-29.2-3.4 1.8-2.7-14.4 2.6 13.4 5.8-1.1-3.0 29.2 3.5zM1244.7 922.0l-20.4-0.8 1.5-2.8-14.1 3.6 13.8 4.8-1.3-2.8 20.4 0.8zM1265.5 922.0l-17.4 0.6 1.3-2.8-13.8 4.7 14.1 3.7-1.5-2.8 17.4-0.6zM1286.3 922.0l-17.3 2.2 1.0-2.9-13.3 5.9 14.4 2.4-1.7-2.6 17.2-2.2zM1307.0 922.0l-16.9 3.9 0.7-3.1-12.7 7.2 14.6 1.0-2.0-2.4 17.0-3.8zM1327.9 922.0l-16.8 4.6 0.6-3.1-12.4 7.7 14.6 0.4-2.1-2.3 16.8-4.5z"/>
<path d="M118.5 135.0L136.6 305.9L146.1 375.0L161.2 525.0L176.4 534.5L167.9 577.2L90.0 577.2M287.5 135.0L486.2 266.2L511.2 282.9L517.4 291.2L515.3 301.6L527.8 312.0L542.3 318.2L548.6 326.5L563.1 328.6L575.6 332.7L583.9 341.0L598.4 343.1L613.0 344.1L621.3 351.4L623.4 366.0L619.2 380.5L623.4 390.9L637.9 395.0L660.8 389.9L675.3 388.8M675.3 388.8L700.2 382.6L718.9 378.4L743.9 374.3L760.0 366.0L804.7 332.8L849.5 295.1L924.8 250.4L995.5 210.3L1042.6 182.1L1078.4 158.9M1078.4 158.9L1065.9 135.0M1078.4 158.9L1162.5 178.6L1199.9 206.7L1237.3 186.9L1289.2 162.0L1345.0 188.0M1237.3 186.9L1247.7 238.9L1246.7 263.8L1266.4 286.7L1268.5 301.2L1289.2 324.1L1276.8 346.9L1272.9 380.0L1263.4 504.4L1250.1 516.7L1234.9 535.7L1219.7 550.9L1200.7 573.7L1183.6 594.5L1174.0 612.0L1165.0 623.0L1157.3 633.2L1159.4 654.0L1166.7 670.6L1183.3 689.3L1189.5 708.0L1193.5 720.0L1195.3 737.6L1209.4 741.2L1220.0 751.8L1218.2 764.1L1214.7 772.9L1218.2 781.8L1212.9 787.1L1200.0 795.0L1186.5 797.6L1181.2 802.9L1172.4 811.8L1168.8 820.6L1161.8 831.2L1158.2 843.5L1156.5 855.9L1145.9 861.2L1145.9 875.3L1142.4 889.4L1128.2 898.2L1124.7 910.6L1121.2 928.2L1110.6 935.3L1100.0 938.8L1090.0 946.0M1209.4 741.2L1230.0 742.0L1241.2 757.1L1242.9 772.9L1241.2 794.1L1241.2 818.8L1244.7 834.7L1253.5 847.1L1264.1 859.4L1276.5 866.0L1290.0 862.0M1290.0 862.0L1272.9 864.7L1250.0 868.0L1223.5 866.5L1195.3 864.7L1182.9 882.4L1198.8 898.2L1209.4 910.6L1227.1 924.7L1237.6 933.5L1244.7 943.0L1250.0 950.0M675.3 388.8L676.0 552.0L672.0 556.0L665.0 560.0L656.1 568.3L639.5 576.6L637.4 582.9L614.5 580.8L523.1 588.0L508.6 599.5L502.3 604.7L467.0 603.6L440.0 599.5L421.0 601.9L404.4 611.8L380.0 621.0L355.0 631.6L351.6 638.2L331.0 641.4L320.3 641.4L308.7 648.1L305.4 656.4L302.9 668.0L290.4 673.0L285.4 676.3L285.4 691.3L275.5 695.5L250.5 683.8L240.6 691.3L230.6 701.3L233.9 709.6L235.6 717.9L225.6 726.2L224.0 742.8L217.0 750.8L209.8 758.0L188.2 761.6L179.2 768.8L177.4 774.2L181.0 781.4L181.0 794.0L177.4 803.0L170.2 806.6L170.2 817.4L168.4 830.0L166.6 839.0M166.6 839.0L150.4 842.6L145.0 848.0L143.2 855.2L136.0 857.0L130.6 851.6L132.4 837.2L127.0 828.2L116.2 828.2L107.2 830.0L107.2 844.4L98.2 846.2L90.0 846.0M166.6 839.0L168.4 840.8L175.6 848.0L188.2 849.8L197.2 866.0L209.8 876.8L217.0 878.6L229.6 880.4L235.0 873.2L247.6 869.6L260.2 866.0L272.9 867.8L287.3 869.6L296.3 876.8L303.5 889.4L308.9 896.6L314.3 912.8L317.9 927.3L321.5 946.0M303.5 889.4L309.0 848.0L303.6 828.2L307.2 812.0L330.0 811.0L370.0 811.5L400.0 812.0L433.2 810.2L440.4 803.0L454.8 806.6L469.0 810.0L485.0 812.0L496.3 816.0L501.7 817.4L507.0 810.2M453.0 810.0L451.2 826.4L456.6 835.4L462.0 840.8L472.8 848.0L474.0 855.0L472.0 870.0L471.0 887.6L480.0 893.0L483.7 902.0L480.0 912.8L481.8 923.7L474.6 929.1L480.0 938.0L482.0 946.0M496.3 816.0L496.3 830.0L494.5 842.6L510.7 851.6L523.3 862.4L525.1 884.0L528.7 902.0L537.7 911.0L539.5 946.0M507.0 810.2L558.0 790.4L574.2 776.0L579.6 767.0L577.8 756.2L570.6 750.8L563.4 740.0L552.2 728.3L537.7 728.3L527.3 722.1L508.6 709.6L506.5 705.4L506.5 690.9L502.3 678.4L487.8 670.1L477.4 655.6L475.3 641.0L462.9 622.3L467.0 603.6M577.8 749.0L586.8 745.4L599.4 740.0L603.0 740.0L613.8 747.2L624.6 759.8L635.4 765.2L644.4 772.4M670.6 682.6L668.5 705.4L660.2 720.0L645.7 732.5L646.2 740.0L644.4 758.0L646.2 772.4L637.2 783.2L644.4 799.4L649.8 812.0L653.4 830.0L651.6 840.8L646.2 857.0L637.2 869.6L628.2 876.8L624.6 887.6L619.2 894.8L617.4 905.6L612.0 911.0L601.2 914.6L599.4 946.0M670.6 682.6L685.2 672.2L705.9 666.0L716.3 668.0L730.9 666.0L740.0 660.5L766.6 671.0L788.8 677.6L806.5 697.6L819.8 708.6L833.1 702.0L850.8 693.1L866.3 689.8L884.0 695.3L899.6 704.2L912.9 713.1L926.1 717.5L952.7 717.5L963.8 708.6L974.9 697.6L994.8 690.9L1017.0 688.7L1039.2 688.7L1060.0 690.9L1079.4 699.7L1091.9 701.8L1106.4 703.9L1114.7 693.5L1129.3 683.1L1145.9 674.8L1157.3 671.0" stroke="#000" stroke-width="4" fill="none" stroke-linejoin="round" stroke-linecap="round"/><path d="M97.6 689.6L119.3 688.0L132.5 679.7L140.9 669.7L165.8 661.4L192.4 648.1L210.7 631.5L212.3 618.2L217.3 608.2L232.3 591.6L247.2 588.3L255.5 581.6L257.2 570.0L262.2 560.0L270.0 540.0L294.8 520.8L310.0 512.0L330.0 507.0L351.1 492.6L372.0 494.8L404.0 497.0L412.7 498.0L423.5 503.4L436.5 501.3L443.0 509.9L449.5 522.9L456.0 538.1L460.4 552.0L469.1 560.0L481.6 568.3L481.6 574.5L494.0 582.9L489.9 601.6L500.3 612.0L510.6 626.5L527.3 643.1L535.6 659.7L556.4 676.4L573.0 688.8L579.2 705.4L585.4 724.1L597.9 732.5L612.5 747.0L627.0 760.0L635.4 765.2L644.4 772.4L651.6 779.6L666.0 786.8L676.8 797.6L687.6 804.8L694.8 808.4L700.2 821.0L691.2 842.6L691.2 848.0L694.8 862.4L696.6 882.2L700.2 896.6L703.8 907.4L710.0 925.0L715.0 946.0M97.6 732.8L114.3 727.9L125.9 716.2L127.6 706.3L145.8 698.0L164.1 698.0L184.1 693.0L204.0 686.3L219.0 676.3L222.3 666.4L233.9 653.1L237.3 643.1L235.6 626.5L240.6 616.5L250.5 601.5L247.2 588.3M235.6 560.0L229.0 568.3L235.6 583.3L247.2 588.3M250.5 760.0L257.2 746.1L265.5 736.2L272.2 722.9L278.8 721.2L283.8 724.5L290.4 732.8L305.4 739.5L308.7 747.8L305.4 760.0L305.4 770.6L307.2 799.4L303.6 828.2L309.0 848.0L310.8 869.6L316.2 902.0L310.8 912.8L319.8 929.1L330.6 946.0M402.6 750.8L415.2 770.6L417.0 781.4L433.2 799.4L436.8 821.0L433.2 831.8L417.0 831.8L400.8 840.8L400.8 862.4L406.2 878.6L384.6 884.0L386.4 898.4L397.2 912.8L399.0 927.3L409.8 946.0M553.9 790.4L532.3 786.8L516.0 799.4L503.5 817.4L489.0 837.2L474.6 851.6L471.0 884.0L467.4 902.0L469.2 916.4L462.0 946.0M168.4 840.8L175.6 848.0L188.2 849.8L197.2 866.0L209.8 876.8L217.0 878.6L227.8 884.0L235.0 889.4L238.6 902.0L249.4 907.4L254.8 914.6L254.8 920.0L256.6 927.3L251.2 934.5L249.4 946.0M118.0 735.0L118.0 740.0L125.2 754.4L121.6 776.0L114.4 781.4L116.2 799.4L127.0 812.0L132.4 830.0L132.4 844.4L127.0 862.4L123.4 882.2L109.0 889.4L90.0 890.0M137.8 893.0L141.4 884.0L155.8 875.0L170.2 876.8L179.2 885.8L177.4 898.4L170.2 912.8L168.4 927.3L164.8 946.0M833.1 781.8L817.6 772.9L806.5 755.2L784.3 737.5L762.2 721.9L740.0 702.0L720.5 703.4L703.9 705.4L689.3 722.1L674.8 734.5L664.4 745.0L666.0 754.4L673.2 776.0L676.8 797.6M873.1 776.6L895.1 766.3L906.2 772.9L919.5 757.4L939.4 750.7L972.7 739.7L1005.9 724.2L1023.7 715.3L1042.0 716.4L1060.0 715.3L1079.4 708.0L1091.9 701.8L1106.4 703.9L1114.7 693.5L1129.3 683.1L1145.9 674.8L1154.2 671.7M1005.9 724.2L1001.5 737.5L985.3 760.0L972.8 780.8L966.6 797.4L956.2 818.2L947.9 839.0L935.4 847.3L927.1 857.7L925.0 875.0M997.8 839.0L1006.1 822.3L1020.6 809.9L1039.3 807.8L1051.8 811.9L1058.0 822.3L1055.9 843.1L1060.1 851.4L1070.5 857.7L1080.9 868.0L1085.0 884.7L1070.5 893.0L1047.6 897.1L1031.0 913.7L1022.7 926.2L1010.2 932.4L991.5 936.6L985.3 946.0M1154.2 671.7L1166.7 676.9L1187.4 693.5L1204.1 699.7L1212.4 710.1L1214.5 720.5L1224.8 724.7L1231.1 737.1L1237.3 753.8L1241.2 757.1L1242.9 772.9L1241.2 794.1L1241.2 818.8L1244.7 834.7L1253.5 847.1L1264.1 859.4L1272.8 864.1L1283.6 881.4L1301.0 890.1L1311.8 903.1L1320.5 920.4L1314.0 929.1L1298.8 937.8L1290.0 946.0M1241.2 755.3L1253.5 764.1L1255.3 781.8L1260.6 802.9L1269.4 817.1L1280.0 822.4L1290.1 825.0L1311.8 835.9L1333.5 838.1L1345.0 833.0M1030.0 946.0L1040.0 935.0L1060.0 920.0L1085.0 905.0L1100.0 894.7L1108.8 903.5L1122.9 896.5L1138.8 905.3L1158.2 900.0L1170.6 912.4L1182.9 922.9L1184.7 931.8L1181.2 946.0M774.1 819.2L772.3 844.4L761.5 884.0L763.3 911.0L765.0 923.7L756.0 929.1L747.1 921.9L736.3 914.6L720.0 915.0L705.0 910.0M763.3 925.5L779.5 929.1L788.5 934.5L792.0 946.0M588.6 857.0L581.4 875.0L576.0 893.0L572.4 911.0L570.6 946.0M637.2 927.3L651.6 946.0M553.9 794.0L540.0 815.0L532.3 830.0M357.6 946.0L361.2 934.5L382.8 929.1L400.8 932.7M101.0 272.0L100.0 308.0L101.0 332.0M983.6 135.0L1000.0 150.0L1016.2 163.2" stroke="#0000ff" stroke-width="2" fill="none" stroke-linejoin="round" stroke-linecap="round"/>
<path d="M143.0 135.0V942.8M299.4 135.0V942.8M455.9 135.0V942.8M612.3 135.0V942.8M768.8 135.0V942.8M925.2 135.0V942.8M1081.7 135.0V942.8M1238.2 135.0V942.8M96.0 864.8H1341.3M96.0 760.5H1341.3M96.0 656.1H1341.3M96.0 551.8H1341.3M96.0 447.4H1341.3M96.0 343.1H1341.3M96.0 238.8H1341.3" stroke="#808080" stroke-opacity="0.5" stroke-width="1.67" stroke-dasharray="6.2 2.7" fill="none"/>
</g>
<rect x="96.0" y="135.0" width="1245.3" height="807.8" fill="none" stroke="#000" stroke-width="1.7"/>
<rect x="22.20" y="1115.9" width="107.58" height="69.9" fill="#ffffff"/><rect x="129.48" y="1115.9" width="107.58" height="69.9" fill="#add8e6"/><rect x="236.77" y="1115.9" width="107.58" height="69.9" fill="#87ceeb"/><rect x="344.05" y="1115.9" width="107.58" height="69.9" fill="#6495ed"/><rect x="451.34" y="1115.9" width="107.58" height="69.9" fill="#4169e1"/><rect x="558.62" y="1115.9" width="107.58" height="69.9" fill="#0000ff"/><rect x="665.91" y="1115.9" width="107.58" height="69.9" fill="#00bfff"/><rect x="773.19" y="1115.9" width="107.58" height="69.9" fill="#00ff00"/><rect x="880.48" y="1115.9" width="107.58" height="69.9" fill="#ffff00"/><rect x="987.76" y="1115.9" width="107.58" height="69.9" fill="#ffd700"/><rect x="1095.05" y="1115.9" width="107.58" height="69.9" fill="#ffa500"/><rect x="1202.33" y="1115.9" width="107.58" height="69.9" fill="#ff4500"/><rect x="1309.62" y="1115.9" width="107.28" height="69.9" fill="#b22222"/><rect x="22.2" y="1115.9" width="1394.7" height="69.9" fill="none" stroke="#000" stroke-width="1.7"/><path d="M22.2 1185.8v7M129.5 1185.8v7M236.8 1185.8v7M344.1 1185.8v7M451.3 1185.8v7M558.6 1185.8v7M665.9 1185.8v7M773.2 1185.8v7M880.5 1185.8v7M987.8 1185.8v7M1095.0 1185.8v7M1202.3 1185.8v7M1309.6 1185.8v7M1416.9 1185.8v7" stroke="#000" stroke-width="1.7"/>
<text x="696" y="37.2" font-size="29.17" font-weight="bold" text-anchor="middle" font-family="DejaVu Sans, Liberation Sans, sans-serif">SLAPIS</text><text x="108.1" y="122.8" font-size="20.83" font-family="DejaVu Sans, Liberation Sans, sans-serif">VALID: TUE, 07 OCT 2025 07 UTC</text><text x="719" y="122.8" font-size="20.83" text-anchor="middle" xml:space="preserve" font-family="DejaVu Sans, Liberation Sans, sans-serif">Vent à 850 hPa T= +07hr  WRF-GFS-4.0km</text><text x="1329.8" y="122.8" font-size="20.83" text-anchor="end" font-family="DejaVu Sans, Liberation Sans, sans-serif">Init: Tue, 00 UTC</text><text x="85.7" y="870.9" font-size="20.83" text-anchor="end" font-family="DejaVu Sans, Liberation Sans, sans-serif">10°N</text><text x="85.7" y="766.6" font-size="20.83" text-anchor="end" font-family="DejaVu Sans, Liberation Sans, sans-serif">12°N</text><text x="85.7" y="662.2" font-size="20.83" text-anchor="end" font-family="DejaVu Sans, Liberation Sans, sans-serif">14°N</text><text x="85.7" y="557.9" font-size="20.83" text-anchor="end" font-family="DejaVu Sans, Liberation Sans, sans-serif">16°N</text><text x="85.7" y="453.5" font-size="20.83" text-anchor="end" font-family="DejaVu Sans, Liberation Sans, sans-serif">18°N</text><text x="85.7" y="349.2" font-size="20.83" text-anchor="end" font-family="DejaVu Sans, Liberation Sans, sans-serif">20°N</text><text x="85.7" y="244.9" font-size="20.83" text-anchor="end" font-family="DejaVu Sans, Liberation Sans, sans-serif">22°N</text><text x="143.0" y="970" font-size="20.83" text-anchor="middle" font-family="DejaVu Sans, Liberation Sans, sans-serif">6°W</text><text x="299.4" y="970" font-size="20.83" text-anchor="middle" font-family="DejaVu Sans, Liberation Sans, sans-serif">3°W</text><text x="455.9" y="970" font-size="20.83" text-anchor="middle" font-family="DejaVu Sans, Liberation Sans, sans-serif">0°</text><text x="612.3" y="970" font-size="20.83" text-anchor="middle" font-family="DejaVu Sans, Liberation Sans, sans-serif">3°E</text><text x="768.8" y="970" font-size="20.83" text-anchor="middle" font-family="DejaVu Sans, Liberation Sans, sans-serif">6°E</text><text x="925.2" y="970" font-size="20.83" text-anchor="middle" font-family="DejaVu Sans, Liberation Sans, sans-serif">9°E</text><text x="1081.7" y="970" font-size="20.83" text-anchor="middle" font-family="DejaVu Sans, Liberation Sans, sans-serif">12°E</text><text x="1238.2" y="970" font-size="20.83" text-anchor="middle" font-family="DejaVu Sans, Liberation Sans, sans-serif">15°E</text><text x="22.2" y="1216.9" font-size="20.83" text-anchor="middle" font-family="DejaVu Sans, Liberation Sans, sans-serif">0</text><text x="129.5" y="1216.9" font-size="20.83" text-anchor="middle" font-family="DejaVu Sans, Liberation Sans, sans-serif">2</text><text x="236.8" y="1216.9" font-size="20.83" text-anchor="middle" font-family="DejaVu Sans, Liberation Sans, sans-serif">4</text><text x="344.1" y="1216.9" font-size="20.83" text-anchor="middle" font-family="DejaVu Sans, Liberation Sans, sans-serif">6</text><text x="451.3" y="1216.9" font-size="20.83" text-anchor="middle" font-family="DejaVu Sans, Liberation Sans, sans-serif">8</text><text x="558.6" y="1216.9" font-size="20.83" text-anchor="middle" font-family="DejaVu Sans, Liberation Sans, sans-serif">10</text><text x="665.9" y="1216.9" font-size="20.83" text-anchor="middle" font-family="DejaVu Sans, Liberation Sans, sans-serif">12</text><text x="773.2" y="1216.9" font-size="20.83" text-anchor="middle" font-family="DejaVu Sans, Liberation Sans, sans-serif">14</text><text x="880.5" y="1216.9" font-size="20.83" text-anchor="middle" font-family="DejaVu Sans, Liberation Sans, sans-serif">16</text><text x="987.8" y="1216.9" font-size="20.83" text-anchor="middle" font-family="DejaVu Sans, Liberation Sans, sans-serif">18</text><text x="1095.0" y="1216.9" font-size="20.83" text-anchor="middle" font-family="DejaVu Sans, Liberation Sans, sans-serif">20</text><text x="1202.3" y="1216.9" font-size="20.83" text-anchor="middle" font-family="DejaVu Sans, Liberation Sans, sans-serif">25</text><text x="1309.6" y="1216.9" font-size="20.83" text-anchor="middle" font-family="DejaVu Sans, Liberation Sans, sans-serif">30</text><text x="1416.9" y="1216.9" font-size="20.83" text-anchor="middle" font-family="DejaVu Sans, Liberation Sans, sans-serif">35</text><text x="719" y="1244.4" font-size="20.83" text-anchor="middle" font-family="DejaVu Sans, Liberation Sans, sans-serif">Vitesse du vent (m/s)</text>
</svg>
</body></html>
